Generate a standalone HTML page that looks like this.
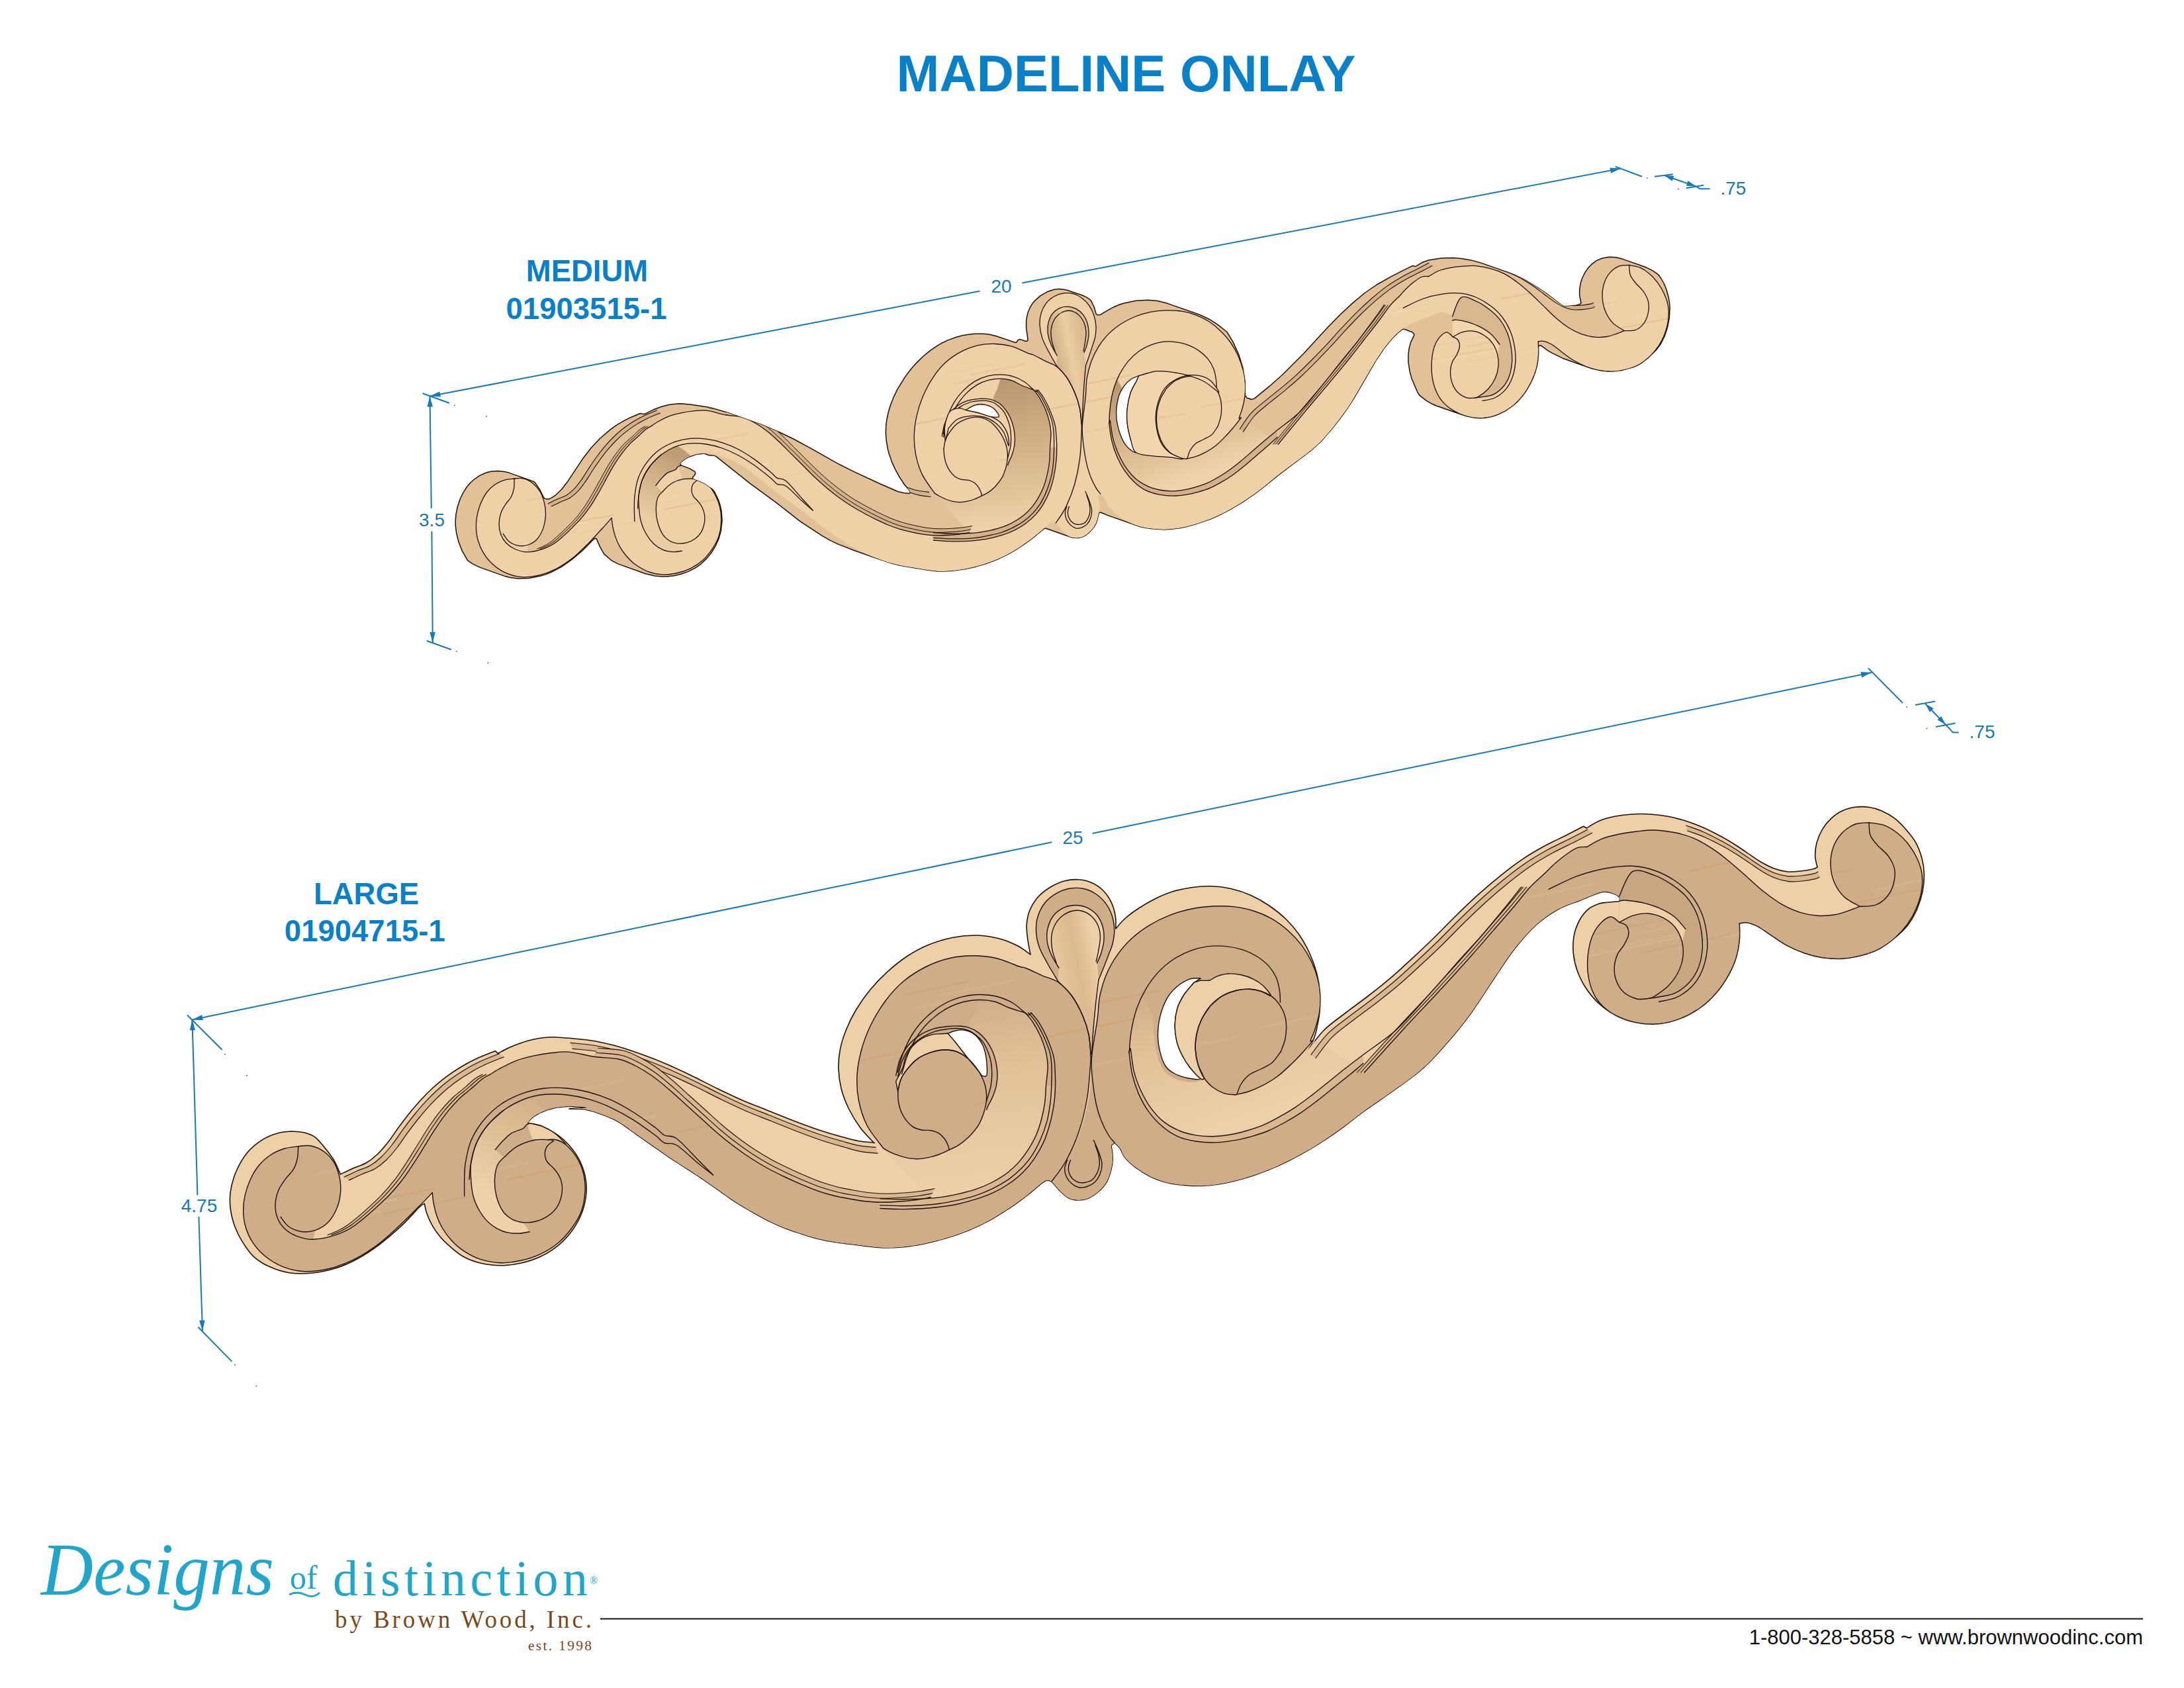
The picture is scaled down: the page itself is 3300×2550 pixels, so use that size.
<!DOCTYPE html>
<html><head><meta charset="utf-8"><title>Madeline Onlay</title>
<style>html,body{margin:0;padding:0;background:#fff}body{width:3300px;height:2550px;overflow:hidden}svg{display:block}</style>
</head><body>
<svg width="3300" height="2550" viewBox="0 0 3300 2550">
<rect width="3300" height="2550" fill="#fff"/>
<line x1="649.5" y1="598.5" x2="1480.6" y2="439.7" stroke="#1779b8" stroke-width="2"/>
<line x1="1544.3" y1="427.5" x2="2448.9" y2="254.6" stroke="#1779b8" stroke-width="2"/>
<polygon points="649.5,598.5 664.4,591.4 666,599.6" fill="#1779b8"/>
<polygon points="2448.9,254.6 2434,261.7 2432.4,253.5" fill="#1779b8"/>
<line x1="638.5" y1="594.3" x2="679.1" y2="609" stroke="#1779b8" stroke-width="2"/>
<line x1="2440.7" y1="251.6" x2="2481" y2="266.8" stroke="#1779b8" stroke-width="2"/>
<line x1="649.5" y1="598.5" x2="651.8" y2="768" stroke="#1779b8" stroke-width="2"/>
<line x1="652.4" y1="802.7" x2="653.8" y2="970.9" stroke="#1779b8" stroke-width="2"/>
<polygon points="649.5,598.5 653.9,614.5 645.5,614.5" fill="#1779b8"/>
<polygon points="653.8,970.9 649.4,954.9 657.8,954.9" fill="#1779b8"/>
<line x1="644.6" y1="968" x2="681.7" y2="981.2" stroke="#1779b8" stroke-width="2"/>
<circle cx="687" cy="612.3" r="1.1" fill="#777"/>
<circle cx="735" cy="629" r="1.1" fill="#777"/>
<circle cx="690" cy="984" r="1.1" fill="#777"/>
<circle cx="737.4" cy="1001.4" r="1.1" fill="#777"/>
<circle cx="2489" cy="269" r="1.1" fill="#777"/>
<circle cx="2536" cy="285.7" r="1.1" fill="#777"/>
<line x1="2514.8" y1="265" x2="2562.5" y2="281.5" stroke="#1779b8" stroke-width="2"/>
<polygon points="2514.8,265 2529.3,265.8 2526.7,273.4" fill="#1779b8"/>
<polygon points="2562.5,281.5 2548,280.7 2550.6,273.1" fill="#1779b8"/>
<line x1="2500" y1="266.8" x2="2527.7" y2="263.2" stroke="#1779b8" stroke-width="2"/>
<line x1="2547.8" y1="284.2" x2="2574.4" y2="279.7" stroke="#1779b8" stroke-width="2"/>
<polyline points="2562.5,281.5 2568.9,285.2 2583.5,285.2" fill="none" stroke="#1779b8" stroke-width="2"/>
<line x1="290.4" y1="1540.4" x2="1589.3" y2="1272.3" stroke="#1779b8" stroke-width="2"/>
<line x1="1650.8" y1="1258.9" x2="2828" y2="1016" stroke="#1779b8" stroke-width="2"/>
<polygon points="290.4,1540.4 305.2,1533 306.9,1541.3" fill="#1779b8"/>
<polygon points="2828,1016 2813.2,1023.4 2811.5,1015.1" fill="#1779b8"/>
<line x1="283" y1="1533.5" x2="335.7" y2="1586" stroke="#1779b8" stroke-width="2"/>
<line x1="2823" y1="1009.5" x2="2875" y2="1062" stroke="#1779b8" stroke-width="2"/>
<line x1="290.4" y1="1540.4" x2="298.4" y2="1805.4" stroke="#1779b8" stroke-width="2"/>
<line x1="300.4" y1="1837.7" x2="305.9" y2="2010.7" stroke="#1779b8" stroke-width="2"/>
<polygon points="290.4,1540.4 295.1,1556.3 286.7,1556.5" fill="#1779b8"/>
<polygon points="305.9,2010.7 301.2,1994.8 309.6,1994.6" fill="#1779b8"/>
<line x1="299.4" y1="2004.8" x2="350.2" y2="2056.6" stroke="#1779b8" stroke-width="2"/>
<circle cx="340" cy="1592.6" r="1.1" fill="#777"/>
<circle cx="373" cy="1624.7" r="1.1" fill="#777"/>
<circle cx="355" cy="2062" r="1.1" fill="#777"/>
<circle cx="387.4" cy="2094" r="1.1" fill="#777"/>
<circle cx="2881" cy="1068" r="1.1" fill="#777"/>
<circle cx="2911.5" cy="1100.5" r="1.1" fill="#777"/>
<line x1="2909" y1="1063" x2="2940" y2="1094.7" stroke="#1779b8" stroke-width="2"/>
<polygon points="2909,1063 2921.6,1070.2 2915.9,1075.8" fill="#1779b8"/>
<polygon points="2940,1094.7 2927.4,1087.5 2933.1,1081.9" fill="#1779b8"/>
<line x1="2894" y1="1065" x2="2924" y2="1059.5" stroke="#1779b8" stroke-width="2"/>
<line x1="2925" y1="1098" x2="2954.6" y2="1092.5" stroke="#1779b8" stroke-width="2"/>
<polyline points="2940,1094.7 2951,1106.6 2959.7,1106.6" fill="none" stroke="#1779b8" stroke-width="2"/>
<defs><clipPath id="clipL"><path d="M440 1709C443.3 1709.3 453.9 1709.4 460 1711C466.1 1712.6 471.4 1714.3 476.7 1718.3C481.9 1722.3 486.9 1729.2 491.7 1735C496.4 1740.8 501.5 1747.5 505 1753.3C508.5 1759.2 511.1 1766.6 512.7 1770C514.2 1773.4 514.1 1773.3 514.3 1774C517.5 1772.5 526.8 1767.9 533.3 1765C539.8 1762.1 547.2 1760.2 553.3 1756.7C559.4 1753.2 564.4 1749.3 570 1744C575.6 1738.7 581.1 1732.1 586.7 1725C592.2 1717.9 597.8 1709.2 603.3 1701.7C608.9 1694.2 614.4 1686.8 620 1680C625.6 1673.2 631.1 1666.7 636.7 1660.7C642.2 1654.7 647.2 1649.6 653.3 1644C659.4 1638.4 666.1 1632.7 673.3 1627.3C680.6 1621.9 688.9 1616.3 696.7 1611.7C704.4 1607 711.4 1603.3 720 1599.3C728.6 1595.3 743.6 1589.6 748.3 1587.7L752.3 1591.3C755.3 1589.8 764.3 1584.9 770 1582.3C775.7 1579.7 781.1 1577.6 786.7 1575.7C792.2 1573.7 797.8 1572 803.3 1570.7C808.9 1569.3 814.4 1568.3 820 1567.7C825.6 1567 830 1566.6 836.7 1566.7C843.3 1566.8 849.9 1567.4 860 1568.3C870.1 1569.3 885 1570.3 897.5 1572.5C910 1574.7 922.5 1577.7 935 1581.2C947.5 1584.8 960 1589.2 972.5 1593.8C985 1598.3 997.5 1603.3 1010 1608.8C1022.5 1614.2 1035 1620.2 1047.5 1626.2C1060 1632.3 1072.5 1639 1085 1645C1097.5 1651 1110 1657.1 1122.5 1662.5C1135 1667.9 1147.5 1672.5 1160 1677.5C1172.5 1682.5 1185 1687.7 1197.5 1692.5C1210 1697.3 1222.5 1702.1 1235 1706.2C1247.5 1710.4 1262.1 1714.6 1272.5 1717.5C1282.9 1720.4 1289.4 1722.3 1297.5 1723.8C1305.6 1725.2 1317.3 1725.8 1321.2 1726.2L1320.8 1726.8C1317.3 1722.9 1306.4 1712.4 1300 1703.8C1293.6 1695.1 1287.3 1684.8 1282.5 1675C1277.7 1665.2 1273.8 1655 1271.2 1645C1268.7 1635 1267.3 1625 1267 1615C1266.7 1605 1267.5 1595 1269.5 1585C1271.5 1575 1274.7 1565 1278.8 1555C1282.8 1545 1287.7 1535 1293.8 1525C1299.8 1515 1307.3 1504.4 1315 1495C1322.7 1485.6 1330.8 1477.1 1340 1468.8C1349.2 1460.4 1359.6 1451.9 1370 1445C1380.4 1438.1 1390.8 1432.3 1402.5 1427.5C1414.2 1422.7 1427.5 1418.7 1440 1416.2C1452.5 1413.8 1465.8 1412.7 1477.5 1413C1489.2 1413.3 1500 1415.4 1510 1418C1520 1420.6 1529.7 1424.8 1537.5 1428.8C1545.3 1432.8 1553.8 1439.8 1557 1442C1556.3 1438.3 1554 1427.4 1553 1420C1552 1412.6 1550.8 1404.8 1551.2 1397.5C1551.7 1390.2 1552.8 1383.1 1555.5 1376.2C1558.2 1369.4 1562.4 1362.2 1567.5 1356.2C1572.6 1350.3 1579.4 1345 1586.2 1340.8C1593.1 1336.5 1601.5 1332.8 1608.8 1330.8C1616 1328.8 1623.1 1328.2 1630 1328.8C1636.9 1329.2 1643.8 1331 1650 1333.8C1656.2 1336.5 1662.1 1340.5 1667 1345.5C1671.9 1350.5 1676.4 1357.2 1679.5 1363.8C1682.6 1370.3 1684.5 1378.5 1685.5 1385C1686.5 1391.5 1685.7 1400 1685.8 1403C1688.1 1400.4 1694.3 1392.6 1700 1387.5C1705.7 1382.4 1712.5 1377.4 1720 1372.5C1727.5 1367.6 1736.7 1362.2 1745 1358C1753.3 1353.8 1760.8 1350.4 1770 1347.5C1779.2 1344.6 1790 1342.2 1800 1340.8C1810 1339.3 1820 1338.5 1830 1338.8C1840 1339 1850 1340.2 1860 1342.5C1870 1344.8 1880.4 1348.2 1890 1352.5C1899.6 1356.8 1908.8 1362.1 1917.5 1368C1926.2 1373.9 1935 1380.8 1942.5 1388C1950 1395.2 1956.5 1402.6 1962.5 1411.2C1968.5 1419.9 1974.2 1430.2 1978.8 1440C1983.2 1449.8 1986.9 1460 1989.5 1470C1992.1 1480 1993.8 1490 1994.5 1500C1995.2 1510 1994.7 1520.4 1993.8 1530C1992.8 1539.6 1990.3 1550.6 1988.8 1557.5C1987.2 1564.4 1985.2 1569 1984.5 1571.2L1975 1588.3C1979.2 1583.1 1990.3 1566.4 2000 1556.7C2009.7 1546.9 2022.2 1538.6 2033.3 1530C2044.4 1521.4 2055.6 1513.6 2066.7 1505C2077.8 1496.4 2088.9 1487.8 2100 1478.3C2111.1 1468.9 2122.2 1458.6 2133.3 1448.3C2144.4 1438.1 2155.6 1427.5 2166.7 1416.7C2177.8 1405.8 2188.9 1394.2 2200 1383.3C2211.1 1372.5 2222.2 1361.7 2233.3 1351.7C2244.4 1341.7 2255.6 1332.2 2266.7 1323.3C2277.8 1314.4 2288.9 1305.8 2300 1298.3C2311.1 1290.8 2322.2 1284.4 2333.3 1278.3C2344.4 1272.2 2356.8 1266.7 2366.7 1261.7C2376.6 1256.7 2388.3 1250.6 2392.7 1248.3L2397.3 1251C2400.6 1249.2 2409.6 1242.9 2416.7 1240C2423.8 1237.1 2431.7 1235 2440 1233.3C2448.3 1231.7 2457.8 1230.6 2466.7 1230C2475.6 1229.4 2484.4 1229.4 2493.3 1230C2502.2 1230.6 2511.1 1231.7 2520 1233.3C2528.9 1235 2537.8 1237.2 2546.7 1240C2555.6 1242.8 2564.4 1246.1 2573.3 1250C2582.2 1253.9 2592.2 1259.2 2600 1263.3C2607.8 1267.5 2613.3 1270.8 2620 1275C2626.7 1279.2 2633.3 1283.9 2640 1288.3C2646.7 1292.8 2653.3 1297.8 2660 1301.7C2666.7 1305.6 2673.3 1309.2 2680 1311.7C2686.7 1314.2 2693.3 1315.9 2700 1316.7C2706.7 1317.4 2713.3 1316.7 2720 1316C2726.7 1315.3 2735.7 1313.7 2740 1312.7C2744.3 1311.7 2745 1310.4 2746 1310C2745.4 1307.2 2742.8 1299.4 2742.7 1293.3C2742.5 1287.2 2743.2 1280 2745 1273.3C2746.8 1266.7 2749.7 1259.4 2753.3 1253.3C2756.9 1247.2 2761.7 1241.4 2766.7 1236.7C2771.7 1231.9 2777.2 1227.9 2783.3 1225C2789.4 1222.1 2796.7 1220.3 2803.3 1219.3C2810 1218.4 2816.7 1218.4 2823.3 1219.3C2830 1220.3 2836.7 1222.1 2843.3 1225C2850 1227.9 2857.2 1231.9 2863.3 1236.7C2869.4 1241.4 2874.7 1247.2 2880 1253.3C2885.3 1259.4 2891 1266.1 2895 1273.3C2899 1280.6 2901.9 1288.9 2904 1296.7C2906.1 1304.4 2907.2 1311.7 2907.3 1320C2907.5 1328.3 2906.8 1337.8 2905 1346.7C2903.2 1355.6 2900.3 1365 2896.7 1373.3C2893.1 1381.7 2888.9 1389.4 2883.3 1396.7C2877.8 1403.9 2870.6 1410.6 2863.3 1416.7C2856.1 1422.8 2848.3 1428.9 2840 1433.3C2831.7 1437.8 2822.8 1440.8 2813.3 1443.3C2803.9 1445.8 2793.3 1447.8 2783.3 1448.3C2773.3 1448.9 2762.8 1448.1 2753.3 1446.7C2743.9 1445.3 2735.6 1443.1 2726.7 1440C2717.8 1436.9 2708.3 1432.8 2700 1428.3C2691.7 1423.9 2683.9 1418.1 2676.7 1413.3C2669.4 1408.6 2662.8 1403.2 2656.7 1400C2650.6 1396.8 2644.7 1394.8 2640 1394C2635.3 1393.2 2630.3 1394.8 2628.3 1395C2628.3 1399.2 2629.2 1411.4 2628.3 1420C2627.5 1428.6 2626.1 1437.8 2623.3 1446.7C2620.6 1455.6 2616.7 1464.4 2611.7 1473.3C2606.7 1482.2 2600.3 1491.9 2593.3 1500C2586.4 1508.1 2578.9 1515.3 2570 1521.7C2561.1 1528.1 2550.6 1534.2 2540 1538.3C2529.4 1542.5 2517.8 1545.6 2506.7 1546.7C2495.6 1547.8 2483.9 1546.9 2473.3 1545C2462.8 1543.1 2452.8 1539.7 2443.3 1535C2433.9 1530.3 2424.4 1523.6 2416.7 1516.7C2408.9 1509.7 2402.2 1501.7 2396.7 1493.3C2391.1 1485 2386.6 1475.6 2383.3 1466.7C2380.1 1457.8 2378.2 1448.9 2377.3 1440C2376.5 1431.1 2376.8 1421.7 2378.3 1413.3C2379.9 1405 2383.1 1396.7 2386.7 1390C2390.3 1383.3 2395 1377.5 2400 1373.3C2405 1369.2 2411.9 1366.7 2416.7 1365C2421.4 1363.3 2423.3 1363.9 2428.3 1363.3C2433.3 1362.8 2443.6 1361.9 2446.7 1361.7C2446.7 1360.7 2448.6 1357.7 2447 1355.7C2445.4 1353.7 2441.8 1351 2437.3 1349.7C2432.8 1348.3 2428.2 1346 2420 1347.7C2411.8 1349.4 2399.2 1355.7 2388.4 1359.9C2377.6 1364.2 2366.3 1367.1 2355.2 1373.2C2344.1 1379.3 2333.1 1386.4 2322 1396.4C2311 1406.4 2299.9 1418.8 2288.8 1432.9C2277.8 1447 2266.7 1464.7 2255.7 1481C2244.6 1497.3 2233.5 1515.6 2222.5 1530.8C2211.4 1546 2202.6 1557.4 2189.3 1572.2C2176 1587.1 2164.4 1602.2 2142.9 1620C2121.3 1637.9 2078.5 1665.9 2060 1679.4C2041.5 1692.9 2042 1693.5 2031.8 1701C2021.6 1708.5 2009.7 1717 1998.6 1724.2C1987.5 1731.4 1976.5 1738.1 1965.4 1744.1C1954.4 1750.2 1943.3 1755.8 1932.2 1760.7C1921.2 1765.7 1910.1 1770.1 1899.1 1774C1888 1777.9 1875.6 1781.5 1865.9 1784C1856.2 1786.4 1849.3 1787.7 1841 1788.9C1832.7 1790.2 1824.4 1791.1 1816.1 1791.4C1807.8 1791.7 1799.5 1791.3 1791.2 1790.6C1782.9 1789.9 1774.7 1789.2 1766.4 1787.3C1758.1 1785.3 1749.8 1782.8 1741.5 1779C1733.2 1775.1 1723.5 1769 1716.6 1764C1709.7 1759.1 1704 1754 1700 1749.1C1696 1744.3 1695.1 1738.8 1692.5 1735C1689.9 1731.2 1685.6 1727.7 1684.2 1726.2L1678.8 1730.5C1679 1732.1 1680.1 1736.3 1680.5 1740C1680.9 1743.7 1681.5 1747.9 1681.2 1752.5C1681 1757.1 1680.2 1762.1 1678.8 1767.5C1677.3 1772.9 1675.6 1779.6 1672.5 1785C1669.4 1790.4 1664.6 1795.8 1660 1800C1655.4 1804.2 1650 1807.8 1645 1810C1640 1812.2 1635 1813 1630 1813C1625 1813 1619.6 1812.2 1615 1810C1610.4 1807.8 1606.2 1803.5 1602.5 1800C1598.8 1796.5 1594.8 1791.2 1592.5 1788.8C1590.2 1786.2 1589.4 1785.6 1588.8 1785C1587.1 1784.9 1584.6 1781.1 1578.8 1784.3C1573 1787.5 1562.2 1797.9 1554 1804.2C1545.7 1810.6 1538.7 1816 1529.1 1822.5C1519.4 1829 1507 1837.1 1495.9 1843.2C1484.8 1849.3 1473.8 1854.4 1462.7 1859C1451.7 1863.5 1440.6 1867.3 1429.5 1870.6C1418.5 1873.9 1407.4 1876.7 1396.4 1878.9C1385.3 1881.1 1374.2 1882.9 1363.2 1883.9C1352.1 1884.8 1343 1885.4 1330 1884.7C1317 1884 1296.7 1880.9 1285 1879.5C1273.3 1878.1 1268.3 1877.6 1260 1876.2C1251.7 1874.9 1243.3 1873.3 1235 1871.2C1226.7 1869.2 1218.3 1866.5 1210 1863.8C1201.7 1861 1193.3 1858.3 1185 1855C1176.7 1851.7 1168.3 1847.9 1160 1843.8C1151.7 1839.6 1143.3 1834.8 1135 1830C1126.7 1825.2 1118.3 1820.4 1110 1815C1101.7 1809.6 1093.3 1803.3 1085 1797.5C1076.7 1791.7 1068.3 1785.6 1060 1780C1051.7 1774.4 1043.3 1769.2 1035 1763.8C1026.7 1758.3 1018.3 1753.1 1010 1747.5C1001.7 1741.9 993.3 1735.8 985 1730C976.7 1724.2 968.3 1718.3 960 1712.5C951.7 1706.7 943.3 1699.8 935 1695C926.7 1690.2 918.3 1686.9 910 1683.8C901.7 1680.6 893.3 1677.7 885 1676.2C876.7 1674.8 859.7 1675.5 860 1675C860.3 1674.5 887.8 1673.9 886.7 1673.3C885.6 1672.8 863.3 1671.1 853.3 1671.7C843.3 1672.2 834.4 1674.2 826.7 1676.7C818.9 1679.2 811.7 1683.3 806.7 1686.7C801.7 1690.1 798.3 1695.3 796.7 1697C797.8 1697.1 799.4 1696.6 803.3 1697.3C807.2 1698.1 814.2 1699.3 820 1701.7C825.8 1704.1 832.2 1707.5 838.3 1711.7C844.4 1715.8 850.8 1720.6 856.7 1726.7C862.5 1732.8 868.9 1740.6 873.3 1748.3C877.8 1756.1 881.2 1764.7 883.3 1773.3C885.4 1781.9 886.6 1790.6 886 1800C885.4 1809.4 883.5 1820.3 880 1830C876.5 1839.7 871.1 1849.7 865 1858.3C858.9 1866.9 851.4 1875 843.3 1881.7C835.3 1888.3 826.1 1893.9 816.7 1898.3C807.2 1902.8 796.7 1906.1 786.7 1908.3C776.7 1910.6 766.7 1911.7 756.7 1911.7C746.7 1911.7 736.1 1910.6 726.7 1908.3C717.2 1906.1 708.1 1902.8 700 1898.3C691.9 1893.9 684.2 1886.7 678.3 1881.7C672.5 1876.7 669.2 1873.3 665 1868.3C660.8 1863.3 656.7 1857.5 653.3 1851.7C650 1845.8 647 1838.9 645 1833.3C643 1827.8 641.9 1820.8 641.3 1818.3C640 1819.3 639.1 1818.4 633.3 1824C627.6 1829.6 616.7 1842.3 606.7 1851.7C596.7 1861 584.4 1871.7 573.3 1880C562.2 1888.3 551.1 1895.7 540 1901.7C528.9 1907.7 518.3 1912.4 506.7 1916C495 1919.6 481.7 1922.2 470 1923.3C458.3 1924.4 447.2 1924.3 436.7 1922.7C426.1 1921 415.6 1917.4 406.7 1913.3C397.8 1909.3 390 1904.4 383.3 1898.3C376.7 1892.2 371.4 1884.2 366.7 1876.7C361.9 1869.2 358.1 1861.7 355 1853.3C351.9 1845 349.4 1835.6 348.3 1826.7C347.2 1817.8 346.9 1809.4 348.3 1800C349.7 1790.6 352.5 1779.7 356.7 1770C360.8 1760.3 366.7 1749.7 373.3 1741.7C380 1733.6 388.9 1726.7 396.7 1721.7C404.4 1716.7 412.8 1713.8 420 1711.7C427.2 1709.6 436.7 1709.4 440 1709Z"/></clipPath></defs>
<defs><linearGradient id="gvalLL" gradientUnits="userSpaceOnUse" x1="1470" y1="1500" x2="1500" y2="1800"><stop offset="0" stop-color="#cfad88"/><stop offset="0.4" stop-color="#e3c299"/><stop offset="1" stop-color="#edcfa8"/></linearGradient><linearGradient id="gvalRL" gradientUnits="userSpaceOnUse" x1="1720" y1="1500" x2="1800" y2="1720"><stop offset="0" stop-color="#cfad88"/><stop offset="0.4" stop-color="#e3c299"/><stop offset="1" stop-color="#edcfa8"/></linearGradient><linearGradient id="gc2L" gradientUnits="userSpaceOnUse" x1="800" y1="1680" x2="730" y2="1800"><stop offset="0" stop-color="#d6b48c"/><stop offset="1" stop-color="#efd2aa"/></linearGradient><linearGradient id="gstemL" gradientUnits="userSpaceOnUse" x1="1600" y1="1500" x2="1665" y2="1487"><stop offset="0" stop-color="#e9caa0"/><stop offset="0.55" stop-color="#dcb88e"/><stop offset="1" stop-color="#ecd0a8"/></linearGradient></defs>
<path d="M440 1709C443.3 1709.3 453.9 1709.4 460 1711C466.1 1712.6 471.4 1714.3 476.7 1718.3C481.9 1722.3 486.9 1729.2 491.7 1735C496.4 1740.8 501.5 1747.5 505 1753.3C508.5 1759.2 511.1 1766.6 512.7 1770C514.2 1773.4 514.1 1773.3 514.3 1774C517.5 1772.5 526.8 1767.9 533.3 1765C539.8 1762.1 547.2 1760.2 553.3 1756.7C559.4 1753.2 564.4 1749.3 570 1744C575.6 1738.7 581.1 1732.1 586.7 1725C592.2 1717.9 597.8 1709.2 603.3 1701.7C608.9 1694.2 614.4 1686.8 620 1680C625.6 1673.2 631.1 1666.7 636.7 1660.7C642.2 1654.7 647.2 1649.6 653.3 1644C659.4 1638.4 666.1 1632.7 673.3 1627.3C680.6 1621.9 688.9 1616.3 696.7 1611.7C704.4 1607 711.4 1603.3 720 1599.3C728.6 1595.3 743.6 1589.6 748.3 1587.7L752.3 1591.3C755.3 1589.8 764.3 1584.9 770 1582.3C775.7 1579.7 781.1 1577.6 786.7 1575.7C792.2 1573.7 797.8 1572 803.3 1570.7C808.9 1569.3 814.4 1568.3 820 1567.7C825.6 1567 830 1566.6 836.7 1566.7C843.3 1566.8 849.9 1567.4 860 1568.3C870.1 1569.3 885 1570.3 897.5 1572.5C910 1574.7 922.5 1577.7 935 1581.2C947.5 1584.8 960 1589.2 972.5 1593.8C985 1598.3 997.5 1603.3 1010 1608.8C1022.5 1614.2 1035 1620.2 1047.5 1626.2C1060 1632.3 1072.5 1639 1085 1645C1097.5 1651 1110 1657.1 1122.5 1662.5C1135 1667.9 1147.5 1672.5 1160 1677.5C1172.5 1682.5 1185 1687.7 1197.5 1692.5C1210 1697.3 1222.5 1702.1 1235 1706.2C1247.5 1710.4 1262.1 1714.6 1272.5 1717.5C1282.9 1720.4 1289.4 1722.3 1297.5 1723.8C1305.6 1725.2 1317.3 1725.8 1321.2 1726.2L1320.8 1726.8C1317.3 1722.9 1306.4 1712.4 1300 1703.8C1293.6 1695.1 1287.3 1684.8 1282.5 1675C1277.7 1665.2 1273.8 1655 1271.2 1645C1268.7 1635 1267.3 1625 1267 1615C1266.7 1605 1267.5 1595 1269.5 1585C1271.5 1575 1274.7 1565 1278.8 1555C1282.8 1545 1287.7 1535 1293.8 1525C1299.8 1515 1307.3 1504.4 1315 1495C1322.7 1485.6 1330.8 1477.1 1340 1468.8C1349.2 1460.4 1359.6 1451.9 1370 1445C1380.4 1438.1 1390.8 1432.3 1402.5 1427.5C1414.2 1422.7 1427.5 1418.7 1440 1416.2C1452.5 1413.8 1465.8 1412.7 1477.5 1413C1489.2 1413.3 1500 1415.4 1510 1418C1520 1420.6 1529.7 1424.8 1537.5 1428.8C1545.3 1432.8 1553.8 1439.8 1557 1442C1556.3 1438.3 1554 1427.4 1553 1420C1552 1412.6 1550.8 1404.8 1551.2 1397.5C1551.7 1390.2 1552.8 1383.1 1555.5 1376.2C1558.2 1369.4 1562.4 1362.2 1567.5 1356.2C1572.6 1350.3 1579.4 1345 1586.2 1340.8C1593.1 1336.5 1601.5 1332.8 1608.8 1330.8C1616 1328.8 1623.1 1328.2 1630 1328.8C1636.9 1329.2 1643.8 1331 1650 1333.8C1656.2 1336.5 1662.1 1340.5 1667 1345.5C1671.9 1350.5 1676.4 1357.2 1679.5 1363.8C1682.6 1370.3 1684.5 1378.5 1685.5 1385C1686.5 1391.5 1685.7 1400 1685.8 1403C1688.1 1400.4 1694.3 1392.6 1700 1387.5C1705.7 1382.4 1712.5 1377.4 1720 1372.5C1727.5 1367.6 1736.7 1362.2 1745 1358C1753.3 1353.8 1760.8 1350.4 1770 1347.5C1779.2 1344.6 1790 1342.2 1800 1340.8C1810 1339.3 1820 1338.5 1830 1338.8C1840 1339 1850 1340.2 1860 1342.5C1870 1344.8 1880.4 1348.2 1890 1352.5C1899.6 1356.8 1908.8 1362.1 1917.5 1368C1926.2 1373.9 1935 1380.8 1942.5 1388C1950 1395.2 1956.5 1402.6 1962.5 1411.2C1968.5 1419.9 1974.2 1430.2 1978.8 1440C1983.2 1449.8 1986.9 1460 1989.5 1470C1992.1 1480 1993.8 1490 1994.5 1500C1995.2 1510 1994.7 1520.4 1993.8 1530C1992.8 1539.6 1990.3 1550.6 1988.8 1557.5C1987.2 1564.4 1985.2 1569 1984.5 1571.2L1975 1588.3C1979.2 1583.1 1990.3 1566.4 2000 1556.7C2009.7 1546.9 2022.2 1538.6 2033.3 1530C2044.4 1521.4 2055.6 1513.6 2066.7 1505C2077.8 1496.4 2088.9 1487.8 2100 1478.3C2111.1 1468.9 2122.2 1458.6 2133.3 1448.3C2144.4 1438.1 2155.6 1427.5 2166.7 1416.7C2177.8 1405.8 2188.9 1394.2 2200 1383.3C2211.1 1372.5 2222.2 1361.7 2233.3 1351.7C2244.4 1341.7 2255.6 1332.2 2266.7 1323.3C2277.8 1314.4 2288.9 1305.8 2300 1298.3C2311.1 1290.8 2322.2 1284.4 2333.3 1278.3C2344.4 1272.2 2356.8 1266.7 2366.7 1261.7C2376.6 1256.7 2388.3 1250.6 2392.7 1248.3L2397.3 1251C2400.6 1249.2 2409.6 1242.9 2416.7 1240C2423.8 1237.1 2431.7 1235 2440 1233.3C2448.3 1231.7 2457.8 1230.6 2466.7 1230C2475.6 1229.4 2484.4 1229.4 2493.3 1230C2502.2 1230.6 2511.1 1231.7 2520 1233.3C2528.9 1235 2537.8 1237.2 2546.7 1240C2555.6 1242.8 2564.4 1246.1 2573.3 1250C2582.2 1253.9 2592.2 1259.2 2600 1263.3C2607.8 1267.5 2613.3 1270.8 2620 1275C2626.7 1279.2 2633.3 1283.9 2640 1288.3C2646.7 1292.8 2653.3 1297.8 2660 1301.7C2666.7 1305.6 2673.3 1309.2 2680 1311.7C2686.7 1314.2 2693.3 1315.9 2700 1316.7C2706.7 1317.4 2713.3 1316.7 2720 1316C2726.7 1315.3 2735.7 1313.7 2740 1312.7C2744.3 1311.7 2745 1310.4 2746 1310C2745.4 1307.2 2742.8 1299.4 2742.7 1293.3C2742.5 1287.2 2743.2 1280 2745 1273.3C2746.8 1266.7 2749.7 1259.4 2753.3 1253.3C2756.9 1247.2 2761.7 1241.4 2766.7 1236.7C2771.7 1231.9 2777.2 1227.9 2783.3 1225C2789.4 1222.1 2796.7 1220.3 2803.3 1219.3C2810 1218.4 2816.7 1218.4 2823.3 1219.3C2830 1220.3 2836.7 1222.1 2843.3 1225C2850 1227.9 2857.2 1231.9 2863.3 1236.7C2869.4 1241.4 2874.7 1247.2 2880 1253.3C2885.3 1259.4 2891 1266.1 2895 1273.3C2899 1280.6 2901.9 1288.9 2904 1296.7C2906.1 1304.4 2907.2 1311.7 2907.3 1320C2907.5 1328.3 2906.8 1337.8 2905 1346.7C2903.2 1355.6 2900.3 1365 2896.7 1373.3C2893.1 1381.7 2888.9 1389.4 2883.3 1396.7C2877.8 1403.9 2870.6 1410.6 2863.3 1416.7C2856.1 1422.8 2848.3 1428.9 2840 1433.3C2831.7 1437.8 2822.8 1440.8 2813.3 1443.3C2803.9 1445.8 2793.3 1447.8 2783.3 1448.3C2773.3 1448.9 2762.8 1448.1 2753.3 1446.7C2743.9 1445.3 2735.6 1443.1 2726.7 1440C2717.8 1436.9 2708.3 1432.8 2700 1428.3C2691.7 1423.9 2683.9 1418.1 2676.7 1413.3C2669.4 1408.6 2662.8 1403.2 2656.7 1400C2650.6 1396.8 2644.7 1394.8 2640 1394C2635.3 1393.2 2630.3 1394.8 2628.3 1395C2628.3 1399.2 2629.2 1411.4 2628.3 1420C2627.5 1428.6 2626.1 1437.8 2623.3 1446.7C2620.6 1455.6 2616.7 1464.4 2611.7 1473.3C2606.7 1482.2 2600.3 1491.9 2593.3 1500C2586.4 1508.1 2578.9 1515.3 2570 1521.7C2561.1 1528.1 2550.6 1534.2 2540 1538.3C2529.4 1542.5 2517.8 1545.6 2506.7 1546.7C2495.6 1547.8 2483.9 1546.9 2473.3 1545C2462.8 1543.1 2452.8 1539.7 2443.3 1535C2433.9 1530.3 2424.4 1523.6 2416.7 1516.7C2408.9 1509.7 2402.2 1501.7 2396.7 1493.3C2391.1 1485 2386.6 1475.6 2383.3 1466.7C2380.1 1457.8 2378.2 1448.9 2377.3 1440C2376.5 1431.1 2376.8 1421.7 2378.3 1413.3C2379.9 1405 2383.1 1396.7 2386.7 1390C2390.3 1383.3 2395 1377.5 2400 1373.3C2405 1369.2 2411.9 1366.7 2416.7 1365C2421.4 1363.3 2423.3 1363.9 2428.3 1363.3C2433.3 1362.8 2443.6 1361.9 2446.7 1361.7C2446.7 1360.7 2448.6 1357.7 2447 1355.7C2445.4 1353.7 2441.8 1351 2437.3 1349.7C2432.8 1348.3 2428.2 1346 2420 1347.7C2411.8 1349.4 2399.2 1355.7 2388.4 1359.9C2377.6 1364.2 2366.3 1367.1 2355.2 1373.2C2344.1 1379.3 2333.1 1386.4 2322 1396.4C2311 1406.4 2299.9 1418.8 2288.8 1432.9C2277.8 1447 2266.7 1464.7 2255.7 1481C2244.6 1497.3 2233.5 1515.6 2222.5 1530.8C2211.4 1546 2202.6 1557.4 2189.3 1572.2C2176 1587.1 2164.4 1602.2 2142.9 1620C2121.3 1637.9 2078.5 1665.9 2060 1679.4C2041.5 1692.9 2042 1693.5 2031.8 1701C2021.6 1708.5 2009.7 1717 1998.6 1724.2C1987.5 1731.4 1976.5 1738.1 1965.4 1744.1C1954.4 1750.2 1943.3 1755.8 1932.2 1760.7C1921.2 1765.7 1910.1 1770.1 1899.1 1774C1888 1777.9 1875.6 1781.5 1865.9 1784C1856.2 1786.4 1849.3 1787.7 1841 1788.9C1832.7 1790.2 1824.4 1791.1 1816.1 1791.4C1807.8 1791.7 1799.5 1791.3 1791.2 1790.6C1782.9 1789.9 1774.7 1789.2 1766.4 1787.3C1758.1 1785.3 1749.8 1782.8 1741.5 1779C1733.2 1775.1 1723.5 1769 1716.6 1764C1709.7 1759.1 1704 1754 1700 1749.1C1696 1744.3 1695.1 1738.8 1692.5 1735C1689.9 1731.2 1685.6 1727.7 1684.2 1726.2L1678.8 1730.5C1679 1732.1 1680.1 1736.3 1680.5 1740C1680.9 1743.7 1681.5 1747.9 1681.2 1752.5C1681 1757.1 1680.2 1762.1 1678.8 1767.5C1677.3 1772.9 1675.6 1779.6 1672.5 1785C1669.4 1790.4 1664.6 1795.8 1660 1800C1655.4 1804.2 1650 1807.8 1645 1810C1640 1812.2 1635 1813 1630 1813C1625 1813 1619.6 1812.2 1615 1810C1610.4 1807.8 1606.2 1803.5 1602.5 1800C1598.8 1796.5 1594.8 1791.2 1592.5 1788.8C1590.2 1786.2 1589.4 1785.6 1588.8 1785C1587.1 1784.9 1584.6 1781.1 1578.8 1784.3C1573 1787.5 1562.2 1797.9 1554 1804.2C1545.7 1810.6 1538.7 1816 1529.1 1822.5C1519.4 1829 1507 1837.1 1495.9 1843.2C1484.8 1849.3 1473.8 1854.4 1462.7 1859C1451.7 1863.5 1440.6 1867.3 1429.5 1870.6C1418.5 1873.9 1407.4 1876.7 1396.4 1878.9C1385.3 1881.1 1374.2 1882.9 1363.2 1883.9C1352.1 1884.8 1343 1885.4 1330 1884.7C1317 1884 1296.7 1880.9 1285 1879.5C1273.3 1878.1 1268.3 1877.6 1260 1876.2C1251.7 1874.9 1243.3 1873.3 1235 1871.2C1226.7 1869.2 1218.3 1866.5 1210 1863.8C1201.7 1861 1193.3 1858.3 1185 1855C1176.7 1851.7 1168.3 1847.9 1160 1843.8C1151.7 1839.6 1143.3 1834.8 1135 1830C1126.7 1825.2 1118.3 1820.4 1110 1815C1101.7 1809.6 1093.3 1803.3 1085 1797.5C1076.7 1791.7 1068.3 1785.6 1060 1780C1051.7 1774.4 1043.3 1769.2 1035 1763.8C1026.7 1758.3 1018.3 1753.1 1010 1747.5C1001.7 1741.9 993.3 1735.8 985 1730C976.7 1724.2 968.3 1718.3 960 1712.5C951.7 1706.7 943.3 1699.8 935 1695C926.7 1690.2 918.3 1686.9 910 1683.8C901.7 1680.6 893.3 1677.7 885 1676.2C876.7 1674.8 859.7 1675.5 860 1675C860.3 1674.5 887.8 1673.9 886.7 1673.3C885.6 1672.8 863.3 1671.1 853.3 1671.7C843.3 1672.2 834.4 1674.2 826.7 1676.7C818.9 1679.2 811.7 1683.3 806.7 1686.7C801.7 1690.1 798.3 1695.3 796.7 1697C797.8 1697.1 799.4 1696.6 803.3 1697.3C807.2 1698.1 814.2 1699.3 820 1701.7C825.8 1704.1 832.2 1707.5 838.3 1711.7C844.4 1715.8 850.8 1720.6 856.7 1726.7C862.5 1732.8 868.9 1740.6 873.3 1748.3C877.8 1756.1 881.2 1764.7 883.3 1773.3C885.4 1781.9 886.6 1790.6 886 1800C885.4 1809.4 883.5 1820.3 880 1830C876.5 1839.7 871.1 1849.7 865 1858.3C858.9 1866.9 851.4 1875 843.3 1881.7C835.3 1888.3 826.1 1893.9 816.7 1898.3C807.2 1902.8 796.7 1906.1 786.7 1908.3C776.7 1910.6 766.7 1911.7 756.7 1911.7C746.7 1911.7 736.1 1910.6 726.7 1908.3C717.2 1906.1 708.1 1902.8 700 1898.3C691.9 1893.9 684.2 1886.7 678.3 1881.7C672.5 1876.7 669.2 1873.3 665 1868.3C660.8 1863.3 656.7 1857.5 653.3 1851.7C650 1845.8 647 1838.9 645 1833.3C643 1827.8 641.9 1820.8 641.3 1818.3C640 1819.3 639.1 1818.4 633.3 1824C627.6 1829.6 616.7 1842.3 606.7 1851.7C596.7 1861 584.4 1871.7 573.3 1880C562.2 1888.3 551.1 1895.7 540 1901.7C528.9 1907.7 518.3 1912.4 506.7 1916C495 1919.6 481.7 1922.2 470 1923.3C458.3 1924.4 447.2 1924.3 436.7 1922.7C426.1 1921 415.6 1917.4 406.7 1913.3C397.8 1909.3 390 1904.4 383.3 1898.3C376.7 1892.2 371.4 1884.2 366.7 1876.7C361.9 1869.2 358.1 1861.7 355 1853.3C351.9 1845 349.4 1835.6 348.3 1826.7C347.2 1817.8 346.9 1809.4 348.3 1800C349.7 1790.6 352.5 1779.7 356.7 1770C360.8 1760.3 366.7 1749.7 373.3 1741.7C380 1733.6 388.9 1726.7 396.7 1721.7C404.4 1716.7 412.8 1713.8 420 1711.7C427.2 1709.6 436.7 1709.4 440 1709Z" fill="#edcfa8" stroke="#1c1008" stroke-width="1.5999999999999999" stroke-linejoin="round"/>
<g clip-path="url(#clipL)">
<path d="M450.7 1731.7C453.9 1731.6 463.4 1729.6 470 1731C476.6 1732.4 484.2 1735.7 490 1740C495.8 1744.3 501.1 1750 505 1756.7C508.9 1763.3 511.8 1772.2 513.3 1780C514.9 1787.8 515.2 1795.6 514.3 1803.3C513.5 1811.1 511.6 1819.3 508.3 1826.7C505.1 1834 500.3 1842.1 495 1847.3C489.7 1852.6 479.7 1856.5 476.7 1858.3L473.3 1872.3C478.9 1871.2 496.1 1869.3 506.7 1865.7C517.2 1862.1 524 1859.8 536.7 1850.7C549.4 1841.5 571.1 1822 582.9 1810.6C594.8 1799.2 600.6 1791.5 607.8 1782.4C615 1773.3 620.3 1764.7 626.1 1755.8C631.9 1747 639.9 1733.7 642.7 1729.3C645.4 1724.9 653.5 1711.3 659.3 1702.8C665.1 1694.2 671.4 1685.3 677.5 1677.9C683.6 1670.4 691.1 1662.7 695.8 1658C700.5 1653.3 702.4 1652.4 705.7 1649.7C709 1646.9 711.8 1644.7 715.7 1641.4C719.5 1638.1 724.8 1632.8 728.9 1629.8C733.1 1626.7 738.6 1624.2 740.5 1623.1C743.3 1621.5 750.2 1616.8 757.1 1613.2C764 1609.6 773.7 1604.6 782 1601.6C790.3 1598.5 798.6 1596.7 806.9 1594.9C815.2 1593.1 822.9 1591.8 831.8 1590.8C840.6 1589.8 849 1588.2 860 1589.1C870.9 1590 885 1594.4 897.5 1596.2C910 1598.1 924.6 1597.7 935 1600C945.4 1602.3 951.7 1605.8 960 1610C968.3 1614.2 976.7 1619.2 985 1625C993.3 1630.8 1001.7 1637.9 1010 1645C1018.3 1652.1 1026.7 1660 1035 1667.5C1043.3 1675 1051.7 1682.5 1060 1690C1068.3 1697.5 1076.7 1705.4 1085 1712.5C1093.3 1719.6 1101.7 1726.2 1110 1732.5C1118.3 1738.8 1126.7 1744.6 1135 1750C1143.3 1755.4 1151.7 1760.4 1160 1765C1168.3 1769.6 1176.7 1773.5 1185 1777.5C1193.3 1781.5 1201.7 1785.2 1210 1788.8C1218.3 1792.3 1226.7 1795.8 1235 1798.8C1243.3 1801.7 1251.7 1804.2 1260 1806.2C1268.3 1808.3 1276.7 1809.8 1285 1811.2C1293.3 1812.7 1301.7 1814.2 1310 1815C1318.3 1815.8 1326.7 1816.2 1335 1816.2C1343.3 1816.2 1351.7 1815.6 1360 1815C1368.3 1814.4 1377.3 1813.5 1385 1812.5C1392.7 1811.5 1402.5 1809.4 1406 1808.8L1335 1735C1330.8 1729.2 1316.2 1712.1 1310 1700C1303.8 1687.9 1300 1675 1297.5 1662.5C1295 1650 1294.4 1637.5 1295 1625C1295.6 1612.5 1297.9 1600 1301.2 1587.5C1304.6 1575 1309 1562.5 1315 1550C1321 1537.5 1329.2 1523.8 1337.5 1512.5C1345.8 1501.2 1354.6 1491.2 1365 1482.5C1375.4 1473.8 1388.3 1465.8 1400 1460C1411.7 1454.2 1423.3 1450.2 1435 1447.5C1446.7 1444.8 1458.3 1443.8 1470 1443.8C1481.7 1443.8 1493.3 1444.8 1505 1447.5C1516.7 1450.2 1532.5 1457.5 1540 1460C1547.5 1462.5 1544.2 1460.2 1550 1462.5C1555.8 1464.8 1566.9 1470.2 1575 1473.8C1583.1 1477.3 1591.2 1478.5 1598.8 1483.8C1606.2 1489 1613.8 1496.5 1620 1505C1626.2 1513.5 1632.1 1525.4 1636.2 1535C1640.4 1544.6 1643 1552.9 1645 1562.5C1647 1572.1 1647.6 1584.6 1648 1592.5C1648.4 1600.4 1648.4 1598.8 1647.5 1610C1646.6 1621.2 1645.4 1643.3 1642.5 1660C1639.6 1676.7 1635.4 1694.2 1630 1710C1624.6 1725.8 1616.9 1742.5 1610 1755C1603.1 1767.5 1592.3 1780 1588.8 1785C1587.1 1784.9 1584.6 1781.1 1578.8 1784.3C1573 1787.5 1562.2 1797.9 1554 1804.2C1545.7 1810.6 1538.7 1816 1529.1 1822.5C1519.4 1829 1507 1837.1 1495.9 1843.2C1484.8 1849.3 1473.8 1854.4 1462.7 1859C1451.7 1863.5 1440.6 1867.3 1429.5 1870.6C1418.5 1873.9 1407.4 1876.7 1396.4 1878.9C1385.3 1881.1 1374.2 1882.9 1363.2 1883.9C1352.1 1884.8 1343 1885.4 1330 1884.7C1317 1884 1296.7 1880.9 1285 1879.5C1273.3 1878.1 1268.3 1877.6 1260 1876.2C1251.7 1874.9 1243.3 1873.3 1235 1871.2C1226.7 1869.2 1218.3 1866.5 1210 1863.8C1201.7 1861 1193.3 1858.3 1185 1855C1176.7 1851.7 1168.3 1847.9 1160 1843.8C1151.7 1839.6 1143.3 1834.8 1135 1830C1126.7 1825.2 1118.3 1820.4 1110 1815C1101.7 1809.6 1093.3 1803.3 1085 1797.5C1076.7 1791.7 1068.3 1785.6 1060 1780C1051.7 1774.4 1043.3 1769.2 1035 1763.8C1026.7 1758.3 1018.3 1753.1 1010 1747.5C1001.7 1741.9 993.3 1735.8 985 1730C976.7 1724.2 968.3 1718.3 960 1712.5C951.7 1706.7 943.3 1699.8 935 1695C926.7 1690.2 918.3 1686.9 910 1683.8C901.7 1680.6 893.3 1677.7 885 1676.2C876.7 1674.8 859.7 1675.5 860 1675C860.3 1674.5 887.8 1673.9 886.7 1673.3C885.6 1672.8 863.3 1671.1 853.3 1671.7C843.3 1672.2 834.4 1674.2 826.7 1676.7C818.9 1679.2 811.7 1683.3 806.7 1686.7C801.7 1690.1 798.3 1695.3 796.7 1697C798.3 1701.2 801.6 1718.2 806.7 1722.3C811.8 1726.4 823.9 1721.8 827.3 1721.7C829.4 1721.7 835.4 1720.4 840 1721.7C844.6 1722.9 849.7 1724.8 855 1729.3C860.3 1733.9 867.2 1741.7 871.7 1749C876.1 1756.3 879.6 1764.8 881.7 1773.3C883.7 1781.8 884.6 1790.6 884 1800C883.4 1809.4 881.8 1820.7 878.3 1830C874.9 1839.3 869.2 1848.1 863.3 1856C857.5 1863.9 851.1 1871.3 843.3 1877.7C835.6 1884.1 826.1 1889.9 816.7 1894.3C807.2 1898.8 796.7 1902.1 786.7 1904.3C776.7 1906.6 766.7 1907.9 756.7 1907.7C746.7 1907.4 736.1 1905.7 726.7 1902.7C717.2 1899.6 707.5 1894.2 700 1889.3C692.5 1884.4 686.9 1879.1 681.7 1873.3C676.4 1867.6 671.9 1861.1 668.3 1855C664.7 1848.9 662.2 1843.1 660 1836.7C657.8 1830.3 656.1 1822.5 655 1816.7C653.9 1810.8 653.6 1804.2 653.3 1801.7C650 1805.1 641.7 1814 633.3 1822.3C625 1830.7 613.9 1841.9 603.3 1851.7C592.8 1861.4 581.7 1872.1 570 1880.7C558.3 1889.3 545.6 1897.3 533.3 1903.3C521.1 1909.3 508.9 1913.8 496.7 1916.7C484.4 1919.6 471.7 1921.2 460 1920.7C448.3 1920.1 436.7 1917.2 426.7 1913.3C416.7 1909.4 407.5 1903.4 400 1897.3C392.5 1891.2 386.5 1884 381.7 1876.7C376.8 1869.3 373.3 1861.1 371 1853.3C368.7 1845.6 367.8 1837.8 367.7 1830C367.5 1822.2 368.2 1814.7 370 1806.7C371.8 1798.6 374.7 1789.4 378.3 1781.7C381.9 1773.9 386.4 1766.3 391.7 1760C396.9 1753.7 403.6 1748.2 410 1744C416.4 1739.8 423.2 1737.1 430 1735C436.8 1732.9 447.2 1732.2 450.7 1731.7Z" fill="#cfad88" stroke="none"/>
<path d="M1684.2 1726.2C1682.7 1724.4 1678.4 1720.6 1675 1715C1671.6 1709.4 1666.9 1700.4 1663.8 1692.5C1660.6 1684.6 1658.3 1677.1 1656.2 1667.5C1654.2 1657.9 1652.4 1646.7 1651.2 1635C1650.1 1623.3 1648.3 1613.5 1649.5 1597.5C1650.7 1581.5 1656.2 1554.3 1658.2 1539.1C1660.3 1523.8 1659.4 1517 1661.6 1505.9C1663.8 1494.8 1667.1 1483.2 1671.5 1472.7C1675.9 1462.2 1681.7 1452 1688.1 1442.9C1694.5 1433.7 1701.7 1425.4 1709.7 1418C1717.7 1410.5 1726.8 1403.9 1736.2 1398.1C1745.6 1392.3 1755.6 1387.3 1766.1 1383.1C1776.6 1379 1788.2 1375.5 1799.3 1373.2C1810.3 1370.8 1821.4 1369.6 1832.4 1369C1843.5 1368.5 1855.1 1368.6 1865.6 1369.9C1876.1 1371.1 1886.1 1373.5 1895.5 1376.5C1904.9 1379.5 1913.4 1383.1 1922 1388.1C1930.6 1393.1 1939.4 1399.7 1946.9 1406.4C1954.4 1413 1961 1420.2 1966.8 1427.9C1972.6 1435.7 1977.6 1444 1981.7 1452.8C1985.9 1461.7 1989.5 1472.2 1991.7 1481C1993.9 1489.9 1994.7 1497.6 1995 1505.9C1995.3 1514.2 1994.7 1522.5 1993.4 1530.8C1992 1539.1 1988.9 1548.7 1986.7 1555.7C1984.5 1562.6 1980.4 1569.7 1980.1 1572.2C1979.7 1574.8 1983.8 1571.4 1984.5 1571.2L2061.6 1620C2071.8 1608.7 2104.4 1572.5 2122.9 1552.3C2141.5 1532.2 2156.1 1517.2 2172.7 1499.3C2189.3 1481.3 2208.7 1460 2222.5 1444.5C2236.3 1429 2244.6 1419.1 2255.7 1406.4C2266.7 1393.6 2279.4 1379.3 2288.8 1368.2C2298.2 1357.1 2304.6 1348 2312.1 1340C2319.5 1332 2327 1326 2333.3 1320C2339.7 1314 2344.4 1308.9 2350 1304C2355.6 1299.1 2361.1 1294.6 2366.7 1290.7C2372.2 1286.8 2378.3 1282.6 2383.3 1280.7C2388.3 1278.8 2394.4 1279.6 2396.7 1279.3L2396.7 1280C2400.6 1277.9 2411.7 1270.7 2420 1267.3C2428.3 1264 2437.8 1261.9 2446.7 1260C2455.6 1258.1 2464.4 1257 2473.3 1256C2482.2 1255 2490 1253.6 2500 1254C2510 1254.4 2523.3 1256.2 2533.3 1258.3C2543.3 1260.4 2551.1 1262.8 2560 1266.7C2568.9 1270.6 2577.8 1275.8 2586.7 1281.7C2595.6 1287.5 2604.4 1294.4 2613.3 1301.7C2622.2 1308.9 2631.1 1317.2 2640 1325C2648.9 1332.8 2657.8 1341.4 2666.7 1348.3C2675.6 1355.3 2684.4 1361.7 2693.3 1366.7C2702.2 1371.7 2711.1 1375.6 2720 1378.3C2728.9 1381.1 2737.8 1382.8 2746.7 1383.3C2755.6 1383.9 2765.6 1382.9 2773.3 1381.7C2781.1 1380.4 2787.2 1377.7 2793.3 1375.7C2799.4 1373.6 2807.2 1370.4 2810 1369.3C2806.1 1366.9 2793.1 1361 2786.7 1355C2780.3 1349 2775.1 1341.4 2771.7 1333.3C2768.2 1325.3 2766.3 1315.6 2766 1306.7C2765.7 1297.8 2767.1 1288.1 2770 1280C2772.9 1271.9 2777.8 1264.2 2783.3 1258.3C2788.9 1252.5 2796.6 1247.6 2803.3 1245C2810.1 1242.4 2820.6 1243.1 2824 1242.7C2827.8 1243.3 2839.6 1244.1 2846.7 1246.7C2853.8 1249.3 2860.6 1253.6 2866.7 1258.3C2872.8 1263.1 2878.3 1268.6 2883.3 1275C2888.3 1281.4 2893.2 1289.2 2896.7 1296.7C2900.1 1304.2 2902.9 1311.7 2904 1320C2905.1 1328.3 2904.8 1337.8 2903.3 1346.7C2901.8 1355.6 2898.6 1365 2895 1373.3C2891.4 1381.7 2886.9 1389.4 2881.7 1396.7C2876.4 1403.9 2870.3 1410.6 2863.3 1416.7C2856.4 1422.8 2848.3 1428.9 2840 1433.3C2831.7 1437.8 2822.8 1440.8 2813.3 1443.3C2803.9 1445.8 2793.3 1447.8 2783.3 1448.3C2773.3 1448.9 2762.8 1448.1 2753.3 1446.7C2743.9 1445.3 2735.6 1443.1 2726.7 1440C2717.8 1436.9 2708.3 1432.8 2700 1428.3C2691.7 1423.9 2683.9 1418.1 2676.7 1413.3C2669.4 1408.6 2662.8 1403.2 2656.7 1400C2650.6 1396.8 2644.7 1394.8 2640 1394C2635.3 1393.2 2630.3 1394.8 2628.3 1395C2628.3 1399.2 2629.2 1411.4 2628.3 1420C2627.5 1428.6 2626.1 1437.8 2623.3 1446.7C2620.6 1455.6 2616.7 1464.4 2611.7 1473.3C2606.7 1482.2 2600.3 1491.9 2593.3 1500C2586.4 1508.1 2578.9 1515.3 2570 1521.7C2561.1 1528.1 2550.6 1534.2 2540 1538.3C2529.4 1542.5 2517.8 1545.6 2506.7 1546.7C2495.6 1547.8 2483.9 1546.9 2473.3 1545C2462.8 1543.1 2452.2 1539.4 2443.3 1535C2434.4 1530.6 2426.2 1524.7 2420 1518.3C2413.8 1511.9 2409.4 1504.7 2406 1496.7C2402.6 1488.6 2400.4 1478.9 2399.3 1470C2398.2 1461.1 2398.4 1452.2 2399.3 1443.3C2400.3 1434.4 2402.1 1424.4 2405 1416.7C2407.9 1408.9 2411.9 1401.9 2416.7 1396.7C2421.4 1391.4 2428.3 1385.6 2433.3 1385C2438.3 1384.4 2444.4 1391.9 2446.7 1393.3C2450 1391.7 2459.4 1385.6 2466.7 1383.3C2473.9 1381.1 2482.2 1379.4 2490 1380C2497.8 1380.6 2506.4 1383.1 2513.3 1386.7C2520.3 1390.3 2526.9 1395.6 2531.7 1401.7C2536.4 1407.8 2539.8 1415.8 2541.7 1423.3C2543.5 1430.8 2543.8 1438.9 2542.7 1446.7C2541.6 1454.4 2538.8 1462.8 2535 1470C2531.2 1477.2 2525.8 1484.2 2520 1490C2514.2 1495.8 2504.7 1501.9 2500 1505C2495.3 1508.1 2493.1 1507.8 2491.7 1508.3C2494.2 1507.9 2500.3 1507.3 2506.7 1506C2513.1 1504.7 2522.7 1504 2530 1500.7C2537.3 1497.3 2544.8 1491.9 2550.7 1486C2556.5 1480.1 2561.4 1473.2 2565 1465C2568.6 1456.8 2571 1446.1 2572 1436.7C2573 1427.2 2572.4 1417.9 2571 1408.3C2569.6 1398.8 2567.1 1388.2 2563.3 1379.3C2559.6 1370.4 2554.4 1362.1 2548.3 1355C2542.2 1347.9 2534.7 1342.1 2526.7 1336.7C2518.6 1331.2 2510 1325.7 2500 1322.3C2490 1319 2472.2 1317.6 2466.7 1316.7C2463.3 1324.2 2449.9 1355.2 2446.7 1361.7C2443.4 1368.2 2448.6 1357.7 2447 1355.7C2445.4 1353.7 2441.8 1351 2437.3 1349.7C2432.8 1348.3 2428.2 1346 2420 1347.7C2411.8 1349.4 2399.2 1355.7 2388.4 1359.9C2377.6 1364.2 2366.3 1367.1 2355.2 1373.2C2344.1 1379.3 2333.1 1386.4 2322 1396.4C2311 1406.4 2299.9 1418.8 2288.8 1432.9C2277.8 1447 2266.7 1464.7 2255.7 1481C2244.6 1497.3 2233.5 1515.6 2222.5 1530.8C2211.4 1546 2202.6 1557.4 2189.3 1572.2C2176 1587.1 2164.4 1602.2 2142.9 1620C2121.3 1637.9 2078.5 1665.9 2060 1679.4C2041.5 1692.9 2042 1693.5 2031.8 1701C2021.6 1708.5 2009.7 1717 1998.6 1724.2C1987.5 1731.4 1976.5 1738.1 1965.4 1744.1C1954.4 1750.2 1943.3 1755.8 1932.2 1760.7C1921.2 1765.7 1910.1 1770.1 1899.1 1774C1888 1777.9 1875.6 1781.5 1865.9 1784C1856.2 1786.4 1849.3 1787.7 1841 1788.9C1832.7 1790.2 1824.4 1791.1 1816.1 1791.4C1807.8 1791.7 1799.5 1791.3 1791.2 1790.6C1782.9 1789.9 1774.7 1789.2 1766.4 1787.3C1758.1 1785.3 1749.8 1782.8 1741.5 1779C1733.2 1775.1 1723.5 1769 1716.6 1764C1709.7 1759.1 1704 1754 1700 1749.1C1696 1744.3 1695.1 1738.8 1692.5 1735C1689.9 1731.2 1685.6 1727.7 1684.2 1726.2Z" fill="#cfad88" stroke="none"/>
<clipPath id="facesL"><path d="M450.7 1731.7C453.9 1731.6 463.4 1729.6 470 1731C476.6 1732.4 484.2 1735.7 490 1740C495.8 1744.3 501.1 1750 505 1756.7C508.9 1763.3 511.8 1772.2 513.3 1780C514.9 1787.8 515.2 1795.6 514.3 1803.3C513.5 1811.1 511.6 1819.3 508.3 1826.7C505.1 1834 500.3 1842.1 495 1847.3C489.7 1852.6 479.7 1856.5 476.7 1858.3L473.3 1872.3C478.9 1871.2 496.1 1869.3 506.7 1865.7C517.2 1862.1 524 1859.8 536.7 1850.7C549.4 1841.5 571.1 1822 582.9 1810.6C594.8 1799.2 600.6 1791.5 607.8 1782.4C615 1773.3 620.3 1764.7 626.1 1755.8C631.9 1747 639.9 1733.7 642.7 1729.3C645.4 1724.9 653.5 1711.3 659.3 1702.8C665.1 1694.2 671.4 1685.3 677.5 1677.9C683.6 1670.4 691.1 1662.7 695.8 1658C700.5 1653.3 702.4 1652.4 705.7 1649.7C709 1646.9 711.8 1644.7 715.7 1641.4C719.5 1638.1 724.8 1632.8 728.9 1629.8C733.1 1626.7 738.6 1624.2 740.5 1623.1C743.3 1621.5 750.2 1616.8 757.1 1613.2C764 1609.6 773.7 1604.6 782 1601.6C790.3 1598.5 798.6 1596.7 806.9 1594.9C815.2 1593.1 822.9 1591.8 831.8 1590.8C840.6 1589.8 849 1588.2 860 1589.1C870.9 1590 885 1594.4 897.5 1596.2C910 1598.1 924.6 1597.7 935 1600C945.4 1602.3 951.7 1605.8 960 1610C968.3 1614.2 976.7 1619.2 985 1625C993.3 1630.8 1001.7 1637.9 1010 1645C1018.3 1652.1 1026.7 1660 1035 1667.5C1043.3 1675 1051.7 1682.5 1060 1690C1068.3 1697.5 1076.7 1705.4 1085 1712.5C1093.3 1719.6 1101.7 1726.2 1110 1732.5C1118.3 1738.8 1126.7 1744.6 1135 1750C1143.3 1755.4 1151.7 1760.4 1160 1765C1168.3 1769.6 1176.7 1773.5 1185 1777.5C1193.3 1781.5 1201.7 1785.2 1210 1788.8C1218.3 1792.3 1226.7 1795.8 1235 1798.8C1243.3 1801.7 1251.7 1804.2 1260 1806.2C1268.3 1808.3 1276.7 1809.8 1285 1811.2C1293.3 1812.7 1301.7 1814.2 1310 1815C1318.3 1815.8 1326.7 1816.2 1335 1816.2C1343.3 1816.2 1351.7 1815.6 1360 1815C1368.3 1814.4 1377.3 1813.5 1385 1812.5C1392.7 1811.5 1402.5 1809.4 1406 1808.8L1335 1735C1330.8 1729.2 1316.2 1712.1 1310 1700C1303.8 1687.9 1300 1675 1297.5 1662.5C1295 1650 1294.4 1637.5 1295 1625C1295.6 1612.5 1297.9 1600 1301.2 1587.5C1304.6 1575 1309 1562.5 1315 1550C1321 1537.5 1329.2 1523.8 1337.5 1512.5C1345.8 1501.2 1354.6 1491.2 1365 1482.5C1375.4 1473.8 1388.3 1465.8 1400 1460C1411.7 1454.2 1423.3 1450.2 1435 1447.5C1446.7 1444.8 1458.3 1443.8 1470 1443.8C1481.7 1443.8 1493.3 1444.8 1505 1447.5C1516.7 1450.2 1532.5 1457.5 1540 1460C1547.5 1462.5 1544.2 1460.2 1550 1462.5C1555.8 1464.8 1566.9 1470.2 1575 1473.8C1583.1 1477.3 1591.2 1478.5 1598.8 1483.8C1606.2 1489 1613.8 1496.5 1620 1505C1626.2 1513.5 1632.1 1525.4 1636.2 1535C1640.4 1544.6 1643 1552.9 1645 1562.5C1647 1572.1 1647.6 1584.6 1648 1592.5C1648.4 1600.4 1648.4 1598.8 1647.5 1610C1646.6 1621.2 1645.4 1643.3 1642.5 1660C1639.6 1676.7 1635.4 1694.2 1630 1710C1624.6 1725.8 1616.9 1742.5 1610 1755C1603.1 1767.5 1592.3 1780 1588.8 1785C1587.1 1784.9 1584.6 1781.1 1578.8 1784.3C1573 1787.5 1562.2 1797.9 1554 1804.2C1545.7 1810.6 1538.7 1816 1529.1 1822.5C1519.4 1829 1507 1837.1 1495.9 1843.2C1484.8 1849.3 1473.8 1854.4 1462.7 1859C1451.7 1863.5 1440.6 1867.3 1429.5 1870.6C1418.5 1873.9 1407.4 1876.7 1396.4 1878.9C1385.3 1881.1 1374.2 1882.9 1363.2 1883.9C1352.1 1884.8 1343 1885.4 1330 1884.7C1317 1884 1296.7 1880.9 1285 1879.5C1273.3 1878.1 1268.3 1877.6 1260 1876.2C1251.7 1874.9 1243.3 1873.3 1235 1871.2C1226.7 1869.2 1218.3 1866.5 1210 1863.8C1201.7 1861 1193.3 1858.3 1185 1855C1176.7 1851.7 1168.3 1847.9 1160 1843.8C1151.7 1839.6 1143.3 1834.8 1135 1830C1126.7 1825.2 1118.3 1820.4 1110 1815C1101.7 1809.6 1093.3 1803.3 1085 1797.5C1076.7 1791.7 1068.3 1785.6 1060 1780C1051.7 1774.4 1043.3 1769.2 1035 1763.8C1026.7 1758.3 1018.3 1753.1 1010 1747.5C1001.7 1741.9 993.3 1735.8 985 1730C976.7 1724.2 968.3 1718.3 960 1712.5C951.7 1706.7 943.3 1699.8 935 1695C926.7 1690.2 918.3 1686.9 910 1683.8C901.7 1680.6 893.3 1677.7 885 1676.2C876.7 1674.8 859.7 1675.5 860 1675C860.3 1674.5 887.8 1673.9 886.7 1673.3C885.6 1672.8 863.3 1671.1 853.3 1671.7C843.3 1672.2 834.4 1674.2 826.7 1676.7C818.9 1679.2 811.7 1683.3 806.7 1686.7C801.7 1690.1 798.3 1695.3 796.7 1697C798.3 1701.2 801.6 1718.2 806.7 1722.3C811.8 1726.4 823.9 1721.8 827.3 1721.7C829.4 1721.7 835.4 1720.4 840 1721.7C844.6 1722.9 849.7 1724.8 855 1729.3C860.3 1733.9 867.2 1741.7 871.7 1749C876.1 1756.3 879.6 1764.8 881.7 1773.3C883.7 1781.8 884.6 1790.6 884 1800C883.4 1809.4 881.8 1820.7 878.3 1830C874.9 1839.3 869.2 1848.1 863.3 1856C857.5 1863.9 851.1 1871.3 843.3 1877.7C835.6 1884.1 826.1 1889.9 816.7 1894.3C807.2 1898.8 796.7 1902.1 786.7 1904.3C776.7 1906.6 766.7 1907.9 756.7 1907.7C746.7 1907.4 736.1 1905.7 726.7 1902.7C717.2 1899.6 707.5 1894.2 700 1889.3C692.5 1884.4 686.9 1879.1 681.7 1873.3C676.4 1867.6 671.9 1861.1 668.3 1855C664.7 1848.9 662.2 1843.1 660 1836.7C657.8 1830.3 656.1 1822.5 655 1816.7C653.9 1810.8 653.6 1804.2 653.3 1801.7C650 1805.1 641.7 1814 633.3 1822.3C625 1830.7 613.9 1841.9 603.3 1851.7C592.8 1861.4 581.7 1872.1 570 1880.7C558.3 1889.3 545.6 1897.3 533.3 1903.3C521.1 1909.3 508.9 1913.8 496.7 1916.7C484.4 1919.6 471.7 1921.2 460 1920.7C448.3 1920.1 436.7 1917.2 426.7 1913.3C416.7 1909.4 407.5 1903.4 400 1897.3C392.5 1891.2 386.5 1884 381.7 1876.7C376.8 1869.3 373.3 1861.1 371 1853.3C368.7 1845.6 367.8 1837.8 367.7 1830C367.5 1822.2 368.2 1814.7 370 1806.7C371.8 1798.6 374.7 1789.4 378.3 1781.7C381.9 1773.9 386.4 1766.3 391.7 1760C396.9 1753.7 403.6 1748.2 410 1744C416.4 1739.8 423.2 1737.1 430 1735C436.8 1732.9 447.2 1732.2 450.7 1731.7Z"/><path d="M1684.2 1726.2C1682.7 1724.4 1678.4 1720.6 1675 1715C1671.6 1709.4 1666.9 1700.4 1663.8 1692.5C1660.6 1684.6 1658.3 1677.1 1656.2 1667.5C1654.2 1657.9 1652.4 1646.7 1651.2 1635C1650.1 1623.3 1648.3 1613.5 1649.5 1597.5C1650.7 1581.5 1656.2 1554.3 1658.2 1539.1C1660.3 1523.8 1659.4 1517 1661.6 1505.9C1663.8 1494.8 1667.1 1483.2 1671.5 1472.7C1675.9 1462.2 1681.7 1452 1688.1 1442.9C1694.5 1433.7 1701.7 1425.4 1709.7 1418C1717.7 1410.5 1726.8 1403.9 1736.2 1398.1C1745.6 1392.3 1755.6 1387.3 1766.1 1383.1C1776.6 1379 1788.2 1375.5 1799.3 1373.2C1810.3 1370.8 1821.4 1369.6 1832.4 1369C1843.5 1368.5 1855.1 1368.6 1865.6 1369.9C1876.1 1371.1 1886.1 1373.5 1895.5 1376.5C1904.9 1379.5 1913.4 1383.1 1922 1388.1C1930.6 1393.1 1939.4 1399.7 1946.9 1406.4C1954.4 1413 1961 1420.2 1966.8 1427.9C1972.6 1435.7 1977.6 1444 1981.7 1452.8C1985.9 1461.7 1989.5 1472.2 1991.7 1481C1993.9 1489.9 1994.7 1497.6 1995 1505.9C1995.3 1514.2 1994.7 1522.5 1993.4 1530.8C1992 1539.1 1988.9 1548.7 1986.7 1555.7C1984.5 1562.6 1980.4 1569.7 1980.1 1572.2C1979.7 1574.8 1983.8 1571.4 1984.5 1571.2L2061.6 1620C2071.8 1608.7 2104.4 1572.5 2122.9 1552.3C2141.5 1532.2 2156.1 1517.2 2172.7 1499.3C2189.3 1481.3 2208.7 1460 2222.5 1444.5C2236.3 1429 2244.6 1419.1 2255.7 1406.4C2266.7 1393.6 2279.4 1379.3 2288.8 1368.2C2298.2 1357.1 2304.6 1348 2312.1 1340C2319.5 1332 2327 1326 2333.3 1320C2339.7 1314 2344.4 1308.9 2350 1304C2355.6 1299.1 2361.1 1294.6 2366.7 1290.7C2372.2 1286.8 2378.3 1282.6 2383.3 1280.7C2388.3 1278.8 2394.4 1279.6 2396.7 1279.3L2396.7 1280C2400.6 1277.9 2411.7 1270.7 2420 1267.3C2428.3 1264 2437.8 1261.9 2446.7 1260C2455.6 1258.1 2464.4 1257 2473.3 1256C2482.2 1255 2490 1253.6 2500 1254C2510 1254.4 2523.3 1256.2 2533.3 1258.3C2543.3 1260.4 2551.1 1262.8 2560 1266.7C2568.9 1270.6 2577.8 1275.8 2586.7 1281.7C2595.6 1287.5 2604.4 1294.4 2613.3 1301.7C2622.2 1308.9 2631.1 1317.2 2640 1325C2648.9 1332.8 2657.8 1341.4 2666.7 1348.3C2675.6 1355.3 2684.4 1361.7 2693.3 1366.7C2702.2 1371.7 2711.1 1375.6 2720 1378.3C2728.9 1381.1 2737.8 1382.8 2746.7 1383.3C2755.6 1383.9 2765.6 1382.9 2773.3 1381.7C2781.1 1380.4 2787.2 1377.7 2793.3 1375.7C2799.4 1373.6 2807.2 1370.4 2810 1369.3C2806.1 1366.9 2793.1 1361 2786.7 1355C2780.3 1349 2775.1 1341.4 2771.7 1333.3C2768.2 1325.3 2766.3 1315.6 2766 1306.7C2765.7 1297.8 2767.1 1288.1 2770 1280C2772.9 1271.9 2777.8 1264.2 2783.3 1258.3C2788.9 1252.5 2796.6 1247.6 2803.3 1245C2810.1 1242.4 2820.6 1243.1 2824 1242.7C2827.8 1243.3 2839.6 1244.1 2846.7 1246.7C2853.8 1249.3 2860.6 1253.6 2866.7 1258.3C2872.8 1263.1 2878.3 1268.6 2883.3 1275C2888.3 1281.4 2893.2 1289.2 2896.7 1296.7C2900.1 1304.2 2902.9 1311.7 2904 1320C2905.1 1328.3 2904.8 1337.8 2903.3 1346.7C2901.8 1355.6 2898.6 1365 2895 1373.3C2891.4 1381.7 2886.9 1389.4 2881.7 1396.7C2876.4 1403.9 2870.3 1410.6 2863.3 1416.7C2856.4 1422.8 2848.3 1428.9 2840 1433.3C2831.7 1437.8 2822.8 1440.8 2813.3 1443.3C2803.9 1445.8 2793.3 1447.8 2783.3 1448.3C2773.3 1448.9 2762.8 1448.1 2753.3 1446.7C2743.9 1445.3 2735.6 1443.1 2726.7 1440C2717.8 1436.9 2708.3 1432.8 2700 1428.3C2691.7 1423.9 2683.9 1418.1 2676.7 1413.3C2669.4 1408.6 2662.8 1403.2 2656.7 1400C2650.6 1396.8 2644.7 1394.8 2640 1394C2635.3 1393.2 2630.3 1394.8 2628.3 1395C2628.3 1399.2 2629.2 1411.4 2628.3 1420C2627.5 1428.6 2626.1 1437.8 2623.3 1446.7C2620.6 1455.6 2616.7 1464.4 2611.7 1473.3C2606.7 1482.2 2600.3 1491.9 2593.3 1500C2586.4 1508.1 2578.9 1515.3 2570 1521.7C2561.1 1528.1 2550.6 1534.2 2540 1538.3C2529.4 1542.5 2517.8 1545.6 2506.7 1546.7C2495.6 1547.8 2483.9 1546.9 2473.3 1545C2462.8 1543.1 2452.2 1539.4 2443.3 1535C2434.4 1530.6 2426.2 1524.7 2420 1518.3C2413.8 1511.9 2409.4 1504.7 2406 1496.7C2402.6 1488.6 2400.4 1478.9 2399.3 1470C2398.2 1461.1 2398.4 1452.2 2399.3 1443.3C2400.3 1434.4 2402.1 1424.4 2405 1416.7C2407.9 1408.9 2411.9 1401.9 2416.7 1396.7C2421.4 1391.4 2428.3 1385.6 2433.3 1385C2438.3 1384.4 2444.4 1391.9 2446.7 1393.3C2450 1391.7 2459.4 1385.6 2466.7 1383.3C2473.9 1381.1 2482.2 1379.4 2490 1380C2497.8 1380.6 2506.4 1383.1 2513.3 1386.7C2520.3 1390.3 2526.9 1395.6 2531.7 1401.7C2536.4 1407.8 2539.8 1415.8 2541.7 1423.3C2543.5 1430.8 2543.8 1438.9 2542.7 1446.7C2541.6 1454.4 2538.8 1462.8 2535 1470C2531.2 1477.2 2525.8 1484.2 2520 1490C2514.2 1495.8 2504.7 1501.9 2500 1505C2495.3 1508.1 2493.1 1507.8 2491.7 1508.3C2494.2 1507.9 2500.3 1507.3 2506.7 1506C2513.1 1504.7 2522.7 1504 2530 1500.7C2537.3 1497.3 2544.8 1491.9 2550.7 1486C2556.5 1480.1 2561.4 1473.2 2565 1465C2568.6 1456.8 2571 1446.1 2572 1436.7C2573 1427.2 2572.4 1417.9 2571 1408.3C2569.6 1398.8 2567.1 1388.2 2563.3 1379.3C2559.6 1370.4 2554.4 1362.1 2548.3 1355C2542.2 1347.9 2534.7 1342.1 2526.7 1336.7C2518.6 1331.2 2510 1325.7 2500 1322.3C2490 1319 2472.2 1317.6 2466.7 1316.7C2463.3 1324.2 2449.9 1355.2 2446.7 1361.7C2443.4 1368.2 2448.6 1357.7 2447 1355.7C2445.4 1353.7 2441.8 1351 2437.3 1349.7C2432.8 1348.3 2428.2 1346 2420 1347.7C2411.8 1349.4 2399.2 1355.7 2388.4 1359.9C2377.6 1364.2 2366.3 1367.1 2355.2 1373.2C2344.1 1379.3 2333.1 1386.4 2322 1396.4C2311 1406.4 2299.9 1418.8 2288.8 1432.9C2277.8 1447 2266.7 1464.7 2255.7 1481C2244.6 1497.3 2233.5 1515.6 2222.5 1530.8C2211.4 1546 2202.6 1557.4 2189.3 1572.2C2176 1587.1 2164.4 1602.2 2142.9 1620C2121.3 1637.9 2078.5 1665.9 2060 1679.4C2041.5 1692.9 2042 1693.5 2031.8 1701C2021.6 1708.5 2009.7 1717 1998.6 1724.2C1987.5 1731.4 1976.5 1738.1 1965.4 1744.1C1954.4 1750.2 1943.3 1755.8 1932.2 1760.7C1921.2 1765.7 1910.1 1770.1 1899.1 1774C1888 1777.9 1875.6 1781.5 1865.9 1784C1856.2 1786.4 1849.3 1787.7 1841 1788.9C1832.7 1790.2 1824.4 1791.1 1816.1 1791.4C1807.8 1791.7 1799.5 1791.3 1791.2 1790.6C1782.9 1789.9 1774.7 1789.2 1766.4 1787.3C1758.1 1785.3 1749.8 1782.8 1741.5 1779C1733.2 1775.1 1723.5 1769 1716.6 1764C1709.7 1759.1 1704 1754 1700 1749.1C1696 1744.3 1695.1 1738.8 1692.5 1735C1689.9 1731.2 1685.6 1727.7 1684.2 1726.2Z"/><path d="M1598.8 1482.5C1596 1477.9 1587.3 1463.8 1582.5 1455C1577.7 1446.2 1572.8 1438.3 1570 1430C1567.2 1421.7 1565.7 1412.9 1565.5 1405C1565.3 1397.1 1566.3 1389.6 1568.8 1382.5C1571.2 1375.4 1575.2 1368.1 1580 1362.5C1584.8 1356.9 1591.2 1352.2 1597.5 1348.8C1603.8 1345.3 1610.8 1343 1617.5 1342C1624.2 1341 1631.2 1341.2 1637.5 1342.5C1643.8 1343.8 1649.6 1346.5 1655 1350C1660.4 1353.5 1665.8 1358.3 1670 1363.8C1674.2 1369.2 1677.7 1375.6 1680 1382.5C1682.3 1389.4 1683.5 1397.9 1683.8 1405C1684 1412.1 1682.7 1418.8 1681.2 1425C1679.8 1431.2 1677.5 1435.8 1675 1442.5C1672.5 1449.2 1668.8 1458.8 1666.2 1465C1663.8 1471.2 1661 1477.5 1660 1480L1657.5 1455C1658.5 1452.5 1662 1445.8 1663.8 1440C1665.5 1434.2 1667.6 1426.7 1668 1420C1668.4 1413.3 1668 1406.2 1666.2 1400C1664.5 1393.8 1661.5 1387.3 1657.5 1382.5C1653.5 1377.7 1647.9 1373.8 1642.5 1371.2C1637.1 1368.8 1630.8 1367.5 1625 1367.5C1619.2 1367.5 1612.9 1368.8 1607.5 1371.2C1602.1 1373.8 1596.5 1377.7 1592.5 1382.5C1588.5 1387.3 1585.5 1393.8 1583.8 1400C1582 1406.2 1581.4 1413.3 1582 1420C1582.6 1426.7 1584.5 1432.9 1587.5 1440C1590.5 1447.1 1597.9 1458.8 1600 1462.5L1598.8 1482.5Z"/><path d="M1678.8 1730.5C1679 1732.1 1680.1 1736.3 1680.5 1740C1680.9 1743.7 1681.5 1747.9 1681.2 1752.5C1681 1757.1 1680.2 1762.1 1678.8 1767.5C1677.3 1772.9 1675.6 1779.6 1672.5 1785C1669.4 1790.4 1664.6 1795.8 1660 1800C1655.4 1804.2 1650 1807.8 1645 1810C1640 1812.2 1635 1813 1630 1813C1625 1813 1619.6 1812.2 1615 1810C1610.4 1807.8 1606.2 1803.5 1602.5 1800C1598.8 1796.5 1594.8 1791.2 1592.5 1788.8C1590.2 1786.2 1589.4 1785.6 1588.8 1785C1592.3 1780 1603.1 1766.7 1610 1755C1616.9 1743.3 1624.6 1728.8 1630 1715C1635.4 1701.2 1639.5 1685.8 1642.5 1672.5C1645.5 1659.2 1646.8 1647.5 1648 1635C1649.2 1622.5 1649.2 1603.8 1649.5 1597.5C1649.8 1603.8 1650.1 1623.3 1651.2 1635C1652.4 1646.7 1654.2 1657.9 1656.2 1667.5C1658.3 1677.1 1660.6 1684.6 1663.8 1692.5C1666.9 1700.4 1671.6 1709.4 1675 1715C1678.4 1720.6 1682.7 1724.4 1684.2 1726.2L1678.8 1730.5Z"/></clipPath>
<g clip-path="url(#facesL)" fill="none" stroke-linecap="round">
<line x1="1175.8" y1="1663.9" x2="1300.4" y2="1638.1" stroke="#dcbc96" stroke-opacity="0.55" stroke-width="2.2"/>
<line x1="2444.2" y1="1430.1" x2="2560" y2="1406.1" stroke="#d8b58c" stroke-opacity="0.6" stroke-width="3"/>
<line x1="445.6" y1="1673.4" x2="494.7" y2="1663.3" stroke="#dcbc96" stroke-opacity="0.55" stroke-width="2.2"/>
<line x1="1755.2" y1="1590" x2="1868.7" y2="1566.5" stroke="#d8b58c" stroke-opacity="0.6" stroke-width="3"/>
<line x1="1958.1" y1="1286.1" x2="2006.1" y2="1276.2" stroke="#c29f7a" stroke-opacity="0.5" stroke-width="2"/>
<line x1="476.5" y1="1773.3" x2="588.8" y2="1750.1" stroke="#d8b58c" stroke-opacity="0.6" stroke-width="3"/>
<line x1="1088.5" y1="1685.2" x2="1143.8" y2="1673.8" stroke="#d29a5c" stroke-opacity="0.45" stroke-width="2.2"/>
<line x1="1778.7" y1="1273.7" x2="1832.1" y2="1262.7" stroke="#d8b58c" stroke-opacity="0.6" stroke-width="3"/>
<line x1="1299.6" y1="1439.8" x2="1347.8" y2="1429.9" stroke="#dcbc96" stroke-opacity="0.55" stroke-width="2.2"/>
<line x1="1928.5" y1="1335.5" x2="2037.6" y2="1313" stroke="#d29a5c" stroke-opacity="0.45" stroke-width="2.2"/>
<line x1="1537.3" y1="1202.9" x2="1624.3" y2="1184.9" stroke="#d8b58c" stroke-opacity="0.6" stroke-width="3"/>
<line x1="2375.7" y1="1141.8" x2="2447.4" y2="1127" stroke="#d29a5c" stroke-opacity="0.45" stroke-width="2.2"/>
<line x1="1689.3" y1="1195.6" x2="1824.1" y2="1167.7" stroke="#d29a5c" stroke-opacity="0.45" stroke-width="2.2"/>
<line x1="1902.8" y1="1552.4" x2="2009.4" y2="1530.4" stroke="#d8b58c" stroke-opacity="0.6" stroke-width="3"/>
<line x1="2280.7" y1="1434.9" x2="2384.3" y2="1413.5" stroke="#dcbc96" stroke-opacity="0.55" stroke-width="2.2"/>
<line x1="2803.1" y1="1364.1" x2="2915.7" y2="1340.9" stroke="#d29a5c" stroke-opacity="0.45" stroke-width="2.2"/>
<line x1="1217.3" y1="1555.6" x2="1321.9" y2="1534" stroke="#c29f7a" stroke-opacity="0.5" stroke-width="2"/>
<line x1="525.3" y1="1827" x2="600.4" y2="1811.4" stroke="#dcbc96" stroke-opacity="0.55" stroke-width="2.2"/>
<line x1="504.7" y1="1527.3" x2="628.8" y2="1501.6" stroke="#c29f7a" stroke-opacity="0.5" stroke-width="2"/>
<line x1="1075.7" y1="1567.1" x2="1202.6" y2="1540.9" stroke="#dcbc96" stroke-opacity="0.55" stroke-width="2.2"/>
<line x1="2748.7" y1="1236.5" x2="2868.1" y2="1211.8" stroke="#c29f7a" stroke-opacity="0.5" stroke-width="2"/>
<line x1="500.3" y1="1494.8" x2="557.1" y2="1483.1" stroke="#d8b58c" stroke-opacity="0.6" stroke-width="3"/>
<line x1="1364.6" y1="1241.9" x2="1469.2" y2="1220.3" stroke="#d8b58c" stroke-opacity="0.6" stroke-width="3"/>
<line x1="1495.4" y1="1398.5" x2="1650.3" y2="1366.5" stroke="#c29f7a" stroke-opacity="0.5" stroke-width="2"/>
<line x1="2553.2" y1="1315.4" x2="2647.1" y2="1296" stroke="#d29a5c" stroke-opacity="0.45" stroke-width="2.2"/>
<line x1="2090.9" y1="1359.9" x2="2160.9" y2="1345.5" stroke="#dcbc96" stroke-opacity="0.55" stroke-width="2.2"/>
<line x1="799.4" y1="1701.1" x2="869.7" y2="1686.6" stroke="#c29f7a" stroke-opacity="0.5" stroke-width="2"/>
<line x1="2469.3" y1="1380.8" x2="2545.9" y2="1364.9" stroke="#d8b58c" stroke-opacity="0.6" stroke-width="3"/>
<line x1="1418.3" y1="1504.6" x2="1531.9" y2="1481.1" stroke="#d8b58c" stroke-opacity="0.6" stroke-width="3"/>
<line x1="2110.8" y1="1288.3" x2="2231" y2="1263.4" stroke="#dcbc96" stroke-opacity="0.55" stroke-width="2.2"/>
<line x1="1514.4" y1="1233.8" x2="1678.2" y2="1200" stroke="#c29f7a" stroke-opacity="0.5" stroke-width="2"/>
<line x1="1365.1" y1="1503.1" x2="1467.7" y2="1481.9" stroke="#c29f7a" stroke-opacity="0.5" stroke-width="2"/>
<line x1="508.7" y1="1843.5" x2="575.9" y2="1829.6" stroke="#d8b58c" stroke-opacity="0.6" stroke-width="3"/>
<line x1="630.3" y1="1551.7" x2="683.6" y2="1540.7" stroke="#d8b58c" stroke-opacity="0.6" stroke-width="3"/>
<line x1="1718.4" y1="1152.7" x2="1838.2" y2="1127.9" stroke="#dcbc96" stroke-opacity="0.55" stroke-width="2.2"/>
<line x1="2579.5" y1="1142.1" x2="2638.9" y2="1129.9" stroke="#d29a5c" stroke-opacity="0.45" stroke-width="2.2"/>
<line x1="2786.4" y1="1105.2" x2="2888.1" y2="1084.2" stroke="#dcbc96" stroke-opacity="0.55" stroke-width="2.2"/>
<line x1="2514.8" y1="966" x2="2615.4" y2="945.2" stroke="#c29f7a" stroke-opacity="0.5" stroke-width="2"/>
<line x1="1145.2" y1="1673.6" x2="1282.7" y2="1645.2" stroke="#d29a5c" stroke-opacity="0.45" stroke-width="2.2"/>
<line x1="1570.5" y1="1311.7" x2="1677.6" y2="1289.6" stroke="#d8b58c" stroke-opacity="0.6" stroke-width="3"/>
<line x1="2775" y1="1144.6" x2="2834.1" y2="1132.4" stroke="#dcbc96" stroke-opacity="0.55" stroke-width="2.2"/>
<line x1="2283.3" y1="1361.3" x2="2406.8" y2="1335.8" stroke="#dcbc96" stroke-opacity="0.55" stroke-width="2.2"/>
<line x1="2125.3" y1="1412.5" x2="2213" y2="1394.4" stroke="#d8b58c" stroke-opacity="0.6" stroke-width="3"/>
<line x1="1257" y1="1611.1" x2="1367.4" y2="1588.3" stroke="#d29a5c" stroke-opacity="0.45" stroke-width="2.2"/>
<line x1="1972.9" y1="1267.9" x2="2115.4" y2="1238.5" stroke="#d8b58c" stroke-opacity="0.6" stroke-width="3"/>
<line x1="2405.5" y1="1076" x2="2541.7" y2="1047.8" stroke="#d8b58c" stroke-opacity="0.6" stroke-width="3"/>
<line x1="859.8" y1="1558.2" x2="994.8" y2="1530.3" stroke="#dcbc96" stroke-opacity="0.55" stroke-width="2.2"/>
<line x1="2364.8" y1="1257.4" x2="2430" y2="1244" stroke="#d29a5c" stroke-opacity="0.45" stroke-width="2.2"/>
<line x1="1490.4" y1="1205.8" x2="1658.9" y2="1170.9" stroke="#d29a5c" stroke-opacity="0.45" stroke-width="2.2"/>
<line x1="555.4" y1="1816.5" x2="656.5" y2="1795.6" stroke="#d29a5c" stroke-opacity="0.45" stroke-width="2.2"/>
<line x1="871.2" y1="1490.2" x2="1028.2" y2="1457.8" stroke="#dcbc96" stroke-opacity="0.55" stroke-width="2.2"/>
<line x1="1572.7" y1="1330.8" x2="1716.6" y2="1301" stroke="#dcbc96" stroke-opacity="0.55" stroke-width="2.2"/>
<line x1="2478.4" y1="1410.1" x2="2568.9" y2="1391.4" stroke="#d8b58c" stroke-opacity="0.6" stroke-width="3"/>
<line x1="1569" y1="1568.8" x2="1711.6" y2="1539.3" stroke="#d29a5c" stroke-opacity="0.45" stroke-width="2.2"/>
<line x1="571.2" y1="1391.2" x2="705" y2="1363.5" stroke="#c29f7a" stroke-opacity="0.5" stroke-width="2"/>
<line x1="1373.5" y1="1225" x2="1507.8" y2="1197.3" stroke="#d8b58c" stroke-opacity="0.6" stroke-width="3"/>
<line x1="2882.4" y1="1372.8" x2="2999.2" y2="1348.6" stroke="#c29f7a" stroke-opacity="0.5" stroke-width="2"/>
<line x1="2406.6" y1="1411.8" x2="2554" y2="1381.3" stroke="#c29f7a" stroke-opacity="0.5" stroke-width="2"/>
<line x1="2026" y1="1388.4" x2="2137.4" y2="1365.3" stroke="#d8b58c" stroke-opacity="0.6" stroke-width="3"/>
<line x1="404.6" y1="1499" x2="539" y2="1471.3" stroke="#dcbc96" stroke-opacity="0.55" stroke-width="2.2"/>
<line x1="1692.8" y1="1165.6" x2="1789.2" y2="1145.7" stroke="#d8b58c" stroke-opacity="0.6" stroke-width="3"/>
<line x1="2456.7" y1="1369" x2="2529.4" y2="1354" stroke="#d29a5c" stroke-opacity="0.45" stroke-width="2.2"/>
<line x1="1628" y1="1264" x2="1710.3" y2="1247" stroke="#c29f7a" stroke-opacity="0.5" stroke-width="2"/>
<line x1="2477.2" y1="1439.9" x2="2613.4" y2="1411.7" stroke="#c29f7a" stroke-opacity="0.5" stroke-width="2"/>
<line x1="2039.3" y1="1153.3" x2="2146.5" y2="1131.1" stroke="#d8b58c" stroke-opacity="0.6" stroke-width="3"/>
<line x1="1706.2" y1="1367.9" x2="1748.6" y2="1359.2" stroke="#c29f7a" stroke-opacity="0.5" stroke-width="2"/>
<line x1="2330.1" y1="1196.4" x2="2471" y2="1167.3" stroke="#d8b58c" stroke-opacity="0.6" stroke-width="3"/>
<line x1="789.5" y1="1582.4" x2="923.8" y2="1554.7" stroke="#dcbc96" stroke-opacity="0.55" stroke-width="2.2"/>
<line x1="1181.3" y1="1479" x2="1293.5" y2="1455.8" stroke="#dcbc96" stroke-opacity="0.55" stroke-width="2.2"/>
<line x1="2602.2" y1="1416.1" x2="2667.1" y2="1402.6" stroke="#dcbc96" stroke-opacity="0.55" stroke-width="2.2"/>
<line x1="2319.3" y1="1249.1" x2="2432.3" y2="1225.7" stroke="#dcbc96" stroke-opacity="0.55" stroke-width="2.2"/>
<line x1="1480.3" y1="1370.1" x2="1586" y2="1348.3" stroke="#d8b58c" stroke-opacity="0.6" stroke-width="3"/>
<line x1="2116.5" y1="1318.7" x2="2225.8" y2="1296.1" stroke="#c29f7a" stroke-opacity="0.5" stroke-width="2"/>
<line x1="1644.8" y1="1518.5" x2="1752.8" y2="1496.2" stroke="#d29a5c" stroke-opacity="0.45" stroke-width="2.2"/>
<line x1="2703.1" y1="977.2" x2="2769.4" y2="963.5" stroke="#c29f7a" stroke-opacity="0.5" stroke-width="2"/>
<line x1="699.7" y1="1776.9" x2="797.2" y2="1756.8" stroke="#dcbc96" stroke-opacity="0.55" stroke-width="2.2"/>
<line x1="2061.4" y1="1342.1" x2="2129.1" y2="1328.1" stroke="#d29a5c" stroke-opacity="0.45" stroke-width="2.2"/>
<line x1="2349" y1="1048.3" x2="2409.1" y2="1035.9" stroke="#d29a5c" stroke-opacity="0.45" stroke-width="2.2"/>
<line x1="714.6" y1="1393.2" x2="880.4" y2="1359" stroke="#d8b58c" stroke-opacity="0.6" stroke-width="3"/>
<line x1="2254" y1="1469.4" x2="2409.1" y2="1437.3" stroke="#d8b58c" stroke-opacity="0.6" stroke-width="3"/>
<line x1="2874.2" y1="972" x2="2935.2" y2="959.4" stroke="#c29f7a" stroke-opacity="0.5" stroke-width="2"/>
<line x1="2884.9" y1="1184.1" x2="2979.7" y2="1164.5" stroke="#d29a5c" stroke-opacity="0.45" stroke-width="2.2"/>
<line x1="1162.2" y1="1381" x2="1204.8" y2="1372.2" stroke="#c29f7a" stroke-opacity="0.5" stroke-width="2"/>
<line x1="1473.2" y1="1668.8" x2="1556.3" y2="1651.6" stroke="#d29a5c" stroke-opacity="0.45" stroke-width="2.2"/>
<line x1="1656.3" y1="1607.8" x2="1824.3" y2="1573.1" stroke="#d8b58c" stroke-opacity="0.6" stroke-width="3"/>
<line x1="2827.8" y1="1345.4" x2="2902.3" y2="1330" stroke="#dcbc96" stroke-opacity="0.55" stroke-width="2.2"/>
<line x1="2660" y1="1341.7" x2="2798.3" y2="1313.2" stroke="#c29f7a" stroke-opacity="0.5" stroke-width="2"/>
<line x1="2516.4" y1="1124.2" x2="2679.4" y2="1090.5" stroke="#c29f7a" stroke-opacity="0.5" stroke-width="2"/>
<line x1="730.9" y1="1371.7" x2="845.1" y2="1348.1" stroke="#d29a5c" stroke-opacity="0.45" stroke-width="2.2"/>
<line x1="578.1" y1="1834.1" x2="707.6" y2="1807.3" stroke="#c29f7a" stroke-opacity="0.5" stroke-width="2"/>
<line x1="2633" y1="1303.6" x2="2675.2" y2="1294.9" stroke="#dcbc96" stroke-opacity="0.55" stroke-width="2.2"/>
<line x1="2394.2" y1="1445.6" x2="2545.5" y2="1414.3" stroke="#dcbc96" stroke-opacity="0.55" stroke-width="2.2"/>
<line x1="1024.4" y1="1709.8" x2="1065.9" y2="1701.2" stroke="#c29f7a" stroke-opacity="0.5" stroke-width="2"/>
<line x1="2713" y1="1287.6" x2="2769.8" y2="1275.9" stroke="#d8b58c" stroke-opacity="0.6" stroke-width="3"/>
<line x1="2742.2" y1="930.9" x2="2816.3" y2="915.6" stroke="#d8b58c" stroke-opacity="0.6" stroke-width="3"/>
<line x1="864.5" y1="1647.7" x2="944.2" y2="1631.2" stroke="#d8b58c" stroke-opacity="0.6" stroke-width="3"/>
<line x1="1089.4" y1="1507.1" x2="1152.5" y2="1494.1" stroke="#d29a5c" stroke-opacity="0.45" stroke-width="2.2"/>
<line x1="2399.4" y1="989.1" x2="2444.2" y2="979.9" stroke="#dcbc96" stroke-opacity="0.55" stroke-width="2.2"/>
<line x1="2219.4" y1="1248.1" x2="2284" y2="1234.7" stroke="#c29f7a" stroke-opacity="0.5" stroke-width="2"/>
<line x1="976.5" y1="1557" x2="1102.1" y2="1531" stroke="#c29f7a" stroke-opacity="0.5" stroke-width="2"/>
<line x1="2024.1" y1="1291" x2="2179.6" y2="1258.9" stroke="#d29a5c" stroke-opacity="0.45" stroke-width="2.2"/>
<line x1="2103.7" y1="1056.3" x2="2188.3" y2="1038.8" stroke="#d8b58c" stroke-opacity="0.6" stroke-width="3"/>
<line x1="1382" y1="1522.9" x2="1429" y2="1513.2" stroke="#d8b58c" stroke-opacity="0.6" stroke-width="3"/>
<line x1="386.4" y1="1589.8" x2="540.7" y2="1557.9" stroke="#c29f7a" stroke-opacity="0.5" stroke-width="2"/>
<line x1="766.3" y1="1781.7" x2="915.6" y2="1750.8" stroke="#d29a5c" stroke-opacity="0.45" stroke-width="2.2"/>
<line x1="1876.9" y1="1248.1" x2="1922.8" y2="1238.6" stroke="#d8b58c" stroke-opacity="0.6" stroke-width="3"/>
<line x1="751.7" y1="1604.1" x2="825.9" y2="1588.7" stroke="#d29a5c" stroke-opacity="0.45" stroke-width="2.2"/>
<line x1="2830.2" y1="1123.8" x2="2902" y2="1109" stroke="#d29a5c" stroke-opacity="0.45" stroke-width="2.2"/>
<line x1="905.6" y1="1703.7" x2="989.2" y2="1686.4" stroke="#dcbc96" stroke-opacity="0.55" stroke-width="2.2"/>
<line x1="1560.3" y1="1408.4" x2="1626.5" y2="1394.8" stroke="#dcbc96" stroke-opacity="0.55" stroke-width="2.2"/>
</g>
<path d="M1406 1808.8C1408.8 1808.7 1415.7 1809.3 1422.9 1808.4C1430.1 1807.5 1440.6 1805.5 1449.4 1803.4C1458.3 1801.3 1467.7 1798.8 1476 1795.9C1484.3 1793 1491.7 1789.9 1499.2 1786C1506.7 1782.1 1514.1 1777.7 1520.8 1772.7C1527.4 1767.7 1533.5 1762.2 1539 1756.1C1544.6 1750 1549.5 1743.1 1554 1736.2C1558.4 1729.3 1562.2 1722.4 1565.6 1714.7C1568.9 1706.9 1571.7 1698.1 1573.9 1689.8C1576.1 1681.5 1577.7 1673.2 1578.8 1664.9C1579.9 1656.6 1579.8 1648.9 1580.5 1640C1581.2 1631.1 1583.3 1619.9 1583.2 1611.4C1583.2 1603 1582 1596.6 1580.3 1589.2C1578.5 1581.8 1576.1 1574.4 1572.9 1567C1569.6 1559.6 1565 1551 1561 1544.8C1557.1 1538.6 1551.1 1532.5 1549.2 1530C1545.1 1528.8 1532.8 1525.3 1525 1522.5C1517.2 1519.7 1510 1515 1502.5 1513C1495 1511 1483.8 1510.9 1480 1510.5C1478.8 1513.8 1475.3 1523 1472.5 1530C1469.7 1537 1462.3 1547.3 1463.3 1552.2C1464.2 1557.1 1473.6 1556.4 1478.1 1559.6C1482.5 1562.8 1486.5 1567 1489.9 1571.5C1493.4 1575.9 1496.3 1580.8 1498.8 1586.3C1501.3 1591.7 1503.4 1598.1 1504.7 1604C1506.1 1610 1506.8 1615.9 1507 1621.8C1507.1 1627.7 1506.6 1633.9 1505.5 1639.6C1504.4 1645.3 1502.4 1650.7 1500.3 1655.9C1498.2 1661.1 1494.5 1667.2 1492.9 1670.7C1491.3 1674.1 1491 1675.6 1490.7 1676.6L1489.2 1670.7C1488.6 1672.9 1487.3 1679.1 1485.5 1684C1483.6 1688.9 1481.8 1694.6 1478.1 1700.3C1474.4 1706 1468.2 1713.1 1463.3 1718.1C1458.3 1723 1453.4 1726.7 1448.5 1729.9C1443.5 1733.1 1438.6 1735 1433.7 1737.3C1428.7 1739.7 1423.8 1742.1 1418.8 1744C1413.9 1745.8 1409 1747.3 1404 1748.4C1399.1 1749.5 1394.2 1750.4 1389.2 1750.6C1384.3 1750.9 1379.4 1750.6 1374.4 1749.9C1369.5 1749.2 1364.6 1747.8 1359.6 1746.2C1354.7 1744.6 1348.9 1742.2 1344.8 1740.3C1340.7 1738.4 1336.7 1735.8 1335 1734.9Z" fill="url(#gvalLL)" stroke="none"/>
<path d="M1726.3 1505.9C1728.6 1510.3 1737.1 1522.8 1740 1532.5C1742.9 1542.2 1742.5 1554.4 1743.8 1564C1745 1573.6 1745.4 1581.7 1747.5 1590C1749.6 1598.3 1752.3 1607.5 1756.2 1613.8C1760.2 1620 1764.8 1624 1771.2 1627.5C1777.7 1631 1787.9 1633.6 1795 1634.5C1802.1 1635.4 1810.6 1633.2 1813.8 1633L1818.8 1627.5C1821 1630 1827.3 1638.5 1832.5 1642.5C1837.7 1646.5 1844.4 1649.9 1850 1651.8C1855.6 1653.6 1863.5 1653.4 1866.2 1653.8C1869.4 1653 1878.5 1651.6 1885 1649.5C1891.5 1647.4 1897.5 1645.1 1905 1641.2C1912.5 1637.4 1922.1 1632.1 1930 1626.2C1937.9 1620.4 1945.8 1612.6 1952.5 1606.2C1959.2 1599.9 1964.7 1593.8 1970 1588C1975.3 1582.2 1982.1 1574 1984.5 1571.2L2061.6 1620L2060 1593.2C2055.3 1596.8 2040.6 1607.8 2031.8 1614.7C2022.9 1621.7 2015.2 1628 2006.9 1634.7C1998.6 1641.3 1990.3 1648.2 1982 1654.6C1973.7 1660.9 1965.4 1667.3 1957.1 1672.8C1948.8 1678.3 1940.5 1683.2 1932.2 1687.7C1924 1692.3 1915.7 1696.7 1907.4 1700.2C1899.1 1703.6 1890.8 1706.1 1882.5 1708.5C1874.2 1710.8 1865.9 1712.9 1857.6 1714.3C1849.3 1715.7 1841 1716.6 1832.7 1716.8C1824.4 1716.9 1816.1 1716.5 1807.8 1715.1C1799.5 1713.7 1791.2 1711.9 1782.9 1708.5C1774.7 1705 1765.5 1700.3 1758.1 1694.4C1750.6 1688.4 1744 1680.8 1738.2 1672.8C1732.3 1664.8 1727.4 1655.4 1723.2 1646.3C1719.1 1637.1 1715.8 1628.3 1713.3 1618.1C1710.8 1607.8 1709.4 1589.8 1708.3 1584.9C1707.1 1580 1706.1 1593.7 1706.4 1588.8C1706.6 1584 1707.7 1566.7 1709.7 1555.7C1711.6 1544.6 1714.4 1532.7 1718 1522.5C1721.6 1512.3 1729 1499 1731.2 1494.3Z" fill="url(#gvalRL)" stroke="none"/>
<path d="M1598.8 1482.5C1596 1477.9 1587.3 1463.8 1582.5 1455C1577.7 1446.2 1572.8 1438.3 1570 1430C1567.2 1421.7 1565.7 1412.9 1565.5 1405C1565.3 1397.1 1566.3 1389.6 1568.8 1382.5C1571.2 1375.4 1575.2 1368.1 1580 1362.5C1584.8 1356.9 1591.2 1352.2 1597.5 1348.8C1603.8 1345.3 1610.8 1343 1617.5 1342C1624.2 1341 1631.2 1341.2 1637.5 1342.5C1643.8 1343.8 1649.6 1346.5 1655 1350C1660.4 1353.5 1665.8 1358.3 1670 1363.8C1674.2 1369.2 1677.7 1375.6 1680 1382.5C1682.3 1389.4 1683.5 1397.9 1683.8 1405C1684 1412.1 1682.7 1418.8 1681.2 1425C1679.8 1431.2 1677.5 1435.8 1675 1442.5C1672.5 1449.2 1668.8 1458.8 1666.2 1465C1663.8 1471.2 1661 1477.5 1660 1480L1657.5 1455C1658.5 1452.5 1662 1445.8 1663.8 1440C1665.5 1434.2 1667.6 1426.7 1668 1420C1668.4 1413.3 1668 1406.2 1666.2 1400C1664.5 1393.8 1661.5 1387.3 1657.5 1382.5C1653.5 1377.7 1647.9 1373.8 1642.5 1371.2C1637.1 1368.8 1630.8 1367.5 1625 1367.5C1619.2 1367.5 1612.9 1368.8 1607.5 1371.2C1602.1 1373.8 1596.5 1377.7 1592.5 1382.5C1588.5 1387.3 1585.5 1393.8 1583.8 1400C1582 1406.2 1581.4 1413.3 1582 1420C1582.6 1426.7 1584.5 1432.9 1587.5 1440C1590.5 1447.1 1597.9 1458.8 1600 1462.5L1598.8 1482.5Z" fill="#cfad88" stroke="none"/>
<path d="M1600 1462.5C1597.9 1458.8 1590.5 1447.1 1587.5 1440C1584.5 1432.9 1582.6 1426.7 1582 1420C1581.4 1413.3 1582 1406.2 1583.8 1400C1585.5 1393.8 1588.5 1387.3 1592.5 1382.5C1596.5 1377.7 1602.1 1373.8 1607.5 1371.2C1612.9 1368.8 1619.2 1367.5 1625 1367.5C1630.8 1367.5 1637.1 1368.8 1642.5 1371.2C1647.9 1373.8 1653.5 1377.7 1657.5 1382.5C1661.5 1387.3 1664.5 1393.8 1666.2 1400C1668 1406.2 1668.4 1413.3 1668 1420C1667.6 1426.7 1665.5 1434.2 1663.8 1440C1662 1445.8 1658.5 1452.5 1657.5 1455L1660 1480C1659.2 1486.2 1656.8 1505 1655.5 1517.5C1654.2 1530 1653 1542.5 1652 1555C1651 1567.5 1649.9 1586.2 1649.5 1592.5L1648 1592.5C1647.5 1587.5 1647 1572.1 1645 1562.5C1643 1552.9 1640.4 1544.6 1636.2 1535C1632.1 1525.4 1626.2 1513.8 1620 1505C1613.8 1496.2 1602.3 1486.2 1598.8 1482.5L1600 1462.5Z" fill="url(#gstemL)" stroke="none"/>
<path d="M1678.8 1730.5C1679 1732.1 1680.1 1736.3 1680.5 1740C1680.9 1743.7 1681.5 1747.9 1681.2 1752.5C1681 1757.1 1680.2 1762.1 1678.8 1767.5C1677.3 1772.9 1675.6 1779.6 1672.5 1785C1669.4 1790.4 1664.6 1795.8 1660 1800C1655.4 1804.2 1650 1807.8 1645 1810C1640 1812.2 1635 1813 1630 1813C1625 1813 1619.6 1812.2 1615 1810C1610.4 1807.8 1606.2 1803.5 1602.5 1800C1598.8 1796.5 1594.8 1791.2 1592.5 1788.8C1590.2 1786.2 1589.4 1785.6 1588.8 1785C1592.3 1780 1603.1 1766.7 1610 1755C1616.9 1743.3 1624.6 1728.8 1630 1715C1635.4 1701.2 1639.5 1685.8 1642.5 1672.5C1645.5 1659.2 1646.8 1647.5 1648 1635C1649.2 1622.5 1649.2 1603.8 1649.5 1597.5C1649.8 1603.8 1650.1 1623.3 1651.2 1635C1652.4 1646.7 1654.2 1657.9 1656.2 1667.5C1658.3 1677.1 1660.6 1684.6 1663.8 1692.5C1666.9 1700.4 1671.6 1709.4 1675 1715C1678.4 1720.6 1682.7 1724.4 1684.2 1726.2L1678.8 1730.5Z" fill="#cfad88" stroke="none"/>
<path d="M862 1575.3C868.2 1576 887 1577.3 899.5 1579.5C912 1581.7 924.5 1584.7 937 1588.2C949.5 1591.8 962 1596.2 974.5 1600.8C987 1605.3 999.5 1610.3 1012 1615.8C1024.5 1621.2 1037 1627.2 1049.5 1633.2C1062 1639.3 1074.5 1646 1087 1652C1099.5 1658 1112 1664.1 1124.5 1669.5C1137 1674.9 1149.5 1679.5 1162 1684.5C1174.5 1689.5 1187 1694.7 1199.5 1699.5C1212 1704.3 1224.5 1709.1 1237 1713.2C1249.5 1717.4 1264.1 1721.6 1274.5 1724.5C1284.9 1727.4 1291.4 1729.3 1299.5 1730.8C1307.6 1732.2 1319.3 1732.8 1323.2 1733.2L1326.2 1742.2C1322.3 1741.8 1310.6 1741.2 1302.5 1739.8C1294.4 1738.3 1287.9 1736.4 1277.5 1733.5C1267.1 1730.6 1252.5 1726.4 1240 1722.2C1227.5 1718.1 1215 1713.3 1202.5 1708.5C1190 1703.7 1177.5 1698.5 1165 1693.5C1152.5 1688.5 1140 1683.9 1127.5 1678.5C1115 1673.1 1102.5 1667 1090 1661C1077.5 1655 1065 1648.3 1052.5 1642.2C1040 1636.2 1027.5 1630.2 1015 1624.8C1002.5 1619.3 990 1614.3 977.5 1609.8C965 1605.2 952.5 1600.8 940 1597.2C927.5 1593.7 915 1590.7 902.5 1588.5C890 1586.3 871.2 1585 865 1584.3Z" fill="#d9b890" stroke="none"/>
<path d="M862 1575.3C868.2 1576 887 1577.3 899.5 1579.5C912 1581.7 924.5 1584.7 937 1588.2C949.5 1591.8 962 1596.2 974.5 1600.8C987 1605.3 999.5 1610.3 1012 1615.8C1024.5 1621.2 1037 1627.2 1049.5 1633.2C1062 1639.3 1074.5 1646 1087 1652C1099.5 1658 1112 1664.1 1124.5 1669.5C1137 1674.9 1149.5 1679.5 1162 1684.5C1174.5 1689.5 1187 1694.7 1199.5 1699.5C1212 1704.3 1224.5 1709.1 1237 1713.2C1249.5 1717.4 1264.1 1721.6 1274.5 1724.5C1284.9 1727.4 1291.4 1729.3 1299.5 1730.8C1307.6 1732.2 1319.3 1732.8 1323.2 1733.2" fill="none" stroke="#1c1008" stroke-width="1.2" stroke-linecap="round" stroke-linejoin="round"/>
<path d="M865 1584.3C871.2 1585 890 1586.3 902.5 1588.5C915 1590.7 927.5 1593.7 940 1597.2C952.5 1600.8 965 1605.2 977.5 1609.8C990 1614.3 1002.5 1619.3 1015 1624.8C1027.5 1630.2 1040 1636.2 1052.5 1642.2C1065 1648.3 1077.5 1655 1090 1661C1102.5 1667 1115 1673.1 1127.5 1678.5C1140 1683.9 1152.5 1688.5 1165 1693.5C1177.5 1698.5 1190 1703.7 1202.5 1708.5C1215 1713.3 1227.5 1718.1 1240 1722.2C1252.5 1726.4 1267.1 1730.6 1277.5 1733.5C1287.9 1736.4 1294.4 1738.3 1302.5 1739.8C1310.6 1741.2 1322.3 1741.8 1326.2 1742.2" fill="none" stroke="#1c1008" stroke-width="1.2" stroke-linecap="round" stroke-linejoin="round"/>
<path d="M520.3 1778C523.5 1776.5 532.8 1771.9 539.3 1769C545.8 1766.1 553.2 1764.2 559.3 1760.7C565.4 1757.2 570.4 1753.3 576 1748C581.6 1742.7 587.1 1736.1 592.7 1729C598.2 1721.9 603.8 1713.2 609.3 1705.7C614.9 1698.2 620.4 1690.8 626 1684C631.6 1677.2 637.1 1670.7 642.7 1664.7C648.2 1658.7 653.2 1653.6 659.3 1648C665.4 1642.4 672.1 1636.7 679.3 1631.3C686.6 1625.9 694.9 1620.3 702.7 1615.7C710.4 1611 717.4 1607.3 726 1603.3C734.6 1599.3 749.6 1593.6 754.3 1591.7L761.3 1596.7C756.6 1598.6 741.6 1604.3 733 1608.3C724.4 1612.3 717.4 1616 709.7 1620.7C701.9 1625.3 693.6 1630.9 686.3 1636.3C679.1 1641.7 672.4 1647.4 666.3 1653C660.2 1658.6 655.2 1663.7 649.7 1669.7C644.1 1675.7 638.6 1682.2 633 1689C627.4 1695.8 621.9 1703.2 616.3 1710.7C610.8 1718.2 605.2 1726.9 599.7 1734C594.1 1741.1 588.6 1747.7 583 1753C577.4 1758.3 572.4 1762.2 566.3 1765.7C560.2 1769.2 552.8 1771.1 546.3 1774C539.8 1776.9 530.5 1781.5 527.3 1783Z" fill="#d9b890" stroke="none"/>
<path d="M520.3 1778C523.5 1776.5 532.8 1771.9 539.3 1769C545.8 1766.1 553.2 1764.2 559.3 1760.7C565.4 1757.2 570.4 1753.3 576 1748C581.6 1742.7 587.1 1736.1 592.7 1729C598.2 1721.9 603.8 1713.2 609.3 1705.7C614.9 1698.2 620.4 1690.8 626 1684C631.6 1677.2 637.1 1670.7 642.7 1664.7C648.2 1658.7 653.2 1653.6 659.3 1648C665.4 1642.4 672.1 1636.7 679.3 1631.3C686.6 1625.9 694.9 1620.3 702.7 1615.7C710.4 1611 717.4 1607.3 726 1603.3C734.6 1599.3 749.6 1593.6 754.3 1591.7" fill="none" stroke="#1c1008" stroke-width="1.2" stroke-linecap="round" stroke-linejoin="round"/>
<path d="M527.3 1783C530.5 1781.5 539.8 1776.9 546.3 1774C552.8 1771.1 560.2 1769.2 566.3 1765.7C572.4 1762.2 577.4 1758.3 583 1753C588.6 1747.7 594.1 1741.1 599.7 1734C605.2 1726.9 610.8 1718.2 616.3 1710.7C621.9 1703.2 627.4 1695.8 633 1689C638.6 1682.2 644.1 1675.7 649.7 1669.7C655.2 1663.7 660.2 1658.6 666.3 1653C672.4 1647.4 679.1 1641.7 686.3 1636.3C693.6 1630.9 701.9 1625.3 709.7 1620.7C717.4 1616 724.4 1612.3 733 1608.3C741.6 1604.3 756.6 1598.6 761.3 1596.7" fill="none" stroke="#1c1008" stroke-width="1.2" stroke-linecap="round" stroke-linejoin="round"/>
<path d="M1981 1593.3C1985.2 1588.1 1996.3 1571.4 2006 1561.7C2015.7 1551.9 2028.2 1543.6 2039.3 1535C2050.4 1526.4 2061.6 1518.6 2072.7 1510C2083.8 1501.4 2094.9 1492.8 2106 1483.3C2117.1 1473.9 2128.2 1463.6 2139.3 1453.3C2150.4 1443.1 2161.6 1432.5 2172.7 1421.7C2183.8 1410.8 2194.9 1399.2 2206 1388.3C2217.1 1377.5 2228.2 1366.7 2239.3 1356.7C2250.4 1346.7 2261.6 1337.2 2272.7 1328.3C2283.8 1319.4 2294.9 1310.8 2306 1303.3C2317.1 1295.8 2328.2 1289.4 2339.3 1283.3C2350.4 1277.2 2362.8 1271.7 2372.7 1266.7C2382.6 1261.7 2394.3 1255.6 2398.7 1253.3L2405.7 1258.3C2401.3 1260.6 2389.6 1266.7 2379.7 1271.7C2369.8 1276.7 2357.4 1282.2 2346.3 1288.3C2335.2 1294.4 2324.1 1300.8 2313 1308.3C2301.9 1315.8 2290.8 1324.4 2279.7 1333.3C2268.6 1342.2 2257.4 1351.7 2246.3 1361.7C2235.2 1371.7 2224.1 1382.5 2213 1393.3C2201.9 1404.2 2190.8 1415.8 2179.7 1426.7C2168.6 1437.5 2157.4 1448.1 2146.3 1458.3C2135.2 1468.6 2124.1 1478.9 2113 1488.3C2101.9 1497.8 2090.8 1506.4 2079.7 1515C2068.6 1523.6 2057.4 1531.4 2046.3 1540C2035.2 1548.6 2022.7 1556.9 2013 1566.7C2003.3 1576.4 1992.2 1593.1 1988 1598.3Z" fill="#d9b890" stroke="none"/>
<path d="M1981 1593.3C1985.2 1588.1 1996.3 1571.4 2006 1561.7C2015.7 1551.9 2028.2 1543.6 2039.3 1535C2050.4 1526.4 2061.6 1518.6 2072.7 1510C2083.8 1501.4 2094.9 1492.8 2106 1483.3C2117.1 1473.9 2128.2 1463.6 2139.3 1453.3C2150.4 1443.1 2161.6 1432.5 2172.7 1421.7C2183.8 1410.8 2194.9 1399.2 2206 1388.3C2217.1 1377.5 2228.2 1366.7 2239.3 1356.7C2250.4 1346.7 2261.6 1337.2 2272.7 1328.3C2283.8 1319.4 2294.9 1310.8 2306 1303.3C2317.1 1295.8 2328.2 1289.4 2339.3 1283.3C2350.4 1277.2 2362.8 1271.7 2372.7 1266.7C2382.6 1261.7 2394.3 1255.6 2398.7 1253.3" fill="none" stroke="#1c1008" stroke-width="1.2" stroke-linecap="round" stroke-linejoin="round"/>
<path d="M1988 1598.3C1992.2 1593.1 2003.3 1576.4 2013 1566.7C2022.7 1556.9 2035.2 1548.6 2046.3 1540C2057.4 1531.4 2068.6 1523.6 2079.7 1515C2090.8 1506.4 2101.9 1497.8 2113 1488.3C2124.1 1478.9 2135.2 1468.6 2146.3 1458.3C2157.4 1448.1 2168.6 1437.5 2179.7 1426.7C2190.8 1415.8 2201.9 1404.2 2213 1393.3C2224.1 1382.5 2235.2 1371.7 2246.3 1361.7C2257.4 1351.7 2268.6 1342.2 2279.7 1333.3C2290.8 1324.4 2301.9 1315.8 2313 1308.3C2324.1 1300.8 2335.2 1294.4 2346.3 1288.3C2357.4 1282.2 2369.8 1276.7 2379.7 1271.7C2389.6 1266.7 2401.3 1260.6 2405.7 1258.3" fill="none" stroke="#1c1008" stroke-width="1.2" stroke-linecap="round" stroke-linejoin="round"/>
<path d="M2547.7 1247C2552.1 1248.7 2565.4 1253.1 2574.3 1257C2583.2 1260.9 2593.2 1266.2 2601 1270.3C2608.8 1274.5 2614.3 1277.8 2621 1282C2627.7 1286.2 2634.3 1290.9 2641 1295.3C2647.7 1299.8 2654.3 1304.8 2661 1308.7C2667.7 1312.6 2674.3 1316.2 2681 1318.7C2687.7 1321.2 2694.3 1322.9 2701 1323.7C2707.7 1324.4 2714.3 1323.7 2721 1323C2727.7 1322.3 2736.7 1320.7 2741 1319.7C2745.3 1318.7 2746 1317.4 2747 1317L2749 1325C2748 1325.4 2747.3 1326.7 2743 1327.7C2738.7 1328.7 2729.7 1330.3 2723 1331C2716.3 1331.7 2709.7 1332.4 2703 1331.7C2696.3 1330.9 2689.7 1329.2 2683 1326.7C2676.3 1324.2 2669.7 1320.6 2663 1316.7C2656.3 1312.8 2649.7 1307.8 2643 1303.3C2636.3 1298.9 2629.7 1294.2 2623 1290C2616.3 1285.8 2610.8 1282.5 2603 1278.3C2595.2 1274.2 2585.2 1268.9 2576.3 1265C2567.4 1261.1 2554.1 1256.7 2549.7 1255Z" fill="#d9b890" stroke="none"/>
<path d="M2547.7 1247C2552.1 1248.7 2565.4 1253.1 2574.3 1257C2583.2 1260.9 2593.2 1266.2 2601 1270.3C2608.8 1274.5 2614.3 1277.8 2621 1282C2627.7 1286.2 2634.3 1290.9 2641 1295.3C2647.7 1299.8 2654.3 1304.8 2661 1308.7C2667.7 1312.6 2674.3 1316.2 2681 1318.7C2687.7 1321.2 2694.3 1322.9 2701 1323.7C2707.7 1324.4 2714.3 1323.7 2721 1323C2727.7 1322.3 2736.7 1320.7 2741 1319.7C2745.3 1318.7 2746 1317.4 2747 1317" fill="none" stroke="#1c1008" stroke-width="1.2" stroke-linecap="round" stroke-linejoin="round"/>
<path d="M2549.7 1255C2554.1 1256.7 2567.4 1261.1 2576.3 1265C2585.2 1268.9 2595.2 1274.2 2603 1278.3C2610.8 1282.5 2616.3 1285.8 2623 1290C2629.7 1294.2 2636.3 1298.9 2643 1303.3C2649.7 1307.8 2656.3 1312.8 2663 1316.7C2669.7 1320.6 2676.3 1324.2 2683 1326.7C2689.7 1329.2 2696.3 1330.9 2703 1331.7C2709.7 1332.4 2716.3 1331.7 2723 1331C2729.7 1330.3 2738.7 1328.7 2743 1327.7C2747.3 1326.7 2748 1325.4 2749 1325" fill="none" stroke="#1c1008" stroke-width="1.2" stroke-linecap="round" stroke-linejoin="round"/>
<path d="M506.7 1865.7C511.7 1863.2 524 1859.8 536.7 1850.7C549.4 1841.5 571.1 1822 582.9 1810.6C594.8 1799.2 600.6 1791.5 607.8 1782.4C615 1773.3 620.3 1764.7 626.1 1755.8C631.9 1747 637.1 1738.2 642.7 1729.3C648.2 1720.5 653.5 1711.3 659.3 1702.8C665.1 1694.2 671.4 1685.3 677.5 1677.9C683.6 1670.4 691.1 1662.7 695.8 1658C700.5 1653.3 702.4 1652.4 705.7 1649.7C709 1646.9 711.8 1644.7 715.7 1641.4C719.5 1638.1 724.8 1632.8 728.9 1629.8C733.1 1626.7 738.6 1624.2 740.5 1623.1L728.9 1623.1C727 1624.2 721.5 1626.7 717.3 1629.8C713.2 1632.8 707.9 1638.1 704.1 1641.4C700.2 1644.7 697.4 1646.9 694.1 1649.7C690.8 1652.4 688.9 1653.3 684.2 1658C679.5 1662.7 672 1670.4 665.9 1677.9C659.8 1685.3 653.5 1694.2 647.7 1702.8C641.9 1711.3 636.6 1720.5 631.1 1729.3C625.5 1738.2 620.3 1747 614.5 1755.8C608.7 1764.7 603.4 1773.3 596.2 1782.4C589 1791.5 583.2 1799.2 571.3 1810.6C559.5 1822 537.8 1841.5 525.1 1850.7C512.4 1859.8 500.1 1863.2 495.1 1865.7L506.7 1865.7Z" fill="#d9b890" stroke="none"/>
<path d="M500.7 1865.7C505.7 1863.2 518 1859.8 530.7 1850.7C543.4 1841.5 565.1 1822 576.9 1810.6C588.8 1799.2 594.6 1791.5 601.8 1782.4C609 1773.3 614.3 1764.7 620.1 1755.8C625.9 1747 631.1 1738.2 636.7 1729.3C642.2 1720.5 647.5 1711.3 653.3 1702.8C659.1 1694.2 665.4 1685.3 671.5 1677.9C677.6 1670.4 685.1 1662.7 689.8 1658C694.5 1653.3 696.4 1652.4 699.7 1649.7C703 1646.9 705.8 1644.7 709.7 1641.4C713.5 1638.1 718.8 1632.8 722.9 1629.8C727.1 1626.7 732.6 1624.2 734.5 1623.1" fill="none" stroke="#1c1008" stroke-width="1.0999999999999999" stroke-linecap="round" stroke-linejoin="round"/>
<path d="M495.1 1865.7C500.1 1863.2 512.4 1859.8 525.1 1850.7C537.8 1841.5 559.5 1822 571.3 1810.6C583.2 1799.2 589 1791.5 596.2 1782.4C603.4 1773.3 608.7 1764.7 614.5 1755.8C620.3 1747 625.5 1738.2 631.1 1729.3C636.6 1720.5 641.9 1711.3 647.7 1702.8C653.5 1694.2 659.8 1685.3 665.9 1677.9C672 1670.4 679.5 1662.7 684.2 1658C688.9 1653.3 690.8 1652.4 694.1 1649.7C697.4 1646.9 700.2 1644.7 704.1 1641.4C707.9 1638.1 713.2 1632.8 717.3 1629.8C721.5 1626.7 727 1624.2 728.9 1623.1" fill="none" stroke="#1c1008" stroke-width="1.0999999999999999" stroke-linecap="round" stroke-linejoin="round"/>
<path d="M2061.6 1620C2071.8 1608.7 2104.4 1572.5 2122.9 1552.3C2141.5 1532.2 2156.1 1517.2 2172.7 1499.3C2189.3 1481.3 2208.7 1460 2222.5 1444.5C2236.3 1429 2244.6 1419.1 2255.7 1406.4C2266.7 1393.6 2279.4 1379.3 2288.8 1368.2C2298.2 1357.1 2308.2 1344.7 2312.1 1340L2301.3 1340C2297.4 1344.7 2287.4 1357.1 2278 1368.2C2268.6 1379.3 2255.9 1393.6 2244.9 1406.4C2233.8 1419.1 2225.5 1429 2211.7 1444.5C2197.9 1460 2178.5 1481.3 2161.9 1499.3C2145.3 1517.2 2130.7 1532.2 2112.1 1552.3C2093.6 1572.5 2061 1608.7 2050.8 1620L2061.6 1620Z" fill="#d9b890" stroke="none"/>
<path d="M2056.1 1620C2066.3 1608.7 2098.9 1572.5 2117.4 1552.3C2136 1532.2 2150.6 1517.2 2167.2 1499.3C2183.8 1481.3 2203.2 1460 2217 1444.5C2230.8 1429 2239.1 1419.1 2250.2 1406.4C2261.2 1393.6 2273.9 1379.3 2283.3 1368.2C2292.7 1357.1 2302.7 1344.7 2306.6 1340" fill="none" stroke="#1c1008" stroke-width="1.0999999999999999" stroke-linecap="round" stroke-linejoin="round"/>
<path d="M2050.8 1620C2061 1608.7 2093.6 1572.5 2112.1 1552.3C2130.7 1532.2 2145.3 1517.2 2161.9 1499.3C2178.5 1481.3 2197.9 1460 2211.7 1444.5C2225.5 1429 2233.8 1419.1 2244.9 1406.4C2255.9 1393.6 2268.6 1379.3 2278 1368.2C2287.4 1357.1 2297.4 1344.7 2301.3 1340" fill="none" stroke="#1c1008" stroke-width="1.0999999999999999" stroke-linecap="round" stroke-linejoin="round"/>
<path d="M897.5 1596.2C903.8 1596.9 924.6 1597.7 935 1600C945.4 1602.3 951.7 1605.8 960 1610C968.3 1614.2 976.7 1619.2 985 1625C993.3 1630.8 1001.7 1637.9 1010 1645C1018.3 1652.1 1026.7 1660 1035 1667.5C1043.3 1675 1051.7 1682.5 1060 1690C1068.3 1697.5 1076.7 1705.4 1085 1712.5C1093.3 1719.6 1101.7 1726.2 1110 1732.5C1118.3 1738.8 1126.7 1744.6 1135 1750C1143.3 1755.4 1151.7 1760.4 1160 1765C1168.3 1769.6 1176.7 1773.5 1185 1777.5C1193.3 1781.5 1201.7 1785.2 1210 1788.8C1218.3 1792.3 1226.7 1795.8 1235 1798.8C1243.3 1801.7 1251.7 1804.2 1260 1806.2C1268.3 1808.3 1276.7 1809.8 1285 1811.2C1293.3 1812.7 1301.7 1814.2 1310 1815C1318.3 1815.8 1326.7 1816.2 1335 1816.2C1343.3 1816.2 1351.7 1815.6 1360 1815C1368.3 1814.4 1377.3 1813.5 1385 1812.5C1392.7 1811.5 1402.5 1809.4 1406 1808.8L1412 1795.8C1408.5 1796.4 1398.7 1798.5 1391 1799.5C1383.3 1800.5 1374.3 1801.4 1366 1802C1357.7 1802.6 1349.3 1803.2 1341 1803.2C1332.7 1803.2 1324.3 1802.8 1316 1802C1307.7 1801.2 1299.3 1799.7 1291 1798.2C1282.7 1796.8 1274.3 1795.3 1266 1793.2C1257.7 1791.2 1249.3 1788.7 1241 1785.8C1232.7 1782.8 1224.3 1779.3 1216 1775.8C1207.7 1772.2 1199.3 1768.5 1191 1764.5C1182.7 1760.5 1174.3 1756.6 1166 1752C1157.7 1747.4 1149.3 1742.4 1141 1737C1132.7 1731.6 1124.3 1725.8 1116 1719.5C1107.7 1713.2 1099.3 1706.6 1091 1699.5C1082.7 1692.4 1074.3 1684.5 1066 1677C1057.7 1669.5 1049.3 1662 1041 1654.5C1032.7 1647 1024.3 1639.1 1016 1632C1007.7 1624.9 999.3 1617.8 991 1612C982.7 1606.2 974.3 1601.2 966 1597C957.7 1592.8 951.4 1589.3 941 1587C930.6 1584.7 909.8 1583.9 903.5 1583.2L897.5 1596.2Z" fill="#d9b890" stroke="none"/>
<path d="M900.5 1590.2C906.8 1590.9 927.6 1591.7 938 1594C948.4 1596.3 954.7 1599.8 963 1604C971.3 1608.2 979.7 1613.2 988 1619C996.3 1624.8 1004.7 1631.9 1013 1639C1021.3 1646.1 1029.7 1654 1038 1661.5C1046.3 1669 1054.7 1676.5 1063 1684C1071.3 1691.5 1079.7 1699.4 1088 1706.5C1096.3 1713.6 1104.7 1720.2 1113 1726.5C1121.3 1732.8 1129.7 1738.6 1138 1744C1146.3 1749.4 1154.7 1754.4 1163 1759C1171.3 1763.6 1179.7 1767.5 1188 1771.5C1196.3 1775.5 1204.7 1779.2 1213 1782.8C1221.3 1786.3 1229.7 1789.8 1238 1792.8C1246.3 1795.7 1254.7 1798.2 1263 1800.2C1271.3 1802.3 1279.7 1803.8 1288 1805.2C1296.3 1806.7 1304.7 1808.2 1313 1809C1321.3 1809.8 1329.7 1810.2 1338 1810.2C1346.3 1810.2 1354.7 1809.6 1363 1809C1371.3 1808.4 1380.3 1807.5 1388 1806.5C1395.7 1805.5 1405.5 1803.4 1409 1802.8" fill="none" stroke="#1c1008" stroke-width="1.0999999999999999" stroke-linecap="round" stroke-linejoin="round"/>
<path d="M903.5 1583.2C909.8 1583.9 930.6 1584.7 941 1587C951.4 1589.3 957.7 1592.8 966 1597C974.3 1601.2 982.7 1606.2 991 1612C999.3 1617.8 1007.7 1624.9 1016 1632C1024.3 1639.1 1032.7 1647 1041 1654.5C1049.3 1662 1057.7 1669.5 1066 1677C1074.3 1684.5 1082.7 1692.4 1091 1699.5C1099.3 1706.6 1107.7 1713.2 1116 1719.5C1124.3 1725.8 1132.7 1731.6 1141 1737C1149.3 1742.4 1157.7 1747.4 1166 1752C1174.3 1756.6 1182.7 1760.5 1191 1764.5C1199.3 1768.5 1207.7 1772.2 1216 1775.8C1224.3 1779.3 1232.7 1782.8 1241 1785.8C1249.3 1788.7 1257.7 1791.2 1266 1793.2C1274.3 1795.3 1282.7 1796.8 1291 1798.2C1299.3 1799.7 1307.7 1801.2 1316 1802C1324.3 1802.8 1332.7 1803.2 1341 1803.2C1349.3 1803.2 1357.7 1802.6 1366 1802C1374.3 1801.4 1383.3 1800.5 1391 1799.5C1398.7 1798.5 1408.5 1796.4 1412 1795.8" fill="none" stroke="#1c1008" stroke-width="1.0999999999999999" stroke-linecap="round" stroke-linejoin="round"/>
<path d="M1330 1810.9C1335.5 1811 1352.1 1811.7 1363.2 1811.7C1374.2 1811.7 1386.4 1811.4 1396.4 1810.9C1406.3 1810.3 1414.1 1809.6 1422.9 1808.4C1431.7 1807.1 1440.6 1805.5 1449.4 1803.4C1458.3 1801.3 1467.7 1798.8 1476 1795.9C1484.3 1793 1491.7 1789.9 1499.2 1786C1506.7 1782.1 1514.1 1777.7 1520.8 1772.7C1527.4 1767.7 1533.5 1762.2 1539 1756.1C1544.6 1750 1549.5 1743.1 1554 1736.2C1558.4 1729.3 1562.2 1722.4 1565.6 1714.7C1568.9 1706.9 1571.7 1698.1 1573.9 1689.8C1576.1 1681.5 1577.7 1673.2 1578.8 1664.9C1579.9 1656.6 1580.2 1644.1 1580.5 1640L1594.6 1640C1594.3 1644.1 1594.2 1655.8 1592.9 1664.9C1591.7 1674 1589.8 1684.8 1587.1 1694.7C1584.5 1704.7 1581.3 1715.2 1577.2 1724.6C1573 1734 1567.5 1743.4 1562.2 1751.1C1557 1758.9 1552 1764.8 1545.7 1771.1C1539.3 1777.3 1531.6 1783.4 1524.1 1788.5C1516.6 1793.6 1509.2 1797.9 1500.9 1801.7C1492.6 1805.6 1483.5 1808.8 1474.3 1811.7C1465.2 1814.6 1455.2 1817.2 1446.1 1819.2C1437 1821.1 1428.4 1822.2 1419.6 1823.3C1410.7 1824.4 1402.4 1825.2 1393 1825.8C1383.6 1826.4 1373.7 1826.7 1363.2 1826.6C1352.7 1826.6 1335.5 1825.7 1330 1825.5L1330 1810.9Z" fill="#d9b890" stroke="none"/>
<path d="M1708.3 1584.9C1709.1 1590.4 1710.8 1607.8 1713.3 1618.1C1715.8 1628.3 1719.1 1637.1 1723.2 1646.3C1727.4 1655.4 1732.3 1664.8 1738.2 1672.8C1744 1680.8 1750.6 1688.4 1758.1 1694.4C1765.5 1700.3 1774.7 1705 1782.9 1708.5C1791.2 1711.9 1799.5 1713.7 1807.8 1715.1C1816.1 1716.5 1824.4 1716.9 1832.7 1716.8C1841 1716.6 1849.3 1715.7 1857.6 1714.3C1865.9 1712.9 1874.2 1710.8 1882.5 1708.5C1890.8 1706.1 1899.1 1703.6 1907.4 1700.2C1915.7 1696.7 1924 1692.3 1932.2 1687.7C1940.5 1683.2 1948.8 1678.3 1957.1 1672.8C1965.4 1667.3 1973.7 1660.9 1982 1654.6C1990.3 1648.2 1998.6 1641.3 2006.9 1634.7C2015.2 1628 2022.9 1621.7 2031.8 1614.7C2040.6 1607.8 2055.3 1596.8 2060 1593.2L2060 1606.4C2056.7 1609.2 2047.5 1617 2040.1 1623C2032.6 1629.1 2023.5 1636.3 2015.2 1642.9C2006.9 1649.6 1998.6 1656.5 1990.3 1662.9C1982 1669.2 1973.7 1675.6 1965.4 1681.1C1957.1 1686.6 1948.8 1691.5 1940.5 1696C1932.2 1700.6 1924 1705 1915.7 1708.5C1907.4 1711.9 1899.1 1714.4 1890.8 1716.8C1882.5 1719.1 1874.7 1721.1 1865.9 1722.6C1857 1724.1 1847.4 1725.6 1837.7 1725.9C1828 1726.2 1817.5 1725.8 1807.8 1724.2C1798.2 1722.7 1788.2 1720.5 1779.6 1716.8C1771.1 1713 1763.7 1708.1 1756.4 1701.8C1749.1 1695.6 1741.6 1687.6 1735.7 1679.4C1729.7 1671.3 1724.9 1662.3 1720.7 1652.9C1716.6 1643.5 1713.3 1633.8 1710.8 1623C1708.3 1612.3 1706.6 1594 1705.8 1588.2L1708.3 1584.9Z" fill="#d9b890" stroke="none"/>
<path d="M761.7 1676.7C757.5 1680.6 743.6 1691.7 736.7 1700C729.7 1708.3 724.2 1717.2 720 1726.7C715.8 1736.1 713.1 1747.5 711.7 1756.7C710.3 1765.8 711.1 1773.3 711.7 1781.7C712.2 1790 712.8 1798.6 715 1806.7C717.2 1814.7 720.8 1823.1 725 1830C729.2 1836.9 734.2 1843.3 740 1848.3C745.8 1853.3 753.1 1857.5 760 1860C766.9 1862.5 775 1863.2 781.7 1863.3C788.3 1863.5 796.9 1861.2 800 1860.8C798.3 1858.6 794.4 1850.7 790 1847.5C785.6 1844.3 778.3 1844.6 773.3 1841.7C768.3 1838.8 763.9 1835.8 760 1830C756.1 1824.2 752.1 1814.7 750 1806.7C747.9 1798.6 747.2 1789.4 747.5 1781.7C747.8 1773.9 749.3 1765.6 751.7 1760C754 1754.4 760 1750.3 761.7 1748.3L748.3 1736.7C750.3 1734.4 755.8 1727.5 760 1723.3C764.2 1719.2 768.3 1714.7 773.3 1711.7C778.3 1708.6 786.1 1707.2 790 1705C793.9 1702.8 795.6 1699.4 796.7 1698.3C798.3 1696.2 802.2 1689.4 806.7 1685.8C811.1 1682.2 820.6 1678.2 823.3 1676.7C818.3 1673.9 803.6 1660 793.3 1660C783.1 1660 766.9 1673.9 761.7 1676.7Z" fill="url(#gc2L)" stroke="none"/>
<path d="M2446.7 1354C2450 1347.8 2457.8 1321.9 2466.7 1316.7C2475.6 1311.4 2490 1319 2500 1322.3C2510 1325.7 2518.6 1331.2 2526.7 1336.7C2534.7 1342.1 2542.2 1347.9 2548.3 1355C2554.4 1362.1 2559.6 1370.4 2563.3 1379.3C2567.1 1388.2 2569.6 1398.8 2571 1408.3C2572.4 1417.9 2573 1427.2 2572 1436.7C2571 1446.1 2568.6 1456.8 2565 1465C2561.4 1473.2 2556.5 1480.1 2550.7 1486C2544.8 1491.9 2537.3 1497.3 2530 1500.7C2522.7 1504 2513.1 1504.7 2506.7 1506C2500.3 1507.3 2494.2 1507.9 2491.7 1508.3C2493.1 1507.8 2495.3 1508.1 2500 1505C2504.7 1501.9 2514.2 1495.8 2520 1490C2525.8 1484.2 2531.2 1477.2 2535 1470C2538.8 1462.8 2541.6 1454.4 2542.7 1446.7C2543.8 1438.9 2543.5 1430.8 2541.7 1423.3C2539.8 1415.8 2536.4 1407.8 2531.7 1401.7C2526.9 1395.6 2520.3 1390.3 2513.3 1386.7C2506.4 1383.1 2497.8 1380.6 2490 1380C2482.2 1379.4 2473.9 1381.1 2466.7 1383.3C2459.4 1385.6 2450 1391.7 2446.7 1393.3L2446.7 1354Z" fill="#c8a682" stroke="none"/>
<path d="M2446.7 1361.7C2448.1 1361.4 2449.4 1359.7 2455 1360C2460.6 1360.3 2471.4 1361.4 2480 1363.3C2488.6 1365.3 2498.3 1368.1 2506.7 1371.7C2515 1375.3 2523.3 1379.7 2530 1385C2536.7 1390.3 2543.9 1400.3 2546.7 1403.3L2541.7 1423.3C2540 1419.7 2536.4 1407.8 2531.7 1401.7C2526.9 1395.6 2520.3 1390.3 2513.3 1386.7C2506.4 1383.1 2497.8 1380.6 2490 1380C2482.2 1379.4 2473.9 1381.1 2466.7 1383.3C2459.4 1385.6 2450 1391.7 2446.7 1393.3L2446.7 1361.7Z" fill="#edcfa8" stroke="none"/>
<path d="M1353.7 1633.7C1355.4 1630.2 1361.6 1619.1 1364.1 1612.9C1366.5 1606.8 1366 1602.1 1368.5 1596.6C1371 1591.2 1374.7 1585 1378.9 1580.3C1383.1 1575.7 1388.5 1571.5 1393.7 1568.5C1398.9 1565.5 1405 1563.7 1410 1562.6C1414.9 1561.5 1419.6 1562.1 1423.3 1561.8C1427 1561.6 1430.7 1561.2 1432.2 1561.1C1433.9 1563.1 1439.1 1568.7 1442.5 1572.9C1446 1577.1 1449.5 1581.8 1452.9 1586.3C1456.4 1590.7 1461.5 1597.4 1463.3 1599.6C1461.5 1598.4 1456.9 1594.3 1452.9 1592.2C1449 1590.1 1444.8 1588 1439.6 1587C1434.4 1586 1427.7 1585.7 1421.8 1586.3C1415.9 1586.9 1410 1588.5 1404 1590.7C1398.1 1592.9 1391.7 1595.6 1386.3 1599.6C1380.8 1603.5 1375.7 1609.2 1371.5 1614.4C1367.3 1619.6 1363.6 1625 1361.1 1630.7C1358.6 1636.4 1357.4 1645.5 1356.7 1648.5Z" fill="#edcfa8" stroke="#1c1008" stroke-width="1.4"/>
<path d="M1432.2 1561.1C1434.2 1560.4 1440.1 1557.8 1444 1557C1448 1556.1 1451.9 1555.6 1455.9 1556.1C1459.8 1556.5 1464 1557.6 1467.7 1559.6C1471.4 1561.6 1475.1 1564.7 1478.1 1568.2C1481 1571.7 1483.5 1575.6 1485.5 1580.3C1487.5 1585.1 1488.9 1591.2 1489.9 1596.6C1490.9 1602.1 1491.3 1608.2 1491.4 1612.9C1491.5 1617.6 1491.9 1622.8 1490.7 1624.8C1489.4 1626.7 1486.1 1626 1484 1624.8C1481.9 1623.5 1481.5 1621.6 1478.1 1617.4C1474.6 1613.2 1467.5 1604.8 1463.3 1599.6C1459.1 1594.4 1456.4 1590.7 1452.9 1586.3C1449.5 1581.8 1444.3 1575.2 1442.5 1572.9Z" fill="#fff" stroke="#1c1008" stroke-width="1.4"/>
<path d="M1814.2 1477.8C1811.5 1478 1803.6 1477 1797.5 1479.2C1791.4 1481.5 1783.5 1486 1777.8 1491C1772 1496 1766.9 1501.8 1762.8 1509.2C1758.6 1516.7 1755 1526.6 1752.8 1535.8C1750.5 1544.9 1749.5 1555.2 1749.5 1564C1749.5 1572.8 1750.8 1581 1752.8 1588.8C1754.7 1596.5 1757.3 1605 1761 1610.5C1764.7 1616 1769.3 1619 1775 1622C1780.7 1625 1788.5 1627.5 1795 1628.8C1801.5 1630 1813.3 1632 1813.8 1629.2C1814.2 1626.5 1802.1 1617.9 1797.5 1612C1792.9 1606.1 1789.3 1600.4 1786 1593.8C1782.7 1587.1 1779.5 1580 1777.8 1572.2C1776 1564.5 1775 1555.8 1775.2 1547.5C1775.5 1539.2 1776.9 1530 1779.2 1522.5C1781.6 1515 1785.1 1508.9 1789.2 1502.5C1793.4 1496.1 1801.8 1487.3 1804.2 1484.2Z" fill="#fff" stroke="#1c1008" stroke-width="1.4"/>
<path d="M1814.2 1481C1816.5 1481 1823.4 1482 1827.5 1481C1831.6 1480 1834.3 1476.4 1839 1474.8C1843.7 1473.1 1849.7 1471.3 1855.8 1471C1861.8 1470.7 1869.2 1471.4 1875.5 1472.8C1881.8 1474.1 1888.2 1476.5 1893.8 1479.2C1899.3 1482 1904.3 1485.1 1908.8 1489.2C1913.2 1493.4 1920.8 1502.9 1920.2 1504.2C1919.7 1505.6 1910.8 1499.2 1905.5 1497.5C1900.2 1495.8 1894.8 1494.5 1888.8 1494.2C1882.7 1494 1875.9 1494.3 1869 1496C1862.1 1497.7 1854.2 1500.4 1847.5 1504.2C1840.8 1508.1 1834.3 1513.3 1829 1519.2C1823.7 1525.2 1819 1532.8 1815.5 1540C1812 1547.2 1809.5 1555 1808 1562.5C1806.5 1570 1805.9 1577.5 1806.2 1585C1806.6 1592.5 1807.9 1600.4 1810 1607.5C1812.1 1614.6 1818.1 1623.9 1818.8 1627.5C1819.4 1631.1 1817.3 1631.8 1813.8 1629.2C1810.2 1626.7 1802.1 1617.9 1797.5 1612C1792.9 1606.1 1789.3 1600.4 1786 1593.8C1782.7 1587.1 1779.5 1580 1777.8 1572.2C1776 1564.5 1775 1555.8 1775.2 1547.5C1775.5 1539.2 1776.9 1530 1779.2 1522.5C1781.6 1515 1785.1 1508.9 1789.2 1502.5C1793.4 1496.1 1801.8 1487.3 1804.2 1484.2Z" fill="#edcfa8" stroke="#1c1008" stroke-width="1.4"/>
<path d="M450.7 1731.7C447.2 1732.2 436.8 1732.9 430 1735C423.2 1737.1 416.4 1739.8 410 1744C403.6 1748.2 396.9 1753.7 391.7 1760C386.4 1766.3 381.9 1773.9 378.3 1781.7C374.7 1789.4 371.8 1798.6 370 1806.7C368.2 1814.7 367.5 1822.2 367.7 1830C367.8 1837.8 368.7 1845.6 371 1853.3C373.3 1861.1 376.8 1869.3 381.7 1876.7C386.5 1884 392.5 1891.2 400 1897.3C407.5 1903.4 416.7 1909.4 426.7 1913.3C436.7 1917.2 448.3 1920.1 460 1920.7C471.7 1921.2 484.4 1919.6 496.7 1916.7C508.9 1913.8 521.1 1909.3 533.3 1903.3C545.6 1897.3 558.3 1889.3 570 1880.7C581.7 1872.1 592.8 1861.4 603.3 1851.7C613.9 1841.9 625 1830.7 633.3 1822.3C641.7 1814 650 1805.1 653.3 1801.7" fill="none" stroke="#1c1008" stroke-width="1.4" stroke-linecap="round" stroke-linejoin="round"/>
<path d="M450.7 1731.7C453.9 1731.6 463.4 1729.6 470 1731C476.6 1732.4 484.2 1735.7 490 1740C495.8 1744.3 501.1 1750 505 1756.7C508.9 1763.3 511.8 1772.2 513.3 1780C514.9 1787.8 515.2 1795.6 514.3 1803.3C513.5 1811.1 511.6 1819.3 508.3 1826.7C505.1 1834 500.3 1842.1 495 1847.3C489.7 1852.6 483.1 1856.1 476.7 1858.3C470.3 1860.6 463.3 1861.5 456.7 1860.7C450 1859.8 442.1 1857.1 436.7 1853.3C431.2 1849.6 426.1 1840.8 424 1838.3" fill="none" stroke="#1c1008" stroke-width="1.4" stroke-linecap="round" stroke-linejoin="round"/>
<path d="M450.7 1731.7C450.4 1734.7 450.6 1744.2 449.3 1750C448.1 1755.8 446.3 1761.6 443.3 1766.7C440.4 1771.8 435.4 1775.4 431.7 1780.7C427.9 1785.9 423.3 1791.8 420.7 1798.3C418.1 1804.9 416.2 1813.1 416 1820C415.8 1826.9 417 1834 419.3 1840C421.7 1846 425.2 1851.4 430 1856C434.8 1860.6 441.1 1864.6 448.3 1867.3C455.6 1870.1 463.6 1872.6 473.3 1872.3C483.1 1872.1 496.1 1869.3 506.7 1865.7C517.2 1862.1 524 1859.8 536.7 1850.7C549.4 1841.5 571.1 1822 582.9 1810.6C594.8 1799.2 600.6 1791.5 607.8 1782.4C615 1773.3 620.3 1764.7 626.1 1755.8C631.9 1747 639.9 1733.7 642.7 1729.3" fill="none" stroke="#1c1008" stroke-width="1.4" stroke-linecap="round" stroke-linejoin="round"/>
<path d="M642.7 1729.3C645.4 1724.9 653.5 1711.3 659.3 1702.8C665.1 1694.2 671.4 1685.3 677.5 1677.9C683.6 1670.4 691.1 1662.7 695.8 1658C700.5 1653.3 702.4 1652.4 705.7 1649.7C709 1646.9 711.8 1644.7 715.7 1641.4C719.5 1638.1 724.8 1632.8 728.9 1629.8C733.1 1626.7 738.6 1624.2 740.5 1623.1" fill="none" stroke="#1c1008" stroke-width="1.4" stroke-linecap="round" stroke-linejoin="round"/>
<path d="M740.5 1623.1C743.3 1621.5 750.2 1616.8 757.1 1613.2C764 1609.6 773.7 1604.6 782 1601.6C790.3 1598.5 798.6 1596.7 806.9 1594.9C815.2 1593.1 822.9 1591.8 831.8 1590.8C840.6 1589.8 849 1588.2 860 1589.1C870.9 1590 885 1594.4 897.5 1596.2C910 1598.1 924.6 1597.7 935 1600C945.4 1602.3 951.7 1605.8 960 1610C968.3 1614.2 976.7 1619.2 985 1625C993.3 1630.8 1001.7 1637.9 1010 1645C1018.3 1652.1 1026.7 1660 1035 1667.5C1043.3 1675 1051.7 1682.5 1060 1690C1068.3 1697.5 1076.7 1705.4 1085 1712.5C1093.3 1719.6 1101.7 1726.2 1110 1732.5C1118.3 1738.8 1126.7 1744.6 1135 1750C1143.3 1755.4 1151.7 1760.4 1160 1765C1168.3 1769.6 1176.7 1773.5 1185 1777.5C1193.3 1781.5 1201.7 1785.2 1210 1788.8C1218.3 1792.3 1226.7 1795.8 1235 1798.8C1243.3 1801.7 1251.7 1804.2 1260 1806.2C1268.3 1808.3 1276.7 1809.8 1285 1811.2C1293.3 1812.7 1301.7 1814.2 1310 1815C1318.3 1815.8 1326.7 1816.2 1335 1816.2C1343.3 1816.2 1351.7 1815.6 1360 1815C1368.3 1814.4 1377.3 1813.5 1385 1812.5C1392.7 1811.5 1402.5 1809.4 1406 1808.8" fill="none" stroke="#1c1008" stroke-width="1.4" stroke-linecap="round" stroke-linejoin="round"/>
<path d="M1330 1810.9C1335.5 1811 1352.1 1811.7 1363.2 1811.7C1374.2 1811.7 1386.4 1811.4 1396.4 1810.9C1406.3 1810.3 1414.1 1809.6 1422.9 1808.4C1431.7 1807.1 1440.6 1805.5 1449.4 1803.4C1458.3 1801.3 1467.7 1798.8 1476 1795.9C1484.3 1793 1491.7 1789.9 1499.2 1786C1506.7 1782.1 1514.1 1777.7 1520.8 1772.7C1527.4 1767.7 1533.5 1762.2 1539 1756.1C1544.6 1750 1549.5 1743.1 1554 1736.2C1558.4 1729.3 1562.2 1722.4 1565.6 1714.7C1568.9 1706.9 1571.7 1698.1 1573.9 1689.8C1576.1 1681.5 1577.7 1673.2 1578.8 1664.9C1579.9 1656.6 1579.8 1648.9 1580.5 1640C1581.2 1631.1 1583.3 1619.9 1583.2 1611.4C1583.2 1603 1582 1596.6 1580.3 1589.2C1578.5 1581.8 1576.1 1574.4 1572.9 1567C1569.6 1559.6 1565 1551 1561 1544.8C1557.1 1538.6 1551.1 1532.5 1549.2 1530" fill="none" stroke="#1c1008" stroke-width="1.4" stroke-linecap="round" stroke-linejoin="round"/>
<path d="M1330 1820.8C1335.5 1821 1352.7 1821.7 1363.2 1821.7C1373.7 1821.7 1383.6 1821.4 1393 1820.8C1402.4 1820.3 1410.7 1819.6 1419.6 1818.3C1428.4 1817.1 1437.3 1815.3 1446.1 1813.4C1455 1811.4 1463.8 1809.6 1472.7 1806.7C1481.5 1803.8 1490.9 1799.9 1499.2 1795.9C1507.5 1791.9 1515.2 1787.6 1522.4 1782.7C1529.6 1777.7 1536.3 1772.2 1542.3 1766.1C1548.4 1760 1554 1753.6 1558.9 1746.2C1563.9 1738.7 1568.3 1730.1 1572.2 1721.3C1576.1 1712.4 1579.7 1702.5 1582.2 1693.1C1584.6 1683.7 1586 1673.7 1587.1 1664.9C1588.2 1656 1588.5 1648.7 1588.8 1640C1589.1 1631.3 1589.5 1621.1 1589.1 1612.9C1588.8 1604.7 1588.4 1598.4 1586.5 1590.7C1584.6 1583.1 1581 1574.7 1577.6 1567C1574.1 1559.4 1569.7 1551 1565.7 1544.8C1561.8 1538.6 1555.9 1532.5 1553.9 1530" fill="none" stroke="#1c1008" stroke-width="1.4" stroke-linecap="round" stroke-linejoin="round"/>
<path d="M1330 1825.5C1335.5 1825.7 1352.7 1826.6 1363.2 1826.6C1373.7 1826.7 1383.6 1826.4 1393 1825.8C1402.4 1825.2 1410.7 1824.4 1419.6 1823.3C1428.4 1822.2 1437 1821.1 1446.1 1819.2C1455.2 1817.2 1465.2 1814.6 1474.3 1811.7C1483.5 1808.8 1492.6 1805.6 1500.9 1801.7C1509.2 1797.9 1516.6 1793.6 1524.1 1788.5C1531.6 1783.4 1539.3 1777.3 1545.7 1771.1C1552 1764.8 1557 1758.9 1562.2 1751.1C1567.5 1743.4 1573 1734 1577.2 1724.6C1581.3 1715.2 1584.5 1704.7 1587.1 1694.7C1589.8 1684.8 1591.7 1674 1592.9 1664.9C1594.2 1655.8 1594.4 1647.2 1594.6 1640C1594.8 1632.8 1594.7 1629 1594.3 1621.8C1593.9 1614.6 1594.2 1605.8 1592.1 1596.6C1590 1587.5 1585.4 1575.7 1581.7 1567C1578 1558.4 1573.8 1551 1569.9 1544.8C1565.9 1538.6 1560 1532.5 1558 1530" fill="none" stroke="#1c1008" stroke-width="1.4" stroke-linecap="round" stroke-linejoin="round"/>
<path d="M1335 1735C1330.8 1729.2 1316.2 1712.1 1310 1700C1303.8 1687.9 1300 1675 1297.5 1662.5C1295 1650 1294.4 1637.5 1295 1625C1295.6 1612.5 1297.9 1600 1301.2 1587.5C1304.6 1575 1309 1562.5 1315 1550C1321 1537.5 1329.2 1523.8 1337.5 1512.5C1345.8 1501.2 1354.6 1491.2 1365 1482.5C1375.4 1473.8 1388.3 1465.8 1400 1460C1411.7 1454.2 1423.3 1450.2 1435 1447.5C1446.7 1444.8 1458.3 1443.8 1470 1443.8C1481.7 1443.8 1493.3 1444.8 1505 1447.5C1516.7 1450.2 1532.5 1457.5 1540 1460C1547.5 1462.5 1544.2 1460.2 1550 1462.5C1555.8 1464.8 1566.9 1470.2 1575 1473.8C1583.1 1477.3 1591.2 1478.5 1598.8 1483.8C1606.2 1489 1613.8 1496.5 1620 1505C1626.2 1513.5 1632.1 1525.4 1636.2 1535C1640.4 1544.6 1643 1552.9 1645 1562.5C1647 1572.1 1647.6 1584.6 1648 1592.5C1648.4 1600.4 1648.4 1598.8 1647.5 1610C1646.6 1621.2 1645.4 1643.3 1642.5 1660C1639.6 1676.7 1635.4 1694.2 1630 1710C1624.6 1725.8 1616.9 1742.5 1610 1755C1603.1 1767.5 1592.3 1780 1588.8 1785" fill="none" stroke="#1c1008" stroke-width="1.4" stroke-linecap="round" stroke-linejoin="round"/>
<path d="M653.3 1801.7C653.6 1804.2 653.9 1810.8 655 1816.7C656.1 1822.5 657.8 1830.3 660 1836.7C662.2 1843.1 664.7 1848.9 668.3 1855C671.9 1861.1 676.4 1867.6 681.7 1873.3C686.9 1879.1 692.5 1884.4 700 1889.3C707.5 1894.2 717.2 1899.6 726.7 1902.7C736.1 1905.7 746.7 1907.4 756.7 1907.7C766.7 1907.9 776.7 1906.6 786.7 1904.3C796.7 1902.1 807.2 1898.8 816.7 1894.3C826.1 1889.9 835.6 1884.1 843.3 1877.7C851.1 1871.3 857.5 1863.9 863.3 1856C869.2 1848.1 874.9 1839.3 878.3 1830C881.8 1820.7 883.4 1809.4 884 1800C884.6 1790.6 883.7 1781.8 881.7 1773.3C879.6 1764.8 876.1 1756.3 871.7 1749C867.2 1741.7 860.3 1733.9 855 1729.3C849.7 1724.8 844.6 1722.9 840 1721.7C835.4 1720.4 829.4 1721.7 827.3 1721.7" fill="none" stroke="#1c1008" stroke-width="1.4" stroke-linecap="round" stroke-linejoin="round"/>
<path d="M1356.7 1648.5C1357.4 1645.5 1358.6 1636.4 1361.1 1630.7C1363.6 1625 1367.3 1619.6 1371.5 1614.4C1375.7 1609.2 1380.8 1603.5 1386.3 1599.6C1391.7 1595.6 1398.1 1592.9 1404 1590.7C1410 1588.5 1415.9 1586.9 1421.8 1586.3C1427.7 1585.7 1434.4 1586 1439.6 1587C1444.8 1588 1449 1590.1 1452.9 1592.2C1456.9 1594.3 1459.6 1596.1 1463.3 1599.6C1467 1603.1 1471.7 1608.2 1475.1 1612.9C1478.6 1617.6 1481.7 1622.8 1484 1627.7C1486.4 1632.7 1488.1 1637.6 1489.2 1642.5C1490.3 1647.5 1490.7 1652.7 1490.7 1657.4C1490.7 1662 1490.1 1666.2 1489.2 1670.7C1488.3 1675.1 1487.3 1679.1 1485.5 1684C1483.6 1688.9 1481.8 1694.6 1478.1 1700.3C1474.4 1706 1468.2 1713.1 1463.3 1718.1C1458.3 1723 1453.4 1726.7 1448.5 1729.9C1443.5 1733.1 1438.6 1735 1433.7 1737.3C1428.7 1739.7 1423.8 1742.1 1418.8 1744C1413.9 1745.8 1409 1747.3 1404 1748.4C1399.1 1749.5 1394.2 1750.4 1389.2 1750.6C1384.3 1750.9 1379.4 1750.6 1374.4 1749.9C1369.5 1749.2 1364.6 1747.8 1359.6 1746.2C1354.7 1744.6 1348.9 1742.2 1344.8 1740.3C1340.7 1738.4 1336.7 1735.8 1335 1734.9" fill="none" stroke="#1c1008" stroke-width="1.4" stroke-linecap="round" stroke-linejoin="round"/>
<path d="M1356.7 1648.5C1356.8 1650.9 1356.7 1658.3 1357.4 1663.3C1358.1 1668.2 1359.2 1673.4 1361.1 1678.1C1362.9 1682.8 1365.5 1687.5 1368.5 1691.4C1371.5 1695.4 1374.9 1699.2 1378.9 1701.8C1382.8 1704.4 1387.5 1706 1392.2 1707C1396.9 1707.9 1402.6 1706.8 1407 1707.7C1411.4 1708.6 1415.4 1709.9 1418.8 1712.1C1422.3 1714.4 1425.4 1717.8 1427.7 1721C1430.1 1724.2 1431.9 1728.7 1432.9 1731.4C1434 1734.1 1433.9 1736.3 1434.1 1737.3" fill="none" stroke="#1c1008" stroke-width="1.4" stroke-linecap="round" stroke-linejoin="round"/>
<path d="M1353.7 1624.8C1354.7 1620.8 1356.7 1608.5 1359.6 1601.1C1362.6 1593.7 1366.5 1586.5 1371.5 1580.3C1376.4 1574.2 1382.8 1568.4 1389.2 1564.1C1395.6 1559.7 1403.1 1556.7 1410 1554.4C1416.9 1552.2 1424.3 1551.5 1430.7 1550.7C1437.1 1550 1443 1549.7 1448.5 1550C1453.9 1550.2 1458.3 1550.6 1463.3 1552.2C1468.2 1553.8 1473.6 1556.4 1478.1 1559.6C1482.5 1562.8 1486.5 1567 1489.9 1571.5C1493.4 1575.9 1496.3 1580.8 1498.8 1586.3C1501.3 1591.7 1503.4 1598.1 1504.7 1604C1506.1 1610 1506.8 1615.9 1507 1621.8C1507.1 1627.7 1506.6 1633.9 1505.5 1639.6C1504.4 1645.3 1502.4 1650.7 1500.3 1655.9C1498.2 1661.1 1494.5 1667.2 1492.9 1670.7C1491.3 1674.1 1491 1675.6 1490.7 1676.6" fill="none" stroke="#1c1008" stroke-width="1.4" stroke-linecap="round" stroke-linejoin="round"/>
<path d="M1356.7 1626.3C1357.8 1622.3 1360.4 1609.7 1363.3 1602.6C1366.3 1595.4 1369.6 1589.1 1374.4 1583.3C1379.2 1577.5 1385.8 1572 1392.2 1567.8C1398.6 1563.6 1406.3 1560.4 1412.9 1558.1C1419.6 1555.9 1426.3 1555.2 1432.2 1554.4C1438.1 1553.7 1443.3 1553.3 1448.5 1553.7C1453.6 1554.1 1458.8 1554.9 1463.3 1556.7C1467.7 1558.4 1471.4 1561.1 1475.1 1564.1C1478.8 1567 1482.5 1570.2 1485.5 1574.4C1488.4 1578.6 1490.9 1584.3 1492.9 1589.2C1494.9 1594.2 1496.3 1598.6 1497.3 1604C1498.3 1609.5 1498.8 1615.9 1498.8 1621.8C1498.8 1627.7 1498.3 1633.9 1497.3 1639.6C1496.3 1645.3 1494 1651.9 1492.9 1655.9C1491.8 1659.8 1491 1662 1490.7 1663.3" fill="none" stroke="#1c1008" stroke-width="1.4" stroke-linecap="round" stroke-linejoin="round"/>
<path d="M1356.2 1620C1357.7 1615 1361 1600 1365 1590C1369 1580 1374.2 1569 1380 1560C1385.8 1551 1392.5 1543.3 1400 1536.2C1407.5 1529.2 1416.2 1522.5 1425 1517.5C1433.8 1512.5 1443.3 1508.8 1452.5 1506.2C1461.7 1503.8 1471.2 1502.7 1480 1502.5C1488.8 1502.3 1496.7 1502.9 1505 1505C1513.3 1507.1 1522.1 1510.4 1530 1515C1537.9 1519.6 1547.8 1530 1552.5 1532.5C1557.2 1535 1557.1 1530.4 1558 1530" fill="none" stroke="#1c1008" stroke-width="1.4" stroke-linecap="round" stroke-linejoin="round"/>
<path d="M1362.5 1622.5C1364.1 1617.5 1367.9 1602.3 1372 1592.5C1376.1 1582.7 1381.3 1572.3 1387 1563.8C1392.7 1555.2 1399.1 1547.9 1406.2 1541.2C1413.4 1534.6 1421.9 1528.3 1430 1523.8C1438.1 1519.2 1446.7 1516 1455 1513.8C1463.3 1511.5 1472.1 1510.6 1480 1510.5C1487.9 1510.4 1495 1511 1502.5 1513C1510 1515 1517.2 1519.7 1525 1522.5C1532.8 1525.3 1545.1 1528.8 1549.2 1530" fill="none" stroke="#1c1008" stroke-width="1.4" stroke-linecap="round" stroke-linejoin="round"/>
<path d="M761.7 1676.7C757.5 1680.6 743.6 1691.7 736.7 1700C729.7 1708.3 724.2 1717.2 720 1726.7C715.8 1736.1 713.1 1747.5 711.7 1756.7C710.3 1765.8 711.1 1773.3 711.7 1781.7C712.2 1790 712.8 1798.6 715 1806.7C717.2 1814.7 720.8 1823.1 725 1830C729.2 1836.9 734.2 1843.3 740 1848.3C745.8 1853.3 753.1 1857.5 760 1860C766.9 1862.5 775 1863.2 781.7 1863.3C788.3 1863.5 796.9 1861.2 800 1860.8" fill="none" stroke="#1c1008" stroke-width="1.4" stroke-linecap="round" stroke-linejoin="round"/>
<path d="M748.3 1736.7C750.3 1734.4 755.8 1727.5 760 1723.3C764.2 1719.2 768.3 1714.7 773.3 1711.7C778.3 1708.6 786.1 1707.2 790 1705C793.9 1702.8 793.9 1699.7 796.7 1698.3C799.4 1696.9 802.2 1696.1 806.7 1696.7C811.1 1697.2 817.8 1698.9 823.3 1701.7C828.9 1704.4 834.7 1708.9 840 1713.3C845.3 1717.8 852.5 1725.8 855 1728.3" fill="none" stroke="#1c1008" stroke-width="1.4" stroke-linecap="round" stroke-linejoin="round"/>
<path d="M701.7 1806.7C701.7 1802.5 701.4 1790 701.7 1781.7C701.9 1773.3 701.7 1766.4 703.3 1756.7C705 1746.9 707.2 1733.9 711.7 1723.3C716.1 1712.8 722.5 1702.5 730 1693.3C737.5 1684.2 746.7 1675.3 756.7 1668.3C766.7 1661.4 778.9 1655.7 790 1651.7C801.1 1647.6 812.2 1645.3 823.3 1644C834.4 1642.7 845.6 1643 856.7 1644C867.8 1645 878.9 1647.1 890 1650C901.1 1652.9 912.2 1656.7 923.3 1661.7C934.4 1666.7 945.6 1673.1 956.7 1680C967.8 1686.9 982.1 1697.5 990 1703.3C997.9 1709.2 998.6 1712.2 1004 1715C1009.4 1717.8 1014 1713.8 1022.5 1720C1031 1726.2 1045.8 1743.3 1055 1752.5C1064.2 1761.7 1073.8 1771.2 1077.5 1775" fill="none" stroke="#1c1008" stroke-width="1.4" stroke-linecap="round" stroke-linejoin="round"/>
<path d="M709 1781.7C709.4 1777.5 709.8 1765.8 711.7 1756.7C713.5 1747.5 715.8 1736.1 720 1726.7C724.2 1717.2 729.7 1708.3 736.7 1700C743.6 1691.7 752.2 1683.3 761.7 1676.7C771.1 1670 783.1 1663.9 793.3 1660C803.6 1656.1 812.8 1654.3 823.3 1653.3C833.9 1652.3 845.6 1652.8 856.7 1654C867.8 1655.2 878.9 1657.4 890 1660.7C901.1 1663.9 912.2 1668.2 923.3 1673.3C934.4 1678.5 945.6 1684.7 956.7 1691.7C967.8 1698.6 982.1 1709.2 990 1715C997.9 1720.8 998.6 1724.2 1004 1726.7C1009.4 1729.2 1014 1724.9 1022.5 1730C1031 1735.1 1045.8 1750 1055 1757.5C1064.2 1765 1073.8 1772.1 1077.5 1775" fill="none" stroke="#1c1008" stroke-width="1.4" stroke-linecap="round" stroke-linejoin="round"/>
<path d="M1684.2 1726.2C1682.7 1724.4 1678.4 1720.6 1675 1715C1671.6 1709.4 1666.9 1700.4 1663.8 1692.5C1660.6 1684.6 1658.3 1677.1 1656.2 1667.5C1654.2 1657.9 1652.4 1646.7 1651.2 1635C1650.1 1623.3 1648.3 1613.5 1649.5 1597.5C1650.7 1581.5 1656.2 1554.3 1658.2 1539.1C1660.3 1523.8 1659.4 1517 1661.6 1505.9C1663.8 1494.8 1667.1 1483.2 1671.5 1472.7C1675.9 1462.2 1681.7 1452 1688.1 1442.9C1694.5 1433.7 1701.7 1425.4 1709.7 1418C1717.7 1410.5 1726.8 1403.9 1736.2 1398.1C1745.6 1392.3 1755.6 1387.3 1766.1 1383.1C1776.6 1379 1788.2 1375.5 1799.3 1373.2C1810.3 1370.8 1821.4 1369.6 1832.4 1369C1843.5 1368.5 1855.1 1368.6 1865.6 1369.9C1876.1 1371.1 1886.1 1373.5 1895.5 1376.5C1904.9 1379.5 1913.4 1383.1 1922 1388.1C1930.6 1393.1 1939.4 1399.7 1946.9 1406.4C1954.4 1413 1961 1420.2 1966.8 1427.9C1972.6 1435.7 1977.6 1444 1981.7 1452.8C1985.9 1461.7 1989.5 1472.2 1991.7 1481C1993.9 1489.9 1994.7 1497.6 1995 1505.9C1995.3 1514.2 1994.7 1522.5 1993.4 1530.8C1992 1539.1 1988.9 1548.7 1986.7 1555.7C1984.5 1562.6 1980.4 1569.7 1980.1 1572.2C1979.7 1574.8 1983.8 1571.4 1984.5 1571.2" fill="none" stroke="#1c1008" stroke-width="1.4" stroke-linecap="round" stroke-linejoin="round"/>
<path d="M1934.5 1514.2C1934.3 1511.4 1934.6 1503.7 1933.6 1497.6C1932.7 1491.5 1931.4 1484 1928.7 1477.7C1925.9 1471.3 1922 1465 1917 1459.4C1912.1 1453.9 1905.4 1448.7 1898.8 1444.5C1892.2 1440.4 1885 1437 1877.2 1434.6C1869.5 1432.1 1860.9 1430.4 1852.3 1429.6C1843.8 1428.8 1834.6 1428.5 1825.8 1429.6C1817 1430.7 1808.1 1432.9 1799.3 1436.2C1790.4 1439.5 1781 1444 1772.7 1449.5C1764.4 1455 1756.4 1461.9 1749.5 1469.4C1742.6 1476.9 1736.5 1485.4 1731.2 1494.3C1726 1503.1 1721.6 1512.3 1718 1522.5C1714.4 1532.7 1711.6 1544.6 1709.7 1555.7C1707.7 1566.7 1706.6 1584 1706.4 1588.8C1706.1 1593.7 1707.1 1580 1708.3 1584.9C1709.4 1589.8 1710.8 1607.8 1713.3 1618.1C1715.8 1628.3 1719.1 1637.1 1723.2 1646.3C1727.4 1655.4 1732.3 1664.8 1738.2 1672.8C1744 1680.8 1750.6 1688.4 1758.1 1694.4C1765.5 1700.3 1774.7 1705 1782.9 1708.5C1791.2 1711.9 1799.5 1713.7 1807.8 1715.1C1816.1 1716.5 1824.4 1716.9 1832.7 1716.8C1841 1716.6 1849.3 1715.7 1857.6 1714.3C1865.9 1712.9 1874.2 1710.8 1882.5 1708.5C1890.8 1706.1 1899.1 1703.6 1907.4 1700.2C1915.7 1696.7 1924 1692.3 1932.2 1687.7C1940.5 1683.2 1948.8 1678.3 1957.1 1672.8C1965.4 1667.3 1973.7 1660.9 1982 1654.6C1990.3 1648.2 1998.6 1641.3 2006.9 1634.7C2015.2 1628 2022.9 1621.7 2031.8 1614.7C2040.6 1607.8 2047 1603 2060 1593.2C2073 1583.3 2093.7 1570.2 2109.7 1555.7C2125.7 1541.1 2140.1 1523.6 2156.1 1505.9C2172.2 1488.2 2192.1 1465 2205.9 1449.5C2219.7 1434 2228 1425.7 2239.1 1413C2250.1 1400.3 2262.3 1385.3 2272.2 1373.2C2282.2 1361 2294.4 1345.5 2298.8 1340" fill="none" stroke="#1c1008" stroke-width="1.4" stroke-linecap="round" stroke-linejoin="round"/>
<path d="M1705.8 1588.2C1706.6 1594 1708.3 1612.3 1710.8 1623C1713.3 1633.8 1716.6 1643.5 1720.7 1652.9C1724.9 1662.3 1729.7 1671.3 1735.7 1679.4C1741.6 1687.6 1749.1 1695.6 1756.4 1701.8C1763.7 1708.1 1771.1 1713 1779.6 1716.8C1788.2 1720.5 1798.2 1722.7 1807.8 1724.2C1817.5 1725.8 1828 1726.2 1837.7 1725.9C1847.4 1725.6 1857 1724.1 1865.9 1722.6C1874.7 1721.1 1882.5 1719.1 1890.8 1716.8C1899.1 1714.4 1907.4 1711.9 1915.7 1708.5C1924 1705 1932.2 1700.6 1940.5 1696C1948.8 1691.5 1957.1 1686.6 1965.4 1681.1C1973.7 1675.6 1982 1669.2 1990.3 1662.9C1998.6 1656.5 2006.9 1649.6 2015.2 1642.9C2023.5 1636.3 2032.6 1629.1 2040.1 1623C2047.5 1617 2056.7 1609.2 2060 1606.4" fill="none" stroke="#1c1008" stroke-width="1.4" stroke-linecap="round" stroke-linejoin="round"/>
<path d="M1829 1519.2C1832.1 1516.8 1840.8 1508.1 1847.5 1504.2C1854.2 1500.4 1862.1 1497.7 1869 1496C1875.9 1494.3 1882.7 1494 1888.8 1494.2C1894.8 1494.5 1900.2 1495.8 1905.5 1497.5C1910.8 1499.2 1915.8 1501.2 1920.2 1504.2C1924.7 1507.3 1928.7 1511.3 1932 1515.8C1935.3 1520.2 1938.3 1525.5 1940.2 1530.8C1942.2 1536 1943.2 1541.1 1943.5 1547.5C1943.8 1553.9 1943.4 1562.1 1942 1569C1940.6 1575.9 1936.4 1585.5 1935.2 1588.8" fill="none" stroke="#1c1008" stroke-width="1.4" stroke-linecap="round" stroke-linejoin="round"/>
<path d="M1935.2 1588.8C1933.1 1591.5 1927.5 1600.6 1922.5 1605C1917.5 1609.4 1910.8 1611.9 1905 1615C1899.2 1618.1 1892.5 1619.9 1887.5 1623.8C1882.5 1627.6 1878.1 1633 1875 1638C1871.9 1643 1869.8 1651.1 1868.8 1653.8" fill="none" stroke="#1c1008" stroke-width="1.4" stroke-linecap="round" stroke-linejoin="round"/>
<path d="M1829 1519.2C1826.8 1522.7 1819 1532.8 1815.5 1540C1812 1547.2 1809.5 1555 1808 1562.5C1806.5 1570 1805.9 1577.5 1806.2 1585C1806.6 1592.5 1807.9 1600.4 1810 1607.5C1812.1 1614.6 1815 1621.7 1818.8 1627.5C1822.5 1633.3 1827.3 1638.5 1832.5 1642.5C1837.7 1646.5 1844.4 1649.9 1850 1651.8C1855.6 1653.6 1863.5 1653.4 1866.2 1653.8" fill="none" stroke="#1c1008" stroke-width="1.4" stroke-linecap="round" stroke-linejoin="round"/>
<path d="M1866.2 1653.8C1869.4 1653 1878.5 1651.6 1885 1649.5C1891.5 1647.4 1897.5 1645.1 1905 1641.2C1912.5 1637.4 1922.1 1632.1 1930 1626.2C1937.9 1620.4 1945.8 1612.6 1952.5 1606.2C1959.2 1599.9 1964.7 1593.8 1970 1588C1975.3 1582.2 1982.1 1574 1984.5 1571.2" fill="none" stroke="#1c1008" stroke-width="1.4" stroke-linecap="round" stroke-linejoin="round"/>
<path d="M2061.6 1620C2071.8 1608.7 2104.4 1572.5 2122.9 1552.3C2141.5 1532.2 2156.1 1517.2 2172.7 1499.3C2189.3 1481.3 2208.7 1460 2222.5 1444.5C2236.3 1429 2244.6 1419.1 2255.7 1406.4C2266.7 1393.6 2279.4 1379.3 2288.8 1368.2C2298.2 1357.1 2304.6 1348 2312.1 1340C2319.5 1332 2327 1326 2333.3 1320C2339.7 1314 2344.4 1308.9 2350 1304C2355.6 1299.1 2361.1 1294.6 2366.7 1290.7C2372.2 1286.8 2378.3 1282.6 2383.3 1280.7C2388.3 1278.8 2394.4 1279.6 2396.7 1279.3" fill="none" stroke="#1c1008" stroke-width="1.4" stroke-linecap="round" stroke-linejoin="round"/>
<path d="M2396.7 1280C2400.6 1277.9 2411.7 1270.7 2420 1267.3C2428.3 1264 2437.8 1261.9 2446.7 1260C2455.6 1258.1 2464.4 1257 2473.3 1256C2482.2 1255 2490 1253.6 2500 1254C2510 1254.4 2523.3 1256.2 2533.3 1258.3C2543.3 1260.4 2551.1 1262.8 2560 1266.7C2568.9 1270.6 2577.8 1275.8 2586.7 1281.7C2595.6 1287.5 2604.4 1294.4 2613.3 1301.7C2622.2 1308.9 2631.1 1317.2 2640 1325C2648.9 1332.8 2657.8 1341.4 2666.7 1348.3C2675.6 1355.3 2684.4 1361.7 2693.3 1366.7C2702.2 1371.7 2711.1 1375.6 2720 1378.3C2728.9 1381.1 2737.8 1382.8 2746.7 1383.3C2755.6 1383.9 2765.6 1382.9 2773.3 1381.7C2781.1 1380.4 2787.2 1377.7 2793.3 1375.7C2799.4 1373.6 2807.2 1370.4 2810 1369.3" fill="none" stroke="#1c1008" stroke-width="1.4" stroke-linecap="round" stroke-linejoin="round"/>
<path d="M2824 1242.7C2824.3 1245.8 2823.9 1256 2826 1261.7C2828.1 1267.3 2832.1 1271.4 2836.7 1276.7C2841.2 1281.9 2849 1287.2 2853.3 1293.3C2857.7 1299.4 2861.4 1306.1 2862.7 1313.3C2863.9 1320.6 2862.8 1329.6 2860.7 1336.7C2858.6 1343.8 2854.6 1350.9 2850 1356C2845.4 1361.1 2840 1365.1 2833.3 1367.3C2826.7 1369.6 2813.9 1369 2810 1369.3" fill="none" stroke="#1c1008" stroke-width="1.4" stroke-linecap="round" stroke-linejoin="round"/>
<path d="M2824 1242.7C2820.6 1243.1 2810.1 1242.4 2803.3 1245C2796.6 1247.6 2788.9 1252.5 2783.3 1258.3C2777.8 1264.2 2772.9 1271.9 2770 1280C2767.1 1288.1 2765.7 1297.8 2766 1306.7C2766.3 1315.6 2768.2 1325.3 2771.7 1333.3C2775.1 1341.4 2780.3 1349 2786.7 1355C2793.1 1361 2806.1 1366.9 2810 1369.3" fill="none" stroke="#1c1008" stroke-width="1.4" stroke-linecap="round" stroke-linejoin="round"/>
<path d="M2824 1242.7C2827.8 1243.3 2839.6 1244.1 2846.7 1246.7C2853.8 1249.3 2860.6 1253.6 2866.7 1258.3C2872.8 1263.1 2878.3 1268.6 2883.3 1275C2888.3 1281.4 2893.2 1289.2 2896.7 1296.7C2900.1 1304.2 2902.9 1311.7 2904 1320C2905.1 1328.3 2904.8 1337.8 2903.3 1346.7C2901.8 1355.6 2898.6 1365 2895 1373.3C2891.4 1381.7 2886.9 1389.4 2881.7 1396.7C2876.4 1403.9 2870.3 1410.6 2863.3 1416.7C2856.4 1422.8 2848.3 1428.9 2840 1433.3C2831.7 1437.8 2822.8 1440.8 2813.3 1443.3C2803.9 1445.8 2793.3 1447.8 2783.3 1448.3C2773.3 1448.9 2762.8 1448.1 2753.3 1446.7C2743.9 1445.3 2735.6 1443.1 2726.7 1440C2717.8 1436.9 2708.3 1432.8 2700 1428.3C2691.7 1423.9 2683.9 1418.1 2676.7 1413.3C2669.4 1408.6 2662.8 1403.2 2656.7 1400C2650.6 1396.8 2644.7 1394.8 2640 1394C2635.3 1393.2 2630.3 1394.8 2628.3 1395" fill="none" stroke="#1c1008" stroke-width="1.4" stroke-linecap="round" stroke-linejoin="round"/>
<path d="M2628.3 1395C2628.3 1399.2 2629.2 1411.4 2628.3 1420C2627.5 1428.6 2626.1 1437.8 2623.3 1446.7C2620.6 1455.6 2616.7 1464.4 2611.7 1473.3C2606.7 1482.2 2600.3 1491.9 2593.3 1500C2586.4 1508.1 2578.9 1515.3 2570 1521.7C2561.1 1528.1 2550.6 1534.2 2540 1538.3C2529.4 1542.5 2517.8 1545.6 2506.7 1546.7C2495.6 1547.8 2483.9 1546.9 2473.3 1545C2462.8 1543.1 2452.2 1539.4 2443.3 1535C2434.4 1530.6 2426.2 1524.7 2420 1518.3C2413.8 1511.9 2409.4 1504.7 2406 1496.7C2402.6 1488.6 2400.4 1478.9 2399.3 1470C2398.2 1461.1 2398.4 1452.2 2399.3 1443.3C2400.3 1434.4 2402.1 1424.4 2405 1416.7C2407.9 1408.9 2411.9 1401.9 2416.7 1396.7C2421.4 1391.4 2428.3 1385.6 2433.3 1385C2438.3 1384.4 2444.4 1391.9 2446.7 1393.3" fill="none" stroke="#1c1008" stroke-width="1.4" stroke-linecap="round" stroke-linejoin="round"/>
<path d="M2446.7 1393.3C2448.4 1394.2 2455 1395.3 2457.3 1398.3C2459.7 1401.4 2461.2 1406.8 2460.7 1411.7C2460.1 1416.5 2456.8 1422.3 2454 1427.3C2451.2 1432.3 2446.4 1436.2 2444 1441.7C2441.6 1447.1 2439.7 1453.6 2439.3 1460C2438.9 1466.4 2439.4 1473.6 2441.7 1480C2443.9 1486.4 2447.4 1493.5 2452.7 1498.3C2457.9 1503.2 2466.8 1507.3 2473.3 1509C2479.8 1510.7 2488.6 1508.4 2491.7 1508.3" fill="none" stroke="#1c1008" stroke-width="1.4" stroke-linecap="round" stroke-linejoin="round"/>
<path d="M2446.7 1393.3C2450 1391.7 2459.4 1385.6 2466.7 1383.3C2473.9 1381.1 2482.2 1379.4 2490 1380C2497.8 1380.6 2506.4 1383.1 2513.3 1386.7C2520.3 1390.3 2526.9 1395.6 2531.7 1401.7C2536.4 1407.8 2539.8 1415.8 2541.7 1423.3C2543.5 1430.8 2543.8 1438.9 2542.7 1446.7C2541.6 1454.4 2538.8 1462.8 2535 1470C2531.2 1477.2 2525.8 1484.2 2520 1490C2514.2 1495.8 2504.7 1501.9 2500 1505C2495.3 1508.1 2493.1 1507.8 2491.7 1508.3" fill="none" stroke="#1c1008" stroke-width="1.4" stroke-linecap="round" stroke-linejoin="round"/>
<path d="M2340 1343.3C2347.2 1340 2368.9 1328.6 2383.3 1323.3C2397.8 1318.1 2412.8 1314.2 2426.7 1311.7C2440.6 1309.2 2454.4 1307.8 2466.7 1308.3C2478.9 1308.9 2489.4 1311.4 2500 1315C2510.6 1318.6 2521.1 1324.2 2530 1330C2538.9 1335.8 2546.7 1342.2 2553.3 1350C2560 1357.8 2565.8 1367.2 2570 1376.7C2574.2 1386.1 2576.8 1396.7 2578.3 1406.7C2579.9 1416.7 2580.4 1426.7 2579.3 1436.7C2578.2 1446.7 2575.4 1457.8 2571.7 1466.7C2567.9 1475.6 2563.1 1483.3 2556.7 1490C2550.3 1496.7 2541.7 1502.8 2533.3 1506.7C2525 1510.6 2511.1 1512.2 2506.7 1513.3" fill="none" stroke="#1c1008" stroke-width="1.4" stroke-linecap="round" stroke-linejoin="round"/>
<path d="M2446.7 1354C2450 1347.8 2457.8 1321.9 2466.7 1316.7C2475.6 1311.4 2490 1319 2500 1322.3C2510 1325.7 2518.6 1331.2 2526.7 1336.7C2534.7 1342.1 2542.2 1347.9 2548.3 1355C2554.4 1362.1 2559.6 1370.4 2563.3 1379.3C2567.1 1388.2 2569.6 1398.8 2571 1408.3C2572.4 1417.9 2573 1427.2 2572 1436.7C2571 1446.1 2568.6 1456.8 2565 1465C2561.4 1473.2 2556.5 1480.1 2550.7 1486C2544.8 1491.9 2537.3 1497.3 2530 1500.7C2522.7 1504 2513.1 1504.7 2506.7 1506C2500.3 1507.3 2494.2 1507.9 2491.7 1508.3" fill="none" stroke="#1c1008" stroke-width="1.4" stroke-linecap="round" stroke-linejoin="round"/>
<path d="M2446.7 1361.7C2448.1 1361.4 2449.4 1359.7 2455 1360C2460.6 1360.3 2471.4 1361.4 2480 1363.3C2488.6 1365.3 2498.3 1368.1 2506.7 1371.7C2515 1375.3 2523.3 1379.7 2530 1385C2536.7 1390.3 2543.9 1400.3 2546.7 1403.3" fill="none" stroke="#1c1008" stroke-width="1.4" stroke-linecap="round" stroke-linejoin="round"/>
<path d="M1598.8 1482.5C1596 1477.9 1587.3 1463.8 1582.5 1455C1577.7 1446.2 1572.8 1438.3 1570 1430C1567.2 1421.7 1565.7 1412.9 1565.5 1405C1565.3 1397.1 1566.3 1389.6 1568.8 1382.5C1571.2 1375.4 1575.2 1368.1 1580 1362.5C1584.8 1356.9 1591.2 1352.2 1597.5 1348.8C1603.8 1345.3 1610.8 1343 1617.5 1342C1624.2 1341 1631.2 1341.2 1637.5 1342.5C1643.8 1343.8 1649.6 1346.5 1655 1350C1660.4 1353.5 1665.8 1358.3 1670 1363.8C1674.2 1369.2 1677.7 1375.6 1680 1382.5C1682.3 1389.4 1683.5 1397.9 1683.8 1405C1684 1412.1 1682.7 1418.8 1681.2 1425C1679.8 1431.2 1677.5 1435.8 1675 1442.5C1672.5 1449.2 1668.8 1458.8 1666.2 1465C1663.8 1471.2 1661 1477.5 1660 1480" fill="none" stroke="#1c1008" stroke-width="1.4" stroke-linecap="round" stroke-linejoin="round"/>
<path d="M1600 1462.5C1597.9 1458.8 1590.5 1447.1 1587.5 1440C1584.5 1432.9 1582.6 1426.7 1582 1420C1581.4 1413.3 1582 1406.2 1583.8 1400C1585.5 1393.8 1588.5 1387.3 1592.5 1382.5C1596.5 1377.7 1602.1 1373.8 1607.5 1371.2C1612.9 1368.8 1619.2 1367.5 1625 1367.5C1630.8 1367.5 1637.1 1368.8 1642.5 1371.2C1647.9 1373.8 1653.5 1377.7 1657.5 1382.5C1661.5 1387.3 1664.5 1393.8 1666.2 1400C1668 1406.2 1668.4 1413.3 1668 1420C1667.6 1426.7 1665.5 1434.2 1663.8 1440C1662 1445.8 1658.5 1452.5 1657.5 1455" fill="none" stroke="#1c1008" stroke-width="1.4" stroke-linecap="round" stroke-linejoin="round"/>
<path d="M1596.2 1455C1595.2 1451.7 1591.2 1441.7 1590 1435C1588.8 1428.3 1588.1 1421.2 1588.8 1415C1589.4 1408.8 1591 1402.7 1593.8 1397.5C1596.5 1392.3 1600.6 1387.3 1605 1383.8C1609.4 1380.2 1615 1377.5 1620 1376.2C1625 1375 1630.2 1375 1635 1376.2C1639.8 1377.5 1644.8 1380.2 1648.8 1383.8C1652.7 1387.3 1656.5 1392.3 1658.8 1397.5C1661 1402.7 1662.3 1408.8 1662.5 1415C1662.7 1421.2 1661 1428.8 1660 1435C1659 1441.2 1656.9 1449.6 1656.2 1452.5" fill="none" stroke="#1c1008" stroke-width="1.4" stroke-linecap="round" stroke-linejoin="round"/>
<path d="M1598.8 1482.5C1602.3 1486.2 1613.8 1496.2 1620 1505C1626.2 1513.8 1632.1 1525.4 1636.2 1535C1640.4 1544.6 1643 1552.9 1645 1562.5C1647 1572.1 1647.5 1587.5 1648 1592.5" fill="none" stroke="#1c1008" stroke-width="1.4" stroke-linecap="round" stroke-linejoin="round"/>
<path d="M1660 1480C1659.2 1486.2 1656.8 1505 1655.5 1517.5C1654.2 1530 1653 1542.5 1652 1555C1651 1567.5 1649.9 1586.2 1649.5 1592.5" fill="none" stroke="#1c1008" stroke-width="1.4" stroke-linecap="round" stroke-linejoin="round"/>
<path d="M1652.5 1722.5C1653.8 1725.4 1657.9 1734.2 1660 1740C1662.1 1745.8 1664.6 1752.1 1665 1757.5C1665.4 1762.9 1664.2 1767.9 1662.5 1772.5C1660.8 1777.1 1658.3 1781.7 1655 1785C1651.7 1788.3 1646.7 1791 1642.5 1792.5C1638.3 1794 1634 1794.6 1630 1793.8C1626 1792.9 1621.9 1790.2 1618.8 1787.5C1615.6 1784.8 1612.9 1781.2 1611.2 1777.5C1609.6 1773.8 1608.5 1769.2 1608.8 1765C1609 1760.8 1611.9 1754.6 1612.5 1752.5" fill="none" stroke="#1c1008" stroke-width="1.4" stroke-linecap="round" stroke-linejoin="round"/>
<path d="M1655 1730C1655.8 1732.5 1659 1740 1660 1745C1661 1750 1661.7 1755.4 1661.2 1760C1660.8 1764.6 1659.4 1768.8 1657.5 1772.5C1655.6 1776.2 1652.9 1780.2 1650 1782.5C1647.1 1784.8 1643.3 1785.6 1640 1786.2C1636.7 1786.9 1633.1 1787.1 1630 1786.2C1626.9 1785.4 1623.7 1783.5 1621.2 1781.2C1618.8 1779 1616.6 1775.6 1615.5 1772.5C1614.4 1769.4 1614.2 1765.8 1614.5 1762.5C1614.8 1759.2 1617 1754.2 1617.5 1752.5" fill="none" stroke="#1c1008" stroke-width="1.4" stroke-linecap="round" stroke-linejoin="round"/>
<path d="M836.7 1723.3C835 1724.7 828.9 1728.3 826.7 1731.7C824.4 1735 823.3 1739.4 823.3 1743.3C823.3 1747.2 824.4 1751.4 826.7 1755C828.9 1758.6 833.6 1761.4 836.7 1765C839.7 1768.6 842.9 1772.5 845 1776.7C847.1 1780.8 848.6 1785 849.2 1790C849.7 1795 849.6 1801.1 848.3 1806.7C847.1 1812.2 845 1818.3 841.7 1823.3C838.3 1828.3 833.6 1833.1 828.3 1836.7C823.1 1840.3 816.4 1843.3 810 1845C803.6 1846.7 796.1 1847.2 790 1846.7C783.9 1846.1 778.3 1844.4 773.3 1841.7C768.3 1838.9 763.9 1835.8 760 1830C756.1 1824.2 752.1 1814.7 750 1806.7C747.9 1798.6 747.2 1789.4 747.5 1781.7C747.8 1773.9 749.3 1765.6 751.7 1760C754 1754.4 756.7 1753.1 761.7 1748.3C766.7 1743.6 774.2 1736 781.7 1731.7C789.2 1727.4 798.3 1724.2 806.7 1722.5C815 1720.8 827.5 1721.8 831.7 1721.7Z" fill="none" stroke="#1c1008" stroke-width="1.4" stroke-linecap="round" stroke-linejoin="round"/>
</g>
<defs><clipPath id="clipM"><path d="M688.1 787.8L688.3 794.9L689.6 805.2L693.2 819.3L698.4 832.4L706.5 846.7L713.8 851.6L723.8 856.6L763.2 870.6L770.8 872.6L782.7 874.1L799.2 873.5L816.9 870.1L825.1 867.6L833.1 864.4L848.7 856.1L864.3 845.2L880.2 831.7L897.7 814L899.4 813.3L900.6 813.6L901.6 814.6L906.5 825.9L912.6 836.9L924.7 847.2L933.8 851.9L975.5 866.8L989.5 870L1000.4 871L1007.7 871L1018.3 869.8L1029.1 867.3L1040 863.4L1050 858.3L1059.3 851.8L1067.7 843.9L1075.1 834.8L1081.2 824.6L1086.2 813.4L1089.4 801.8L1091.1 786.2L1090.1 772L1087.8 761.9L1085.5 755.2L1079.1 742.2L1076.7 739.4L1065.3 731.5L1056.8 727.4L1047.4 723.9L1046.6 722.7L1046.7 721.1L1049.8 717.4L1050.7 715.7L1050.6 714.1L1049.8 712.3L1041.6 707.6L1029 702.9L1027.7 701.2L1028 699.4L1030.4 696.8L1035.8 692.9L1040.8 690.3L1051.8 686.5L1063.7 684.9L1071 687.7L1079.3 688.2L1083.4 690.6L1133.7 730.6L1172.6 759.1L1209.4 787.9L1242.5 809.7L1254.5 816.4L1266.5 822.1L1290.5 831.5L1340.1 848.9L1352.1 852.3L1364.1 854.9L1400.9 861.1L1416.2 862.9L1427.8 863L1439.3 862.3L1459.1 859.4L1474.9 855.9L1490.7 851.2L1506.4 845.3L1522 837.9L1533.9 831.2L1549.8 820.6L1562.4 811.2L1578.2 798.1L1581.9 798.7L1620.3 812.2L1629.1 812.8L1636.2 810.9L1640 808.8L1645.2 804.9L1653 796.1L1655.5 792L1657.3 787.5L1660.3 775.5L1662.2 774.1L1663.6 774.2L1674.7 778.9L1723.1 795.7L1731.9 797.6L1740.9 798.8L1758.9 800L1770.7 799.3L1782.4 797.8L1791.1 796.1L1805.9 792.1L1829.9 783.7L1845.5 776.7L1857.3 770.6L1876.8 759.1L1896.5 745.6L1911.8 733.9L1931.4 717.8L1980.1 681.2L1995.5 667.5L2011.2 649.6L2024.3 633L2035.3 617.9L2046 601.3L2079 544.7L2090.1 528.1L2097.5 518.5L2104.9 509.9L2112.4 502.7L2119.1 497.3L2120.5 497.1L2124.8 498.3L2131.1 500.9L2133.3 501.3L2136.8 504.9L2136.7 506.5L2131.6 517.1L2129.1 526.4L2127.9 536.4L2128 547.2L2130.1 561.1L2133 571.7L2141.5 591.8L2144.6 596.8L2155.3 605.3L2164 610.3L2170.3 613L2209.8 626.8L2217.1 629.1L2228.5 631.2L2236.6 631.7L2244.3 631.2L2252.2 629.8L2260.2 627.5L2267.6 624.4L2274.9 620.6L2287.9 611.3L2293.6 606.1L2301.1 597.4L2305.8 590.8L2311.9 580.4L2316.8 570.1L2319.5 563.1L2322.4 552.8L2323.6 545.7L2324.6 535.3L2324.6 523.7L2325.2 522.5L2326.3 521.8L2328.5 522.1L2338.4 529.4L2344.8 533.2L2361.1 541.2L2405.1 556.7L2418.3 559.7L2429.1 560.9L2436.4 561.1L2450.9 559.4L2467.6 554.8L2474 552.1L2479.9 548.7L2490.8 540.3L2503 528.2L2509.2 519.8L2515.1 508L2519.6 494.4L2522.3 480.4L2523.1 466.4L2522.8 459.8L2521.5 450.8L2518.3 438.5L2514.6 429L2509.8 420.5L2506 415.2L2504.2 413.7L2496.7 408.6L2487.1 403.8L2450.4 390.9L2442.9 389L2438.1 388.4L2431.2 388.3L2421.3 390L2412.4 393.6L2404.4 399.7L2399.2 405.3L2394.7 411.9L2391.2 419L2388.5 426.9L2387 434.9L2386.5 442.8L2386.9 447.9L2388.9 457L2388.6 458.7L2386.5 460L2381 461.2L2363.9 463.1L2359.4 460.6L2335.3 442.4L2325.9 436L2302.2 421.9L2289.4 415.7L2279.9 411.9L2237.8 397.1L2222.4 392.9L2207.7 390.4L2195.7 389.6L2177.8 390L2158.7 393L2149.6 396.2L2139.6 402.2L2137.9 402.4L2135.2 401.5L2133.4 401.8L2101.8 417.9L2079.6 430.5L2062.2 442.5L2043.2 458.4L2024 476.2L2005.5 495.3L1970.1 533.7L1937.6 566.3L1918.5 583.2L1895.3 602.1L1890.4 603.5L1887.4 602L1884.4 601.4L1881.4 597.4L1881.1 575.3L1877.9 555.6L1871.8 535.6L1862.9 516.1L1853.9 501.5L1840.6 490.8L1827.2 482.2L1812.9 475.5L1763.2 458.1L1748.9 454.6L1734.5 453.3L1716.5 454.3L1698.5 458L1691.9 460L1683.1 463.7L1674.4 468.3L1662.7 475.4L1658 475.7L1656.2 474.1L1653.3 464.2L1649.5 456L1647.5 453L1642.4 449.4L1635.7 446.2L1610.6 437.7L1600.7 436.5L1593.1 437.2L1582.3 440.8L1571.9 446.9L1563 454.9L1559.6 459.2L1556.5 464.3L1553 472.5L1550.7 483.4L1550.6 494.9L1553.1 513L1552.9 514.2L1551.9 515.2L1549.2 515.3L1542.4 512.9L1540.3 512.7L1537.9 513.9L1536.1 517L1534.1 517.5L1505.4 507.7L1494 505.1L1485.6 504.2L1472.5 504.3L1463.4 505.2L1454.4 506.8L1445.3 509.2L1432.2 513.9L1424.2 517.7L1416.5 522.1L1405.4 529.7L1394.8 538.5L1384.9 548.1L1376.1 558L1368 568.6L1356 588.1L1350.4 599.6L1345.8 611.3L1342.2 623L1339.8 634.5L1338.8 642.5L1338.4 654.2L1339.3 666L1341.3 677.7L1343.4 685.8L1347.5 697.6L1352.8 709.4L1359.4 721.2L1366.6 732L1375 742.1L1375.1 744.2L1373.8 745.6L1365.8 744.7L1356.5 742.5L1330.1 731L1288.3 711.6L1265.5 700.1L1224.4 676.9L1198.7 663L1178.8 653.5L1151.3 641.8L1099.1 623.3L1078.4 617.1L1069.4 615L1043 611.1L1029.1 609.7L1022.8 609.9L1011.3 611.2L999.7 614.2L987.4 618.8L974.5 625.3L971.7 625.6L969 624.6L966.7 624.8L952.7 630.7L943.8 635.1L933.3 641.2L922.2 648.9L906.4 662.5L893 676.8L879.6 694.3L857.9 727.2L848.2 739.7L838.6 748.7L834.5 751.4L828.9 754.1L824 753.5L821.3 751.4L815.2 738.9L807.7 728.3L801.5 725.6L768.9 714.1L761.7 712.4L752.8 711.5L743.7 712L738.3 713L732.9 714.7L724.5 718.6L716 724.5L710.3 729.8L705.2 735.7L699 745.9L695.4 753.5L691.4 765.2L689 776.9Z"/></clipPath></defs>
<defs><linearGradient id="gvalLM" gradientUnits="userSpaceOnUse" x1="1504.5" y1="563.7" x2="1532" y2="799.8"><stop offset="0" stop-color="#b7946d"/><stop offset="0.4" stop-color="#cfac84"/><stop offset="1" stop-color="#efd3aa"/></linearGradient><linearGradient id="gvalRM" gradientUnits="userSpaceOnUse" x1="1684" y1="569.2" x2="1745.8" y2="743.6"><stop offset="0" stop-color="#b7946d"/><stop offset="0.4" stop-color="#cfac84"/><stop offset="1" stop-color="#efd3aa"/></linearGradient><linearGradient id="gc2M" gradientUnits="userSpaceOnUse" x1="1027" y1="690.2" x2="979.1" y2="782.8"><stop offset="0" stop-color="#c09d76"/><stop offset="1" stop-color="#ebcda4"/></linearGradient><linearGradient id="gstemM" gradientUnits="userSpaceOnUse" x1="1597.8" y1="566.5" x2="1644.2" y2="557.8"><stop offset="0" stop-color="#cfac84"/><stop offset="0.55" stop-color="#ebcda4"/><stop offset="1" stop-color="#dcba92"/></linearGradient></defs>
<path d="M688.1 787.8L688.3 794.9L689.6 805.2L693.2 819.3L698.4 832.4L706.5 846.7L713.8 851.6L723.8 856.6L763.2 870.6L770.8 872.6L782.7 874.1L799.2 873.5L816.9 870.1L825.1 867.6L833.1 864.4L848.7 856.1L864.3 845.2L880.2 831.7L897.7 814L899.4 813.3L900.6 813.6L901.6 814.6L906.5 825.9L912.6 836.9L924.7 847.2L933.8 851.9L975.5 866.8L989.5 870L1000.4 871L1007.7 871L1018.3 869.8L1029.1 867.3L1040 863.4L1050 858.3L1059.3 851.8L1067.7 843.9L1075.1 834.8L1081.2 824.6L1086.2 813.4L1089.4 801.8L1091.1 786.2L1090.1 772L1087.8 761.9L1085.5 755.2L1079.1 742.2L1076.7 739.4L1065.3 731.5L1056.8 727.4L1047.4 723.9L1046.6 722.7L1046.7 721.1L1049.8 717.4L1050.7 715.7L1050.6 714.1L1049.8 712.3L1041.6 707.6L1029 702.9L1027.7 701.2L1028 699.4L1030.4 696.8L1035.8 692.9L1040.8 690.3L1051.8 686.5L1063.7 684.9L1071 687.7L1079.3 688.2L1083.4 690.6L1133.7 730.6L1172.6 759.1L1209.4 787.9L1242.5 809.7L1254.5 816.4L1266.5 822.1L1290.5 831.5L1340.1 848.9L1352.1 852.3L1364.1 854.9L1400.9 861.1L1416.2 862.9L1427.8 863L1439.3 862.3L1459.1 859.4L1474.9 855.9L1490.7 851.2L1506.4 845.3L1522 837.9L1533.9 831.2L1549.8 820.6L1562.4 811.2L1578.2 798.1L1581.9 798.7L1620.3 812.2L1629.1 812.8L1636.2 810.9L1640 808.8L1645.2 804.9L1653 796.1L1655.5 792L1657.3 787.5L1660.3 775.5L1662.2 774.1L1663.6 774.2L1674.7 778.9L1723.1 795.7L1731.9 797.6L1740.9 798.8L1758.9 800L1770.7 799.3L1782.4 797.8L1791.1 796.1L1805.9 792.1L1829.9 783.7L1845.5 776.7L1857.3 770.6L1876.8 759.1L1896.5 745.6L1911.8 733.9L1931.4 717.8L1980.1 681.2L1995.5 667.5L2011.2 649.6L2024.3 633L2035.3 617.9L2046 601.3L2079 544.7L2090.1 528.1L2097.5 518.5L2104.9 509.9L2112.4 502.7L2119.1 497.3L2120.5 497.1L2124.8 498.3L2131.1 500.9L2133.3 501.3L2136.8 504.9L2136.7 506.5L2131.6 517.1L2129.1 526.4L2127.9 536.4L2128 547.2L2130.1 561.1L2133 571.7L2141.5 591.8L2144.6 596.8L2155.3 605.3L2164 610.3L2170.3 613L2209.8 626.8L2217.1 629.1L2228.5 631.2L2236.6 631.7L2244.3 631.2L2252.2 629.8L2260.2 627.5L2267.6 624.4L2274.9 620.6L2287.9 611.3L2293.6 606.1L2301.1 597.4L2305.8 590.8L2311.9 580.4L2316.8 570.1L2319.5 563.1L2322.4 552.8L2323.6 545.7L2324.6 535.3L2324.6 523.7L2325.2 522.5L2326.3 521.8L2328.5 522.1L2338.4 529.4L2344.8 533.2L2361.1 541.2L2405.1 556.7L2418.3 559.7L2429.1 560.9L2436.4 561.1L2450.9 559.4L2467.6 554.8L2474 552.1L2479.9 548.7L2490.8 540.3L2503 528.2L2509.2 519.8L2515.1 508L2519.6 494.4L2522.3 480.4L2523.1 466.4L2522.8 459.8L2521.5 450.8L2518.3 438.5L2514.6 429L2509.8 420.5L2506 415.2L2504.2 413.7L2496.7 408.6L2487.1 403.8L2450.4 390.9L2442.9 389L2438.1 388.4L2431.2 388.3L2421.3 390L2412.4 393.6L2404.4 399.7L2399.2 405.3L2394.7 411.9L2391.2 419L2388.5 426.9L2387 434.9L2386.5 442.8L2386.9 447.9L2388.9 457L2388.6 458.7L2386.5 460L2381 461.2L2363.9 463.1L2359.4 460.6L2335.3 442.4L2325.9 436L2302.2 421.9L2289.4 415.7L2279.9 411.9L2237.8 397.1L2222.4 392.9L2207.7 390.4L2195.7 389.6L2177.8 390L2158.7 393L2149.6 396.2L2139.6 402.2L2137.9 402.4L2135.2 401.5L2133.4 401.8L2101.8 417.9L2079.6 430.5L2062.2 442.5L2043.2 458.4L2024 476.2L2005.5 495.3L1970.1 533.7L1937.6 566.3L1918.5 583.2L1895.3 602.1L1890.4 603.5L1887.4 602L1884.4 601.4L1881.4 597.4L1881.1 575.3L1877.9 555.6L1871.8 535.6L1862.9 516.1L1853.9 501.5L1840.6 490.8L1827.2 482.2L1812.9 475.5L1763.2 458.1L1748.9 454.6L1734.5 453.3L1716.5 454.3L1698.5 458L1691.9 460L1683.1 463.7L1674.4 468.3L1662.7 475.4L1658 475.7L1656.2 474.1L1653.3 464.2L1649.5 456L1647.5 453L1642.4 449.4L1635.7 446.2L1610.6 437.7L1600.7 436.5L1593.1 437.2L1582.3 440.8L1571.9 446.9L1563 454.9L1559.6 459.2L1556.5 464.3L1553 472.5L1550.7 483.4L1550.6 494.9L1553.1 513L1552.9 514.2L1551.9 515.2L1549.2 515.3L1542.4 512.9L1540.3 512.7L1537.9 513.9L1536.1 517L1534.1 517.5L1505.4 507.7L1494 505.1L1485.6 504.2L1472.5 504.3L1463.4 505.2L1454.4 506.8L1445.3 509.2L1432.2 513.9L1424.2 517.7L1416.5 522.1L1405.4 529.7L1394.8 538.5L1384.9 548.1L1376.1 558L1368 568.6L1356 588.1L1350.4 599.6L1345.8 611.3L1342.2 623L1339.8 634.5L1338.8 642.5L1338.4 654.2L1339.3 666L1341.3 677.7L1343.4 685.8L1347.5 697.6L1352.8 709.4L1359.4 721.2L1366.6 732L1375 742.1L1375.1 744.2L1373.8 745.6L1365.8 744.7L1356.5 742.5L1330.1 731L1288.3 711.6L1265.5 700.1L1224.4 676.9L1198.7 663L1178.8 653.5L1151.3 641.8L1099.1 623.3L1078.4 617.1L1069.4 615L1043 611.1L1029.1 609.7L1022.8 609.9L1011.3 611.2L999.7 614.2L987.4 618.8L974.5 625.3L971.7 625.6L969 624.6L966.7 624.8L952.7 630.7L943.8 635.1L933.3 641.2L922.2 648.9L906.4 662.5L893 676.8L879.6 694.3L857.9 727.2L848.2 739.7L838.6 748.7L834.5 751.4L828.9 754.1L824 753.5L821.3 751.4L815.2 738.9L807.7 728.3L801.5 725.6L768.9 714.1L761.7 712.4L752.8 711.5L743.7 712L738.3 713L732.9 714.7L724.5 718.6L716 724.5L710.3 729.8L705.2 735.7L699 745.9L695.4 753.5L691.4 765.2L689 776.9Z" fill="#e2c199" stroke="#1c1008" stroke-width="1.5" stroke-linejoin="round"/>
<g clip-path="url(#clipM)">
<path d="M777.1 723C779.5 723 786.3 721.7 791 722.9C795.7 724.2 801.3 726.9 805.6 730.4C809.8 733.9 813.7 738.5 816.7 743.8C819.6 749.2 821.8 756.2 823.1 762.3C824.4 768.5 824.7 774.6 824.3 780.7C823.9 786.8 822.6 793.2 820.5 798.9C818.3 804.5 815 810.8 811.3 814.8C807.6 818.8 800.5 821.6 798.3 823L796.2 833.9C800.2 833.2 812.5 832 820 829.4C827.5 826.8 832.3 825.2 841.3 818.3C850.2 811.4 865.4 796.6 873.7 787.9C882 779.2 886 773.3 891 766.3C896 759.3 899.6 752.7 903.6 745.9C907.6 739.1 913.1 728.8 915 725.4C916.9 722 922.3 711.5 926.3 704.9C930.3 698.3 934.7 691.5 939 685.8C943.2 680.1 948.4 674.2 951.7 670.6C954.9 667 956.3 666.4 958.6 664.3C961 662.2 962.9 660.5 965.6 658C968.3 655.5 972 651.5 974.9 649.2C977.8 646.9 981.8 645.1 983.1 644.2C985.1 643 989.9 639.4 994.8 636.8C999.7 634.1 1006.6 630.4 1012.5 628.2C1018.4 626 1024.3 624.8 1030.2 623.6C1036.1 622.3 1041.7 621.4 1048 620.8C1054.3 620.3 1060.3 619.2 1068.2 620.2C1076.1 621.1 1086.3 624.9 1095.3 626.6C1104.3 628.3 1114.8 628.3 1122.3 630.4C1129.8 632.4 1134.4 635.3 1140.4 638.8C1146.5 642.2 1152.6 646.3 1158.7 651.1C1164.8 655.8 1170.9 661.6 1177.1 667.3C1183.2 673.1 1189.3 679.5 1195.5 685.5C1201.6 691.6 1207.7 697.7 1213.9 703.8C1220 709.8 1226.1 716.2 1232.3 722C1238.4 727.7 1244.5 733.1 1250.6 738.2C1256.7 743.3 1262.8 748.1 1268.9 752.5C1275 756.9 1281.1 761 1287.2 764.8C1293.2 768.6 1299.3 771.9 1305.4 775.2C1311.4 778.5 1317.5 781.6 1323.5 784.6C1329.6 787.5 1335.6 790.5 1341.7 793C1347.7 795.4 1353.8 797.6 1359.8 799.4C1365.8 801.2 1371.8 802.6 1377.8 803.9C1383.9 805.2 1389.9 806.5 1395.9 807.4C1401.9 808.2 1407.9 808.7 1413.8 808.9C1419.8 809.1 1425.8 808.8 1431.8 808.5C1437.7 808.2 1444.2 807.7 1449.7 807.1C1455.2 806.4 1462.2 805 1464.7 804.6L1412.2 745.1C1409.1 740.5 1398.3 726.7 1393.6 717.1C1388.8 707.5 1385.9 697.3 1383.8 687.4C1381.8 677.5 1381.1 667.7 1381.3 657.9C1381.5 648.1 1382.9 638.4 1385 628.6C1387.2 618.9 1390.1 609.2 1394.2 599.5C1398.3 589.8 1403.8 579.2 1409.6 570.6C1415.3 561.9 1421.4 554.3 1428.7 547.6C1436 541 1445.1 535 1453.4 530.7C1461.7 526.4 1470 523.6 1478.3 521.7C1486.6 519.8 1495 519.3 1503.3 519.5C1511.7 519.8 1520.1 520.8 1528.5 523.2C1537 525.6 1548.5 531.7 1553.9 533.8C1559.4 535.9 1556.9 534.1 1561.2 536C1565.4 537.9 1573.4 542.4 1579.3 545.4C1585.2 548.3 1591.1 549.5 1596.6 553.7C1602.1 558 1607.6 564.1 1612.3 570.9C1616.9 577.7 1621.4 587.2 1624.5 594.8C1627.7 602.4 1629.8 609 1631.4 616.6C1633 624.1 1633.7 634 1634.1 640.2C1634.6 646.4 1634.6 645.1 1634.1 653.9C1633.7 662.7 1633.3 680 1631.5 693.1C1629.8 706.1 1627.1 719.7 1623.6 732C1620 744.3 1614.8 757.2 1610.1 766.9C1605.4 776.6 1597.9 786.1 1595.4 790C1594.2 789.9 1592.4 786.8 1588.3 789.2C1584.2 791.6 1576.7 799.5 1570.8 804.3C1565 809.1 1560.1 813.2 1553.3 818.1C1546.5 823 1537.7 829.1 1529.9 833.6C1522.1 838.2 1514.3 841.9 1506.4 845.3C1498.6 848.6 1490.7 851.3 1482.8 853.6C1474.9 856 1467.1 857.9 1459.2 859.4C1451.3 860.9 1443.4 862.1 1435.4 862.6C1427.5 863.1 1421 863.4 1411.6 862.5C1402.3 861.7 1387.6 858.8 1379.2 857.5C1370.8 856.1 1367.2 855.6 1361.2 854.4C1355.2 853.1 1349.2 851.7 1343.1 849.9C1337.1 848.1 1331.1 845.7 1325 843.4C1319 841.1 1313 838.8 1306.9 836C1300.9 833.2 1294.8 830.1 1288.7 826.6C1282.7 823.2 1276.6 819.2 1270.5 815.3C1264.4 811.3 1258.3 807.4 1252.3 803C1246.2 798.5 1240.1 793.4 1234 788.7C1227.9 783.9 1221.8 779 1215.7 774.4C1209.6 769.8 1203.5 765.5 1197.4 761.1C1191.3 756.7 1185.2 752.4 1179.1 747.8C1173 743.2 1166.9 738.3 1160.8 733.5C1154.7 728.7 1148.6 724 1142.5 719.2C1136.4 714.4 1130.3 708.9 1124.2 704.9C1118.1 701 1112.1 698.2 1106 695.5C1100 692.9 1093.9 690.4 1087.9 689.1C1081.9 687.8 1069.8 687.9 1069.9 687.6C1070.1 687.2 1089.9 687.3 1089.1 686.9C1088.2 686.4 1072.3 684.6 1065.1 684.8C1057.9 685 1051.6 686.4 1046 688.1C1040.5 689.9 1035.4 693 1031.9 695.6C1028.4 698.1 1026.1 702.1 1024.9 703.4C1026.2 706.8 1028.8 720.2 1032.6 723.5C1036.3 726.9 1044.9 723.5 1047.4 723.5C1048.9 723.5 1053.2 722.7 1056.5 723.8C1059.8 724.9 1063.6 726.4 1067.4 730.1C1071.3 733.8 1076.5 740.1 1079.8 745.9C1083.1 751.8 1085.8 758.5 1087.5 765.2C1089.1 771.9 1089.9 778.8 1089.7 786.2C1089.5 793.6 1088.5 802.4 1086.2 809.6C1083.9 816.9 1080 823.6 1076 829.7C1071.9 835.8 1067.5 841.4 1062 846.3C1056.6 851.1 1049.9 855.5 1043.2 858.8C1036.5 862 1029 864.4 1021.9 866C1014.7 867.5 1007.6 868.4 1000.4 867.9C993.2 867.5 985.6 865.9 978.8 863.3C971.9 860.7 964.8 856.3 959.3 852.3C953.9 848.3 949.8 843.9 945.9 839.3C941.9 834.7 938.6 829.5 935.9 824.6C933.2 819.8 931.3 815.1 929.6 810.1C927.8 805 926.5 798.8 925.6 794.2C924.7 789.6 924.3 784.4 924.1 782.4C921.7 785.1 915.9 791.9 910.1 798.2C904.3 804.6 896.6 813.2 889.2 820.6C881.8 828 874 836.1 865.8 842.6C857.6 849.1 848.6 855.1 839.9 859.6C831.3 864 822.6 867.2 813.9 869.2C805.2 871.2 796 872.3 787.6 871.6C779.2 870.9 770.8 868.4 763.5 865.1C756.3 861.8 749.6 856.9 744.1 851.9C738.6 847 734.1 841.2 730.5 835.3C726.9 829.4 724.2 822.9 722.4 816.8C720.5 810.6 719.8 804.5 719.5 798.4C719.2 792.3 719.6 786.4 720.7 780.1C721.8 773.8 723.8 766.7 726.2 760.7C728.6 754.6 731.7 748.8 735.3 744C739 739.1 743.7 734.9 748.2 731.8C752.7 728.7 757.5 726.6 762.4 725.2C767.2 723.7 774.7 723.4 777.1 723Z" fill="#efd1a8" stroke="none"/>
<path d="M1662.8 746C1661.7 744.5 1658.5 741.4 1656 736.9C1653.4 732.4 1649.8 725.3 1647.4 719C1645 712.7 1643.2 706.8 1641.6 699.2C1639.9 691.7 1638.4 682.8 1637.3 673.6C1636.3 664.4 1634.8 656.7 1635.3 644.1C1635.8 631.6 1639.3 610.4 1640.4 598.5C1641.6 586.5 1640.8 581.1 1642.1 572.5C1643.5 563.9 1645.7 554.8 1648.6 546.7C1651.6 538.5 1655.6 530.6 1659.9 523.6C1664.3 516.6 1669.3 510.2 1674.9 504.6C1680.5 498.9 1687 493.9 1693.6 489.5C1700.2 485.2 1707.3 481.5 1714.7 478.5C1722.2 475.4 1730.5 473 1738.4 471.4C1746.3 469.8 1754.2 469 1762.1 468.9C1770 468.7 1778.4 469 1785.9 470.2C1793.5 471.4 1800.7 473.5 1807.5 476.1C1814.3 478.7 1820.6 481.7 1826.8 485.8C1833.1 489.9 1839.5 495.3 1845 500.7C1850.5 506.1 1855.4 511.8 1859.8 518C1864.1 524.2 1867.8 530.9 1871 537.9C1874.1 544.9 1876.9 553.3 1878.7 560.3C1880.5 567.3 1881.2 573.3 1881.6 579.9C1881.9 586.4 1881.7 592.9 1880.9 599.4C1880.1 605.8 1878.1 613.4 1876.6 618.7C1875.2 624.1 1872.4 629.6 1872.2 631.6C1872 633.7 1874.8 631 1875.3 630.9L1931.4 671.2C1938.3 662.7 1960.7 635.3 1973.3 620.1C1985.9 605 1995.8 593.8 2007 580.4C2018.3 566.9 2031.3 551.1 2040.6 539.5C2049.9 527.9 2055.4 520.5 2062.8 511C2070.3 501.5 2078.8 490.8 2085.1 482.5C2091.4 474.3 2095.6 467.4 2100.6 461.4C2105.6 455.4 2110.7 451.1 2115 446.7C2119.2 442.2 2122.4 438.4 2126.2 434.8C2130 431.2 2133.7 427.9 2137.5 425.1C2141.3 422.3 2145.4 419.2 2148.9 418C2152.3 416.7 2156.6 417.6 2158.1 417.5L2158.1 418C2160.8 416.5 2168.4 411.3 2174.1 409C2179.9 406.8 2186.4 405.5 2192.6 404.4C2198.8 403.2 2205 402.7 2211.2 402.2C2217.4 401.8 2222.8 401 2229.9 401.6C2236.9 402.3 2246.4 404.1 2253.5 406.1C2260.6 408.1 2266.2 410.1 2272.6 413.4C2279 416.7 2285.5 421.1 2292 425.9C2298.4 430.7 2305 436.3 2311.5 442.2C2318 448.1 2324.6 454.8 2331.1 461.1C2337.6 467.4 2344.2 474.4 2350.7 480C2357.2 485.7 2363.8 490.9 2370.2 495C2376.7 499.1 2383.2 502.4 2389.6 504.7C2396.1 507.1 2402.5 508.6 2408.9 509.2C2415.3 509.9 2422.4 509.4 2428 508.5C2433.5 507.7 2437.9 505.7 2442.2 504.3C2446.6 502.8 2452.1 500.4 2454.1 499.7C2451.2 497.7 2441.7 492.7 2437 487.9C2432.3 483 2428.5 476.9 2425.8 470.5C2423.2 464.1 2421.6 456.5 2421.2 449.5C2420.8 442.5 2421.6 434.9 2423.6 428.7C2425.5 422.4 2428.8 416.4 2432.7 411.9C2436.6 407.5 2442 403.8 2446.8 401.9C2451.6 400 2459.1 400.8 2461.6 400.5C2464.3 401.1 2472.8 402 2477.9 404.2C2483.1 406.4 2488.1 409.9 2492.5 413.8C2497 417.6 2501.1 422.1 2504.8 427.2C2508.6 432.3 2512.2 438.6 2514.8 444.5C2517.5 450.5 2519.6 456.4 2520.6 463C2521.5 469.6 2521.5 477 2520.6 483.9C2519.7 490.9 2517.6 498.2 2515.2 504.7C2512.8 511.1 2509.7 517.1 2506.1 522.7C2502.4 528.2 2498.2 533.3 2493.3 538C2488.4 542.6 2482.8 547.2 2476.9 550.5C2471 553.9 2464.7 556.1 2457.9 557.8C2451.2 559.6 2443.7 560.9 2436.5 561.1C2429.3 561.3 2421.7 560.4 2414.9 559.1C2408.1 557.8 2402.1 555.9 2395.6 553.3C2389.2 550.7 2382.3 547.2 2376.3 543.5C2370.2 539.9 2364.5 535.1 2359.2 531.2C2353.9 527.4 2349 523 2344.6 520.3C2340.1 517.7 2335.9 516 2332.5 515.3C2329.1 514.5 2325.5 515.7 2324.1 515.8C2324.2 519.1 2325.1 528.7 2324.6 535.4C2324.2 542.2 2323.4 549.3 2321.6 556.2C2319.8 563.1 2317.1 570 2313.7 576.9C2310.3 583.8 2305.9 591.3 2301.1 597.4C2296.3 603.6 2291.1 609.1 2284.8 613.9C2278.6 618.6 2271.2 623.1 2263.8 626.1C2256.4 629 2248.3 631.1 2240.4 631.6C2232.6 632.1 2224.4 631 2217 629.1C2209.5 627.2 2202.1 623.9 2195.8 620.1C2189.5 616.2 2183.6 611.3 2179.2 606.1C2174.7 600.8 2171.5 594.9 2169 588.5C2166.4 582 2164.7 574.3 2163.8 567.3C2162.8 560.2 2162.8 553.3 2163.3 546.3C2163.7 539.4 2164.8 531.6 2166.7 525.6C2168.5 519.7 2171.2 514.4 2174.4 510.4C2177.6 506.5 2182.3 502.2 2185.8 501.9C2189.3 501.7 2193.7 507.8 2195.3 509C2197.6 507.8 2204 503.4 2209.1 501.9C2214.1 500.5 2219.9 499.5 2225.4 500.2C2230.9 500.9 2237 503.1 2241.9 506.2C2246.9 509.3 2251.7 513.6 2255.2 518.6C2258.7 523.5 2261.3 529.9 2262.7 535.9C2264.2 541.8 2264.5 548.2 2263.9 554.2C2263.3 560.3 2261.5 566.8 2258.9 572.3C2256.4 577.9 2252.7 583.1 2248.7 587.5C2244.7 591.9 2238.2 596.4 2234.9 598.6C2231.6 600.9 2230.1 600.6 2229.1 601C2230.9 600.7 2235.2 600.4 2239.6 599.6C2244.1 598.9 2250.9 598.6 2256 596.2C2261.1 593.8 2266.3 589.8 2270.4 585.3C2274.4 580.8 2277.8 575.6 2280.1 569.2C2282.5 562.9 2284 554.6 2284.6 547.2C2285.1 539.8 2284.5 532.5 2283.3 524.9C2282.1 517.4 2280.1 509 2277.2 502C2274.4 494.9 2270.6 488.2 2266.1 482.4C2261.6 476.7 2256.2 471.9 2250.4 467.4C2244.6 462.9 2238.4 458.2 2231.3 455.3C2224.2 452.3 2211.7 450.5 2207.7 449.6C2205.6 455.4 2196.8 479.2 2194.6 484.2C2192.5 489.1 2195.9 481.1 2194.7 479.5C2193.6 477.8 2191 475.6 2187.9 474.4C2184.7 473.1 2181.4 471.1 2175.7 472.1C2170.1 473.1 2161.4 477.5 2154 480.4C2146.5 483.3 2138.7 485.1 2131.2 489.4C2123.6 493.7 2116.1 498.8 2108.6 506.1C2101.2 513.5 2093.8 522.7 2086.4 533.3C2079 543.9 2071.7 557.3 2064.3 569.6C2057 581.9 2049.7 595.7 2042.3 607.2C2034.9 618.7 2029 627.2 2020.1 638.4C2011.1 649.5 2003.4 660.8 1988.6 674C1973.8 687.2 1944.2 707.8 1931.4 717.8C1918.6 727.8 1919 728.3 1911.8 733.9C1904.7 739.5 1896.3 745.9 1888.5 751.3C1880.7 756.7 1872.9 761.7 1865.1 766.2C1857.3 770.7 1849.4 774.8 1841.6 778.5C1833.8 782.2 1825.9 785.4 1818 788.2C1810.2 791 1801.3 793.5 1794.4 795.3C1787.5 797 1782.6 797.8 1776.7 798.6C1770.7 799.4 1764.8 800 1758.8 800C1752.9 800.1 1746.9 799.6 1740.9 798.8C1735 798.1 1729 797.4 1723 795.7C1717 794 1711 791.8 1705 788.6C1698.9 785.4 1691.9 780.4 1686.8 776.4C1681.7 772.3 1677.6 768.2 1674.6 764.3C1671.6 760.4 1670.9 756.1 1668.9 753C1667 750 1663.9 747.1 1662.8 746Z" fill="#efd1a8" stroke="none"/>
<clipPath id="facesM"><path d="M777.1 723C779.5 723 786.3 721.7 791 722.9C795.7 724.2 801.3 726.9 805.6 730.4C809.8 733.9 813.7 738.5 816.7 743.8C819.6 749.2 821.8 756.2 823.1 762.3C824.4 768.5 824.7 774.6 824.3 780.7C823.9 786.8 822.6 793.2 820.5 798.9C818.3 804.5 815 810.8 811.3 814.8C807.6 818.8 800.5 821.6 798.3 823L796.2 833.9C800.2 833.2 812.5 832 820 829.4C827.5 826.8 832.3 825.2 841.3 818.3C850.2 811.4 865.4 796.6 873.7 787.9C882 779.2 886 773.3 891 766.3C896 759.3 899.6 752.7 903.6 745.9C907.6 739.1 913.1 728.8 915 725.4C916.9 722 922.3 711.5 926.3 704.9C930.3 698.3 934.7 691.5 939 685.8C943.2 680.1 948.4 674.2 951.7 670.6C954.9 667 956.3 666.4 958.6 664.3C961 662.2 962.9 660.5 965.6 658C968.3 655.5 972 651.5 974.9 649.2C977.8 646.9 981.8 645.1 983.1 644.2C985.1 643 989.9 639.4 994.8 636.8C999.7 634.1 1006.6 630.4 1012.5 628.2C1018.4 626 1024.3 624.8 1030.2 623.6C1036.1 622.3 1041.7 621.4 1048 620.8C1054.3 620.3 1060.3 619.2 1068.2 620.2C1076.1 621.1 1086.3 624.9 1095.3 626.6C1104.3 628.3 1114.8 628.3 1122.3 630.4C1129.8 632.4 1134.4 635.3 1140.4 638.8C1146.5 642.2 1152.6 646.3 1158.7 651.1C1164.8 655.8 1170.9 661.6 1177.1 667.3C1183.2 673.1 1189.3 679.5 1195.5 685.5C1201.6 691.6 1207.7 697.7 1213.9 703.8C1220 709.8 1226.1 716.2 1232.3 722C1238.4 727.7 1244.5 733.1 1250.6 738.2C1256.7 743.3 1262.8 748.1 1268.9 752.5C1275 756.9 1281.1 761 1287.2 764.8C1293.2 768.6 1299.3 771.9 1305.4 775.2C1311.4 778.5 1317.5 781.6 1323.5 784.6C1329.6 787.5 1335.6 790.5 1341.7 793C1347.7 795.4 1353.8 797.6 1359.8 799.4C1365.8 801.2 1371.8 802.6 1377.8 803.9C1383.9 805.2 1389.9 806.5 1395.9 807.4C1401.9 808.2 1407.9 808.7 1413.8 808.9C1419.8 809.1 1425.8 808.8 1431.8 808.5C1437.7 808.2 1444.2 807.7 1449.7 807.1C1455.2 806.4 1462.2 805 1464.7 804.6L1412.2 745.1C1409.1 740.5 1398.3 726.7 1393.6 717.1C1388.8 707.5 1385.9 697.3 1383.8 687.4C1381.8 677.5 1381.1 667.7 1381.3 657.9C1381.5 648.1 1382.9 638.4 1385 628.6C1387.2 618.9 1390.1 609.2 1394.2 599.5C1398.3 589.8 1403.8 579.2 1409.6 570.6C1415.3 561.9 1421.4 554.3 1428.7 547.6C1436 541 1445.1 535 1453.4 530.7C1461.7 526.4 1470 523.6 1478.3 521.7C1486.6 519.8 1495 519.3 1503.3 519.5C1511.7 519.8 1520.1 520.8 1528.5 523.2C1537 525.6 1548.5 531.7 1553.9 533.8C1559.4 535.9 1556.9 534.1 1561.2 536C1565.4 537.9 1573.4 542.4 1579.3 545.4C1585.2 548.3 1591.1 549.5 1596.6 553.7C1602.1 558 1607.6 564.1 1612.3 570.9C1616.9 577.7 1621.4 587.2 1624.5 594.8C1627.7 602.4 1629.8 609 1631.4 616.6C1633 624.1 1633.7 634 1634.1 640.2C1634.6 646.4 1634.6 645.1 1634.1 653.9C1633.7 662.7 1633.3 680 1631.5 693.1C1629.8 706.1 1627.1 719.7 1623.6 732C1620 744.3 1614.8 757.2 1610.1 766.9C1605.4 776.6 1597.9 786.1 1595.4 790C1594.2 789.9 1592.4 786.8 1588.3 789.2C1584.2 791.6 1576.7 799.5 1570.8 804.3C1565 809.1 1560.1 813.2 1553.3 818.1C1546.5 823 1537.7 829.1 1529.9 833.6C1522.1 838.2 1514.3 841.9 1506.4 845.3C1498.6 848.6 1490.7 851.3 1482.8 853.6C1474.9 856 1467.1 857.9 1459.2 859.4C1451.3 860.9 1443.4 862.1 1435.4 862.6C1427.5 863.1 1421 863.4 1411.6 862.5C1402.3 861.7 1387.6 858.8 1379.2 857.5C1370.8 856.1 1367.2 855.6 1361.2 854.4C1355.2 853.1 1349.2 851.7 1343.1 849.9C1337.1 848.1 1331.1 845.7 1325 843.4C1319 841.1 1313 838.8 1306.9 836C1300.9 833.2 1294.8 830.1 1288.7 826.6C1282.7 823.2 1276.6 819.2 1270.5 815.3C1264.4 811.3 1258.3 807.4 1252.3 803C1246.2 798.5 1240.1 793.4 1234 788.7C1227.9 783.9 1221.8 779 1215.7 774.4C1209.6 769.8 1203.5 765.5 1197.4 761.1C1191.3 756.7 1185.2 752.4 1179.1 747.8C1173 743.2 1166.9 738.3 1160.8 733.5C1154.7 728.7 1148.6 724 1142.5 719.2C1136.4 714.4 1130.3 708.9 1124.2 704.9C1118.1 701 1112.1 698.2 1106 695.5C1100 692.9 1093.9 690.4 1087.9 689.1C1081.9 687.8 1069.8 687.9 1069.9 687.6C1070.1 687.2 1089.9 687.3 1089.1 686.9C1088.2 686.4 1072.3 684.6 1065.1 684.8C1057.9 685 1051.6 686.4 1046 688.1C1040.5 689.9 1035.4 693 1031.9 695.6C1028.4 698.1 1026.1 702.1 1024.9 703.4C1026.2 706.8 1028.8 720.2 1032.6 723.5C1036.3 726.9 1044.9 723.5 1047.4 723.5C1048.9 723.5 1053.2 722.7 1056.5 723.8C1059.8 724.9 1063.6 726.4 1067.4 730.1C1071.3 733.8 1076.5 740.1 1079.8 745.9C1083.1 751.8 1085.8 758.5 1087.5 765.2C1089.1 771.9 1089.9 778.8 1089.7 786.2C1089.5 793.6 1088.5 802.4 1086.2 809.6C1083.9 816.9 1080 823.6 1076 829.7C1071.9 835.8 1067.5 841.4 1062 846.3C1056.6 851.1 1049.9 855.5 1043.2 858.8C1036.5 862 1029 864.4 1021.9 866C1014.7 867.5 1007.6 868.4 1000.4 867.9C993.2 867.5 985.6 865.9 978.8 863.3C971.9 860.7 964.8 856.3 959.3 852.3C953.9 848.3 949.8 843.9 945.9 839.3C941.9 834.7 938.6 829.5 935.9 824.6C933.2 819.8 931.3 815.1 929.6 810.1C927.8 805 926.5 798.8 925.6 794.2C924.7 789.6 924.3 784.4 924.1 782.4C921.7 785.1 915.9 791.9 910.1 798.2C904.3 804.6 896.6 813.2 889.2 820.6C881.8 828 874 836.1 865.8 842.6C857.6 849.1 848.6 855.1 839.9 859.6C831.3 864 822.6 867.2 813.9 869.2C805.2 871.2 796 872.3 787.6 871.6C779.2 870.9 770.8 868.4 763.5 865.1C756.3 861.8 749.6 856.9 744.1 851.9C738.6 847 734.1 841.2 730.5 835.3C726.9 829.4 724.2 822.9 722.4 816.8C720.5 810.6 719.8 804.5 719.5 798.4C719.2 792.3 719.6 786.4 720.7 780.1C721.8 773.8 723.8 766.7 726.2 760.7C728.6 754.6 731.7 748.8 735.3 744C739 739.1 743.7 734.9 748.2 731.8C752.7 728.7 757.5 726.6 762.4 725.2C767.2 723.7 774.7 723.4 777.1 723Z"/><path d="M1662.8 746C1661.7 744.5 1658.5 741.4 1656 736.9C1653.4 732.4 1649.8 725.3 1647.4 719C1645 712.7 1643.2 706.8 1641.6 699.2C1639.9 691.7 1638.4 682.8 1637.3 673.6C1636.3 664.4 1634.8 656.7 1635.3 644.1C1635.8 631.6 1639.3 610.4 1640.4 598.5C1641.6 586.5 1640.8 581.1 1642.1 572.5C1643.5 563.9 1645.7 554.8 1648.6 546.7C1651.6 538.5 1655.6 530.6 1659.9 523.6C1664.3 516.6 1669.3 510.2 1674.9 504.6C1680.5 498.9 1687 493.9 1693.6 489.5C1700.2 485.2 1707.3 481.5 1714.7 478.5C1722.2 475.4 1730.5 473 1738.4 471.4C1746.3 469.8 1754.2 469 1762.1 468.9C1770 468.7 1778.4 469 1785.9 470.2C1793.5 471.4 1800.7 473.5 1807.5 476.1C1814.3 478.7 1820.6 481.7 1826.8 485.8C1833.1 489.9 1839.5 495.3 1845 500.7C1850.5 506.1 1855.4 511.8 1859.8 518C1864.1 524.2 1867.8 530.9 1871 537.9C1874.1 544.9 1876.9 553.3 1878.7 560.3C1880.5 567.3 1881.2 573.3 1881.6 579.9C1881.9 586.4 1881.7 592.9 1880.9 599.4C1880.1 605.8 1878.1 613.4 1876.6 618.7C1875.2 624.1 1872.4 629.6 1872.2 631.6C1872 633.7 1874.8 631 1875.3 630.9L1931.4 671.2C1938.3 662.7 1960.7 635.3 1973.3 620.1C1985.9 605 1995.8 593.8 2007 580.4C2018.3 566.9 2031.3 551.1 2040.6 539.5C2049.9 527.9 2055.4 520.5 2062.8 511C2070.3 501.5 2078.8 490.8 2085.1 482.5C2091.4 474.3 2095.6 467.4 2100.6 461.4C2105.6 455.4 2110.7 451.1 2115 446.7C2119.2 442.2 2122.4 438.4 2126.2 434.8C2130 431.2 2133.7 427.9 2137.5 425.1C2141.3 422.3 2145.4 419.2 2148.9 418C2152.3 416.7 2156.6 417.6 2158.1 417.5L2158.1 418C2160.8 416.5 2168.4 411.3 2174.1 409C2179.9 406.8 2186.4 405.5 2192.6 404.4C2198.8 403.2 2205 402.7 2211.2 402.2C2217.4 401.8 2222.8 401 2229.9 401.6C2236.9 402.3 2246.4 404.1 2253.5 406.1C2260.6 408.1 2266.2 410.1 2272.6 413.4C2279 416.7 2285.5 421.1 2292 425.9C2298.4 430.7 2305 436.3 2311.5 442.2C2318 448.1 2324.6 454.8 2331.1 461.1C2337.6 467.4 2344.2 474.4 2350.7 480C2357.2 485.7 2363.8 490.9 2370.2 495C2376.7 499.1 2383.2 502.4 2389.6 504.7C2396.1 507.1 2402.5 508.6 2408.9 509.2C2415.3 509.9 2422.4 509.4 2428 508.5C2433.5 507.7 2437.9 505.7 2442.2 504.3C2446.6 502.8 2452.1 500.4 2454.1 499.7C2451.2 497.7 2441.7 492.7 2437 487.9C2432.3 483 2428.5 476.9 2425.8 470.5C2423.2 464.1 2421.6 456.5 2421.2 449.5C2420.8 442.5 2421.6 434.9 2423.6 428.7C2425.5 422.4 2428.8 416.4 2432.7 411.9C2436.6 407.5 2442 403.8 2446.8 401.9C2451.6 400 2459.1 400.8 2461.6 400.5C2464.3 401.1 2472.8 402 2477.9 404.2C2483.1 406.4 2488.1 409.9 2492.5 413.8C2497 417.6 2501.1 422.1 2504.8 427.2C2508.6 432.3 2512.2 438.6 2514.8 444.5C2517.5 450.5 2519.6 456.4 2520.6 463C2521.5 469.6 2521.5 477 2520.6 483.9C2519.7 490.9 2517.6 498.2 2515.2 504.7C2512.8 511.1 2509.7 517.1 2506.1 522.7C2502.4 528.2 2498.2 533.3 2493.3 538C2488.4 542.6 2482.8 547.2 2476.9 550.5C2471 553.9 2464.7 556.1 2457.9 557.8C2451.2 559.6 2443.7 560.9 2436.5 561.1C2429.3 561.3 2421.7 560.4 2414.9 559.1C2408.1 557.8 2402.1 555.9 2395.6 553.3C2389.2 550.7 2382.3 547.2 2376.3 543.5C2370.2 539.9 2364.5 535.1 2359.2 531.2C2353.9 527.4 2349 523 2344.6 520.3C2340.1 517.7 2335.9 516 2332.5 515.3C2329.1 514.5 2325.5 515.7 2324.1 515.8C2324.2 519.1 2325.1 528.7 2324.6 535.4C2324.2 542.2 2323.4 549.3 2321.6 556.2C2319.8 563.1 2317.1 570 2313.7 576.9C2310.3 583.8 2305.9 591.3 2301.1 597.4C2296.3 603.6 2291.1 609.1 2284.8 613.9C2278.6 618.6 2271.2 623.1 2263.8 626.1C2256.4 629 2248.3 631.1 2240.4 631.6C2232.6 632.1 2224.4 631 2217 629.1C2209.5 627.2 2202.1 623.9 2195.8 620.1C2189.5 616.2 2183.6 611.3 2179.2 606.1C2174.7 600.8 2171.5 594.9 2169 588.5C2166.4 582 2164.7 574.3 2163.8 567.3C2162.8 560.2 2162.8 553.3 2163.3 546.3C2163.7 539.4 2164.8 531.6 2166.7 525.6C2168.5 519.7 2171.2 514.4 2174.4 510.4C2177.6 506.5 2182.3 502.2 2185.8 501.9C2189.3 501.7 2193.7 507.8 2195.3 509C2197.6 507.8 2204 503.4 2209.1 501.9C2214.1 500.5 2219.9 499.5 2225.4 500.2C2230.9 500.9 2237 503.1 2241.9 506.2C2246.9 509.3 2251.7 513.6 2255.2 518.6C2258.7 523.5 2261.3 529.9 2262.7 535.9C2264.2 541.8 2264.5 548.2 2263.9 554.2C2263.3 560.3 2261.5 566.8 2258.9 572.3C2256.4 577.9 2252.7 583.1 2248.7 587.5C2244.7 591.9 2238.2 596.4 2234.9 598.6C2231.6 600.9 2230.1 600.6 2229.1 601C2230.9 600.7 2235.2 600.4 2239.6 599.6C2244.1 598.9 2250.9 598.6 2256 596.2C2261.1 593.8 2266.3 589.8 2270.4 585.3C2274.4 580.8 2277.8 575.6 2280.1 569.2C2282.5 562.9 2284 554.6 2284.6 547.2C2285.1 539.8 2284.5 532.5 2283.3 524.9C2282.1 517.4 2280.1 509 2277.2 502C2274.4 494.9 2270.6 488.2 2266.1 482.4C2261.6 476.7 2256.2 471.9 2250.4 467.4C2244.6 462.9 2238.4 458.2 2231.3 455.3C2224.2 452.3 2211.7 450.5 2207.7 449.6C2205.6 455.4 2196.8 479.2 2194.6 484.2C2192.5 489.1 2195.9 481.1 2194.7 479.5C2193.6 477.8 2191 475.6 2187.9 474.4C2184.7 473.1 2181.4 471.1 2175.7 472.1C2170.1 473.1 2161.4 477.5 2154 480.4C2146.5 483.3 2138.7 485.1 2131.2 489.4C2123.6 493.7 2116.1 498.8 2108.6 506.1C2101.2 513.5 2093.8 522.7 2086.4 533.3C2079 543.9 2071.7 557.3 2064.3 569.6C2057 581.9 2049.7 595.7 2042.3 607.2C2034.9 618.7 2029 627.2 2020.1 638.4C2011.1 649.5 2003.4 660.8 1988.6 674C1973.8 687.2 1944.2 707.8 1931.4 717.8C1918.6 727.8 1919 728.3 1911.8 733.9C1904.7 739.5 1896.3 745.9 1888.5 751.3C1880.7 756.7 1872.9 761.7 1865.1 766.2C1857.3 770.7 1849.4 774.8 1841.6 778.5C1833.8 782.2 1825.9 785.4 1818 788.2C1810.2 791 1801.3 793.5 1794.4 795.3C1787.5 797 1782.6 797.8 1776.7 798.6C1770.7 799.4 1764.8 800 1758.8 800C1752.9 800.1 1746.9 799.6 1740.9 798.8C1735 798.1 1729 797.4 1723 795.7C1717 794 1711 791.8 1705 788.6C1698.9 785.4 1691.9 780.4 1686.8 776.4C1681.7 772.3 1677.6 768.2 1674.6 764.3C1671.6 760.4 1670.9 756.1 1668.9 753C1667 750 1663.9 747.1 1662.8 746Z"/><path d="M1596.6 552.8C1594.5 549.1 1588 537.8 1584.3 530.8C1580.7 523.9 1577.1 517.5 1574.9 510.9C1572.7 504.3 1571.4 497.4 1571.1 491.2C1570.8 485 1571.4 479.1 1573 473.6C1574.6 468.1 1577.4 462.5 1580.7 458.2C1584 453.9 1588.6 450.3 1593 447.8C1597.4 445.2 1602.5 443.6 1607.2 442.9C1612 442.2 1617.1 442.6 1621.6 443.7C1626.1 444.9 1630.3 447.1 1634.3 450C1638.3 452.9 1642.3 456.8 1645.4 461.1C1648.5 465.5 1651.1 470.6 1652.9 476.1C1654.7 481.5 1655.8 488.2 1656.1 493.8C1656.3 499.4 1655.6 504.6 1654.7 509.5C1653.7 514.3 1652.2 517.9 1650.5 523.1C1648.9 528.2 1646.4 535.7 1644.7 540.5C1643 545.4 1641.2 550.2 1640.5 552.2L1638.2 532.5C1638.9 530.5 1641.2 525.4 1642.4 520.8C1643.5 516.3 1644.9 510.5 1645 505.2C1645.2 500 1644.8 494.4 1643.4 489.5C1642 484.6 1639.7 479.4 1636.8 475.6C1633.8 471.7 1629.7 468.5 1625.8 466.4C1621.8 464.3 1617.3 463.2 1613.1 463.1C1608.9 463 1604.5 463.8 1600.6 465.6C1596.8 467.5 1592.8 470.5 1590.1 474.1C1587.3 477.8 1585.3 482.8 1584.1 487.7C1583 492.5 1582.7 498.1 1583.3 503.3C1583.9 508.6 1585.3 513.5 1587.6 519.2C1589.9 524.8 1595.5 534.1 1597.1 537.1L1596.6 552.8Z"/><path d="M1659 749.2C1659.2 750.4 1660 753.8 1660.4 756.7C1660.8 759.6 1661.3 762.9 1661.2 766.5C1661.1 770.1 1660.6 774 1659.7 778.2C1658.8 782.4 1657.7 787.6 1655.6 791.8C1653.4 796 1650.1 800.2 1646.9 803.3C1643.7 806.5 1639.9 809.3 1636.3 810.8C1632.8 812.4 1629.2 813 1625.6 812.9C1622 812.8 1618.1 812 1614.8 810.2C1611.4 808.4 1608.4 804.9 1605.6 802.1C1602.8 799.2 1599.9 795 1598.2 793C1596.5 791 1595.9 790.5 1595.4 790C1597.9 786.1 1605.4 775.9 1610.1 766.9C1614.8 757.9 1620 746.6 1623.7 735.9C1627.3 725.3 1629.9 713.3 1631.8 702.9C1633.7 692.5 1634.4 683.3 1635 673.5C1635.6 663.8 1635.3 649 1635.3 644.1C1635.6 649.1 1636.3 664.4 1637.3 673.6C1638.4 682.8 1639.9 691.7 1641.6 699.2C1643.2 706.8 1645 712.7 1647.4 719C1649.8 725.3 1653.4 732.4 1656 736.9C1658.5 741.4 1661.7 744.5 1662.8 746L1659 749.2Z"/></clipPath>
<g clip-path="url(#facesM)" fill="none" stroke-linecap="round">
<line x1="1296.5" y1="685.8" x2="1385.4" y2="668.3" stroke="#f6dbb5" stroke-opacity="0.6" stroke-width="2"/>
<line x1="2194.3" y1="537.7" x2="2275.4" y2="522.9" stroke="#e3c097" stroke-opacity="0.6" stroke-width="2.5"/>
<line x1="772.4" y1="677.2" x2="807.4" y2="670.3" stroke="#f6dbb5" stroke-opacity="0.6" stroke-width="2"/>
<line x1="1711" y1="640.6" x2="1792.1" y2="624.7" stroke="#e3c097" stroke-opacity="0.6" stroke-width="2.5"/>
<line x1="1850.7" y1="406.5" x2="1885" y2="399.8" stroke="#e6c59c" stroke-opacity="0.5" stroke-width="2"/>
<line x1="796.5" y1="756.3" x2="876.7" y2="740.5" stroke="#e3c097" stroke-opacity="0.6" stroke-width="2.5"/>
<line x1="1234.2" y1="700.6" x2="1273.7" y2="692.9" stroke="#dfa866" stroke-opacity="0.4" stroke-width="2"/>
<line x1="1721.6" y1="392.8" x2="1759.7" y2="385.4" stroke="#e3c097" stroke-opacity="0.6" stroke-width="2.5"/>
<line x1="1380.9" y1="512.7" x2="1415.3" y2="505.9" stroke="#f6dbb5" stroke-opacity="0.6" stroke-width="2"/>
<line x1="1830.4" y1="444.7" x2="1908.2" y2="429.5" stroke="#dfa866" stroke-opacity="0.4" stroke-width="2"/>
<line x1="1546.8" y1="331.9" x2="1609" y2="319.7" stroke="#e3c097" stroke-opacity="0.6" stroke-width="2.5"/>
<line x1="2140.8" y1="308.6" x2="2190.5" y2="300" stroke="#dfa866" stroke-opacity="0.4" stroke-width="2"/>
<line x1="1655.8" y1="329.6" x2="1752.1" y2="310.7" stroke="#dfa866" stroke-opacity="0.4" stroke-width="2"/>
<line x1="1816.3" y1="614.4" x2="1892.4" y2="599.4" stroke="#e3c097" stroke-opacity="0.6" stroke-width="2.5"/>
<line x1="2080.8" y1="534.5" x2="2152.2" y2="522.3" stroke="#f6dbb5" stroke-opacity="0.6" stroke-width="2"/>
<line x1="2449" y1="495.4" x2="2529.4" y2="479.6" stroke="#dfa866" stroke-opacity="0.4" stroke-width="2"/>
<line x1="1324.1" y1="601.8" x2="1398.8" y2="587.1" stroke="#e6c59c" stroke-opacity="0.5" stroke-width="2"/>
<line x1="832.7" y1="799.5" x2="886.3" y2="788.9" stroke="#f6dbb5" stroke-opacity="0.6" stroke-width="2"/>
<line x1="811.9" y1="563.8" x2="900.5" y2="546.4" stroke="#e6c59c" stroke-opacity="0.5" stroke-width="2"/>
<line x1="1222.7" y1="607.6" x2="1313.3" y2="589.8" stroke="#f6dbb5" stroke-opacity="0.6" stroke-width="2"/>
<line x1="2407.4" y1="394" x2="2492.6" y2="377.3" stroke="#e6c59c" stroke-opacity="0.5" stroke-width="2"/>
<line x1="808.1" y1="538.2" x2="848.6" y2="530.2" stroke="#e3c097" stroke-opacity="0.6" stroke-width="2.5"/>
<line x1="1423.6" y1="358.7" x2="1498.3" y2="344.1" stroke="#e3c097" stroke-opacity="0.6" stroke-width="2.5"/>
<line x1="1520.7" y1="484.6" x2="1631.2" y2="462.9" stroke="#e6c59c" stroke-opacity="0.5" stroke-width="2"/>
<line x1="2268.7" y1="451.5" x2="2335.7" y2="438.5" stroke="#dfa866" stroke-opacity="0.4" stroke-width="2"/>
<line x1="1946.9" y1="468" x2="1995.7" y2="459.2" stroke="#f6dbb5" stroke-opacity="0.6" stroke-width="2"/>
<line x1="1026.9" y1="706.8" x2="1077.1" y2="696.9" stroke="#e6c59c" stroke-opacity="0.5" stroke-width="2"/>
<line x1="2210.9" y1="500" x2="2264.6" y2="490.2" stroke="#e3c097" stroke-opacity="0.6" stroke-width="2.5"/>
<line x1="1467.4" y1="566.1" x2="1548.6" y2="550.2" stroke="#e3c097" stroke-opacity="0.6" stroke-width="2.5"/>
<line x1="1959.4" y1="412.4" x2="2042.9" y2="397.7" stroke="#f6dbb5" stroke-opacity="0.6" stroke-width="2"/>
<line x1="1531.1" y1="355.7" x2="1648" y2="332.8" stroke="#e6c59c" stroke-opacity="0.5" stroke-width="2"/>
<line x1="1429.2" y1="563.8" x2="1502.4" y2="549.4" stroke="#e6c59c" stroke-opacity="0.5" stroke-width="2"/>
<line x1="821.1" y1="812.1" x2="869" y2="802.7" stroke="#e3c097" stroke-opacity="0.6" stroke-width="2.5"/>
<line x1="902.5" y1="585.7" x2="940.6" y2="578.3" stroke="#e3c097" stroke-opacity="0.6" stroke-width="2.5"/>
<line x1="1675.9" y1="296.5" x2="1761.4" y2="279.7" stroke="#f6dbb5" stroke-opacity="0.6" stroke-width="2"/>
<line x1="2284.1" y1="316.2" x2="2326.4" y2="307.9" stroke="#dfa866" stroke-opacity="0.4" stroke-width="2"/>
<line x1="2431.9" y1="291.8" x2="2504.4" y2="277.6" stroke="#f6dbb5" stroke-opacity="0.6" stroke-width="2"/>
<line x1="2234.6" y1="176.1" x2="2305.8" y2="162.5" stroke="#e6c59c" stroke-opacity="0.5" stroke-width="2"/>
<line x1="1274.7" y1="692.7" x2="1372.9" y2="673.5" stroke="#dfa866" stroke-opacity="0.4" stroke-width="2"/>
<line x1="1572.9" y1="418.1" x2="1649.3" y2="403.1" stroke="#e3c097" stroke-opacity="0.6" stroke-width="2.5"/>
<line x1="2424.4" y1="322.5" x2="2466.6" y2="314.2" stroke="#f6dbb5" stroke-opacity="0.6" stroke-width="2"/>
<line x1="2081.1" y1="476.9" x2="2166.3" y2="462.2" stroke="#f6dbb5" stroke-opacity="0.6" stroke-width="2"/>
<line x1="1972.1" y1="510.4" x2="2033" y2="499.7" stroke="#e3c097" stroke-opacity="0.6" stroke-width="2.5"/>
<line x1="1353.8" y1="646.2" x2="1432.6" y2="630.7" stroke="#dfa866" stroke-opacity="0.4" stroke-width="2"/>
<line x1="1861" y1="392.6" x2="1961.7" y2="373.5" stroke="#e3c097" stroke-opacity="0.6" stroke-width="2.5"/>
<line x1="2160.2" y1="258.2" x2="2255.2" y2="241.1" stroke="#e3c097" stroke-opacity="0.6" stroke-width="2.5"/>
<line x1="1067.5" y1="595.9" x2="1163.9" y2="577" stroke="#f6dbb5" stroke-opacity="0.6" stroke-width="2"/>
<line x1="2135.5" y1="398.9" x2="2180.6" y2="391.1" stroke="#dfa866" stroke-opacity="0.4" stroke-width="2"/>
<line x1="1513.2" y1="333.2" x2="1633.5" y2="309.6" stroke="#dfa866" stroke-opacity="0.4" stroke-width="2"/>
<line x1="854" y1="791.9" x2="926.2" y2="777.7" stroke="#dfa866" stroke-opacity="0.4" stroke-width="2"/>
<line x1="1074.3" y1="542.8" x2="1186.4" y2="520.8" stroke="#f6dbb5" stroke-opacity="0.6" stroke-width="2"/>
<line x1="1574.8" y1="433.1" x2="1677.6" y2="412.9" stroke="#f6dbb5" stroke-opacity="0.6" stroke-width="2"/>
<line x1="2217.8" y1="523.4" x2="2281.4" y2="511.6" stroke="#e3c097" stroke-opacity="0.6" stroke-width="2.5"/>
<line x1="1576.9" y1="619.8" x2="1678.7" y2="599.8" stroke="#dfa866" stroke-opacity="0.4" stroke-width="2"/>
<line x1="856.9" y1="458.4" x2="952.4" y2="439.7" stroke="#e6c59c" stroke-opacity="0.5" stroke-width="2"/>
<line x1="1429.7" y1="345.7" x2="1525.5" y2="326.9" stroke="#e3c097" stroke-opacity="0.6" stroke-width="2.5"/>
<line x1="2506.1" y1="503.9" x2="2589.5" y2="487.6" stroke="#e6c59c" stroke-opacity="0.5" stroke-width="2"/>
<line x1="2167.7" y1="521.9" x2="2270.7" y2="503.3" stroke="#e6c59c" stroke-opacity="0.5" stroke-width="2"/>
<line x1="1901.4" y1="488.3" x2="1979.6" y2="473.9" stroke="#e3c097" stroke-opacity="0.6" stroke-width="2.5"/>
<line x1="739.4" y1="539.4" x2="835.4" y2="520.6" stroke="#f6dbb5" stroke-opacity="0.6" stroke-width="2"/>
<line x1="1657.7" y1="306.1" x2="1726.6" y2="292.6" stroke="#e3c097" stroke-opacity="0.6" stroke-width="2.5"/>
<line x1="2201.8" y1="490.3" x2="2252.7" y2="481.1" stroke="#dfa866" stroke-opacity="0.4" stroke-width="2"/>
<line x1="1613.2" y1="381.9" x2="1672" y2="370.4" stroke="#e6c59c" stroke-opacity="0.5" stroke-width="2"/>
<line x1="2217.6" y1="546.7" x2="2313.7" y2="528.6" stroke="#e6c59c" stroke-opacity="0.5" stroke-width="2"/>
<line x1="1906.2" y1="304.2" x2="1981.4" y2="290.4" stroke="#e3c097" stroke-opacity="0.6" stroke-width="2.5"/>
<line x1="1671.4" y1="465.2" x2="1701.7" y2="459.3" stroke="#e6c59c" stroke-opacity="0.5" stroke-width="2"/>
<line x1="2110.2" y1="349.5" x2="2207.8" y2="332.5" stroke="#e3c097" stroke-opacity="0.6" stroke-width="2.5"/>
<line x1="1017.5" y1="613.3" x2="1113.3" y2="594.5" stroke="#f6dbb5" stroke-opacity="0.6" stroke-width="2"/>
<line x1="1296.7" y1="540.8" x2="1376.8" y2="525.1" stroke="#f6dbb5" stroke-opacity="0.6" stroke-width="2"/>
<line x1="2305.8" y1="531.7" x2="2352.1" y2="522.6" stroke="#f6dbb5" stroke-opacity="0.6" stroke-width="2"/>
<line x1="2103.8" y1="390.4" x2="2181.9" y2="376.9" stroke="#f6dbb5" stroke-opacity="0.6" stroke-width="2"/>
<line x1="1509.2" y1="461.9" x2="1584.7" y2="447.1" stroke="#e3c097" stroke-opacity="0.6" stroke-width="2.5"/>
<line x1="1964.1" y1="436.5" x2="2039.9" y2="423.2" stroke="#e6c59c" stroke-opacity="0.5" stroke-width="2"/>
<line x1="1630.3" y1="582.1" x2="1707.4" y2="566.9" stroke="#dfa866" stroke-opacity="0.4" stroke-width="2"/>
<line x1="2369.5" y1="189.5" x2="2416.8" y2="180.2" stroke="#e6c59c" stroke-opacity="0.5" stroke-width="2"/>
<line x1="956.9" y1="764" x2="1026.5" y2="750.4" stroke="#f6dbb5" stroke-opacity="0.6" stroke-width="2"/>
<line x1="1925.7" y1="453" x2="1973.1" y2="444.3" stroke="#dfa866" stroke-opacity="0.4" stroke-width="2"/>
<line x1="2120.4" y1="234.1" x2="2161.9" y2="226.9" stroke="#dfa866" stroke-opacity="0.4" stroke-width="2"/>
<line x1="959.9" y1="463.2" x2="1078.3" y2="440" stroke="#e3c097" stroke-opacity="0.6" stroke-width="2.5"/>
<line x1="2063" y1="560.4" x2="2169.9" y2="542" stroke="#e3c097" stroke-opacity="0.6" stroke-width="2.5"/>
<line x1="2492.2" y1="189.2" x2="2535.7" y2="180.7" stroke="#e6c59c" stroke-opacity="0.5" stroke-width="2"/>
<line x1="2504.1" y1="355.9" x2="2571.8" y2="342.7" stroke="#dfa866" stroke-opacity="0.4" stroke-width="2"/>
<line x1="1281.1" y1="463.5" x2="1311.5" y2="457.5" stroke="#e6c59c" stroke-opacity="0.5" stroke-width="2"/>
<line x1="1510.1" y1="696.2" x2="1569.4" y2="684.6" stroke="#dfa866" stroke-opacity="0.4" stroke-width="2"/>
<line x1="1640.4" y1="652.4" x2="1760.4" y2="628.9" stroke="#e3c097" stroke-opacity="0.6" stroke-width="2.5"/>
<line x1="2466.4" y1="481.3" x2="2519.6" y2="470.8" stroke="#f6dbb5" stroke-opacity="0.6" stroke-width="2"/>
<line x1="2345.8" y1="474.7" x2="2444.5" y2="455.3" stroke="#e6c59c" stroke-opacity="0.5" stroke-width="2"/>
<line x1="2238.9" y1="300.3" x2="2354.7" y2="277.9" stroke="#e6c59c" stroke-opacity="0.5" stroke-width="2"/>
<line x1="971.2" y1="446.7" x2="1052.7" y2="430.6" stroke="#dfa866" stroke-opacity="0.4" stroke-width="2"/>
<line x1="870.7" y1="806.2" x2="963.1" y2="788.1" stroke="#e6c59c" stroke-opacity="0.5" stroke-width="2"/>
<line x1="2325.6" y1="444.2" x2="2355.8" y2="438.3" stroke="#f6dbb5" stroke-opacity="0.6" stroke-width="2"/>
<line x1="2159.7" y1="547.9" x2="2265.2" y2="528.9" stroke="#f6dbb5" stroke-opacity="0.6" stroke-width="2"/>
<line x1="1188.7" y1="718.5" x2="1218.3" y2="712.7" stroke="#e6c59c" stroke-opacity="0.5" stroke-width="2"/>
<line x1="2382.8" y1="433.4" x2="2423.3" y2="425.4" stroke="#e3c097" stroke-opacity="0.6" stroke-width="2.5"/>
<line x1="2396.6" y1="154" x2="2449.5" y2="143.7" stroke="#e3c097" stroke-opacity="0.6" stroke-width="2.5"/>
<line x1="1072.6" y1="666.2" x2="1129.5" y2="655" stroke="#e3c097" stroke-opacity="0.6" stroke-width="2.5"/>
<line x1="1231.3" y1="560.9" x2="1276.4" y2="552" stroke="#dfa866" stroke-opacity="0.4" stroke-width="2"/>
<line x1="2154.2" y1="189.8" x2="2185.3" y2="184.4" stroke="#f6dbb5" stroke-opacity="0.6" stroke-width="2"/>
<line x1="2034.5" y1="385.2" x2="2079.1" y2="377.5" stroke="#e6c59c" stroke-opacity="0.5" stroke-width="2"/>
<line x1="1151.2" y1="597.5" x2="1240.9" y2="579.9" stroke="#e6c59c" stroke-opacity="0.5" stroke-width="2"/>
<line x1="1898.1" y1="411.9" x2="2007.1" y2="392" stroke="#dfa866" stroke-opacity="0.4" stroke-width="2"/>
<line x1="1949.9" y1="230.1" x2="2008.7" y2="219.6" stroke="#e3c097" stroke-opacity="0.6" stroke-width="2.5"/>
<line x1="1441.7" y1="579.7" x2="1475.3" y2="573.1" stroke="#e3c097" stroke-opacity="0.6" stroke-width="2.5"/>
<line x1="728.1" y1="610.2" x2="838.3" y2="588.6" stroke="#e6c59c" stroke-opacity="0.5" stroke-width="2"/>
<line x1="1004.8" y1="769.3" x2="1111.4" y2="748.3" stroke="#dfa866" stroke-opacity="0.4" stroke-width="2"/>
<line x1="1791.6" y1="374.9" x2="1824.4" y2="368.4" stroke="#e3c097" stroke-opacity="0.6" stroke-width="2.5"/>
<line x1="990.8" y1="629.5" x2="1043.8" y2="619.1" stroke="#dfa866" stroke-opacity="0.4" stroke-width="2"/>
<line x1="2463.6" y1="307.4" x2="2514.9" y2="297.3" stroke="#dfa866" stroke-opacity="0.4" stroke-width="2"/>
<line x1="1103.2" y1="711.1" x2="1162.9" y2="699.4" stroke="#f6dbb5" stroke-opacity="0.6" stroke-width="2"/>
<line x1="1567.5" y1="493.8" x2="1614.7" y2="484.5" stroke="#f6dbb5" stroke-opacity="0.6" stroke-width="2"/>
</g>
<path d="M1464.7 804.6C1466.7 804.6 1471.6 805.2 1476.8 804.7C1482 804.1 1489.5 802.8 1495.8 801.4C1502.1 799.9 1508.8 798.2 1514.7 796.1C1520.6 794 1525.9 791.7 1531.2 788.8C1536.4 785.9 1541.7 782.6 1546.4 778.8C1551 775.1 1555.3 770.9 1559.1 766.2C1563 761.6 1566.4 756.2 1569.5 750.9C1572.5 745.6 1575.2 740.3 1577.4 734.3C1579.6 728.2 1581.4 721.4 1582.8 714.9C1584.3 708.4 1585.3 702 1585.9 695.5C1586.5 689 1586.3 683 1586.6 676C1587 669 1588.2 660.3 1588 653.6C1587.8 647 1586.8 642 1585.4 636.1C1584 630.3 1582.1 624.4 1579.7 618.5C1577.2 612.7 1573.7 605.8 1570.7 600.8C1567.8 595.9 1563.4 590.9 1561.9 589C1559 587.9 1550 584.9 1544.4 582.5C1538.8 580.1 1533.5 576.3 1528.1 574.6C1522.6 572.8 1514.6 572.5 1511.9 572.1C1511 574.6 1508.7 581.9 1506.9 587.3C1505 592.7 1499.9 600.6 1500.7 604.5C1501.4 608.4 1508.2 608 1511.5 610.6C1514.7 613.3 1517.6 616.6 1520.2 620.2C1522.8 623.8 1525 627.7 1526.9 632C1528.8 636.3 1530.4 641.4 1531.5 646.1C1532.6 650.8 1533.2 655.4 1533.4 660.1C1533.6 664.7 1533.4 669.6 1532.7 674C1532 678.4 1530.7 682.7 1529.3 686.7C1527.9 690.7 1525.4 695.5 1524.3 698.1C1523.2 700.8 1523.1 702 1522.8 702.7L1521.7 698.1C1521.3 699.8 1520.5 704.6 1519.3 708.4C1518 712.3 1516.8 716.7 1514.3 721.1C1511.7 725.4 1507.4 730.9 1504 734.7C1500.5 738.4 1497.1 741.2 1493.6 743.6C1490.1 746.1 1486.6 747.4 1483.1 749.1C1479.6 750.9 1476.1 752.7 1472.6 754C1469.1 755.4 1465.6 756.4 1462.1 757.2C1458.5 758 1455 758.5 1451.5 758.6C1447.9 758.7 1444.4 758.4 1440.8 757.7C1437.3 757 1433.7 755.8 1430.1 754.5C1426.5 753.1 1422.4 751.1 1419.4 749.5C1416.4 747.9 1413.4 745.8 1412.2 745.1Z" fill="url(#gvalLM)" stroke="none"/>
<path d="M1688.6 573.9C1690.3 577.5 1696.7 587.5 1699 595.1C1701.3 602.8 1701.2 612.4 1702.3 619.9C1703.4 627.5 1703.9 633.9 1705.5 640.4C1707.2 647 1709.3 654.3 1712.3 659.3C1715.3 664.3 1718.6 667.5 1723.3 670.4C1728 673.2 1735.4 675.5 1740.5 676.4C1745.6 677.3 1751.7 675.8 1754 675.6L1757.4 671.4C1759.1 673.4 1763.8 680.2 1767.6 683.5C1771.4 686.8 1776.3 689.6 1780.4 691.2C1784.4 692.7 1790.1 692.8 1792.1 693.1C1794.3 692.6 1800.9 691.6 1805.5 690.2C1810 688.7 1814.3 687 1819.6 684.1C1825 681.2 1831.7 677.3 1837.3 672.9C1842.9 668.5 1848.4 662.6 1853.1 657.7C1857.7 652.8 1861.5 648.2 1865.3 643.8C1869 639.3 1873.7 633.1 1875.3 630.9L1931.4 671.2L1929.7 650.1C1926.4 652.7 1916.2 661 1910.1 666.2C1903.9 671.4 1898.5 676.2 1892.7 681.2C1886.9 686.2 1881 691.5 1875.2 696.3C1869.4 701.1 1863.6 705.9 1857.7 710C1851.9 714.2 1846 717.8 1840.1 721.2C1834.3 724.6 1828.4 727.9 1822.5 730.4C1816.6 733 1810.7 734.7 1804.8 736.4C1798.9 738.1 1793 739.5 1787.1 740.4C1781.1 741.3 1775.2 741.9 1769.3 741.8C1763.3 741.7 1757.3 741.2 1751.4 740C1745.4 738.7 1739.4 737.1 1733.3 734.2C1727.3 731.3 1720.7 727.4 1715.2 722.6C1709.7 717.7 1704.8 711.6 1700.5 705.2C1696.1 698.8 1692.4 691.3 1689.2 684C1686.1 676.8 1683.5 669.8 1681.5 661.7C1679.5 653.6 1678.2 639.4 1677.3 635.5C1676.3 631.7 1675.9 642.4 1676 638.6C1676 634.8 1676.5 621.3 1677.7 612.6C1678.8 604 1680.6 594.7 1683 586.8C1685.3 578.8 1690.4 568.6 1691.9 564.9Z" fill="url(#gvalRM)" stroke="none"/>
<path d="M1596.6 552.8C1594.5 549.1 1588 537.8 1584.3 530.8C1580.7 523.9 1577.1 517.5 1574.9 510.9C1572.7 504.3 1571.4 497.4 1571.1 491.2C1570.8 485 1571.4 479.1 1573 473.6C1574.6 468.1 1577.4 462.5 1580.7 458.2C1584 453.9 1588.6 450.3 1593 447.8C1597.4 445.2 1602.5 443.6 1607.2 442.9C1612 442.2 1617.1 442.6 1621.6 443.7C1626.1 444.9 1630.3 447.1 1634.3 450C1638.3 452.9 1642.3 456.8 1645.4 461.1C1648.5 465.5 1651.1 470.6 1652.9 476.1C1654.7 481.5 1655.8 488.2 1656.1 493.8C1656.3 499.4 1655.6 504.6 1654.7 509.5C1653.7 514.3 1652.2 517.9 1650.5 523.1C1648.9 528.2 1646.4 535.7 1644.7 540.5C1643 545.4 1641.2 550.2 1640.5 552.2L1638.2 532.5C1638.9 530.5 1641.2 525.4 1642.4 520.8C1643.5 516.3 1644.9 510.5 1645 505.2C1645.2 500 1644.8 494.4 1643.4 489.5C1642 484.6 1639.7 479.4 1636.8 475.6C1633.8 471.7 1629.7 468.5 1625.8 466.4C1621.8 464.3 1617.3 463.2 1613.1 463.1C1608.9 463 1604.5 463.8 1600.6 465.6C1596.8 467.5 1592.8 470.5 1590.1 474.1C1587.3 477.8 1585.3 482.8 1584.1 487.7C1583 492.5 1582.7 498.1 1583.3 503.3C1583.9 508.6 1585.3 513.5 1587.6 519.2C1589.9 524.8 1595.5 534.1 1597.1 537.1L1596.6 552.8Z" fill="#efd1a8" stroke="none"/>
<path d="M1597.1 537.1C1595.5 534.1 1589.9 524.8 1587.6 519.2C1585.3 513.5 1583.9 508.6 1583.3 503.3C1582.7 498.1 1583 492.5 1584.1 487.7C1585.3 482.8 1587.3 477.8 1590.1 474.1C1592.8 470.5 1596.8 467.5 1600.6 465.6C1604.5 463.8 1608.9 463 1613.1 463.1C1617.3 463.2 1621.8 464.3 1625.8 466.4C1629.7 468.5 1633.8 471.7 1636.8 475.6C1639.7 479.4 1642 484.6 1643.4 489.5C1644.8 494.4 1645.2 500 1645 505.2C1644.9 510.5 1643.5 516.3 1642.4 520.8C1641.2 525.4 1638.9 530.5 1638.2 532.5L1640.5 552.2C1640.1 557 1638.7 571.7 1638 581.5C1637.3 591.3 1636.7 601.1 1636.3 610.8C1635.8 620.6 1635.4 635.3 1635.2 640.2L1634.1 640.2C1633.7 636.3 1633 624.1 1631.4 616.6C1629.8 609 1627.7 602.4 1624.5 594.8C1621.4 587.2 1616.9 577.9 1612.3 570.9C1607.6 563.9 1599.2 555.8 1596.6 552.8L1597.1 537.1Z" fill="url(#gstemM)" stroke="none"/>
<path d="M1659 749.2C1659.2 750.4 1660 753.8 1660.4 756.7C1660.8 759.6 1661.3 762.9 1661.2 766.5C1661.1 770.1 1660.6 774 1659.7 778.2C1658.8 782.4 1657.7 787.6 1655.6 791.8C1653.4 796 1650.1 800.2 1646.9 803.3C1643.7 806.5 1639.9 809.3 1636.3 810.8C1632.8 812.4 1629.2 813 1625.6 812.9C1622 812.8 1618.1 812 1614.8 810.2C1611.4 808.4 1608.4 804.9 1605.6 802.1C1602.8 799.2 1599.9 795 1598.2 793C1596.5 791 1595.9 790.5 1595.4 790C1597.9 786.1 1605.4 775.9 1610.1 766.9C1614.8 757.9 1620 746.6 1623.7 735.9C1627.3 725.3 1629.9 713.3 1631.8 702.9C1633.7 692.5 1634.4 683.3 1635 673.5C1635.6 663.8 1635.3 649 1635.3 644.1C1635.6 649.1 1636.3 664.4 1637.3 673.6C1638.4 682.8 1639.9 691.7 1641.6 699.2C1643.2 706.8 1645 712.7 1647.4 719C1649.8 725.3 1653.4 732.4 1656 736.9C1658.5 741.4 1661.7 744.5 1662.8 746L1659 749.2Z" fill="#efd1a8" stroke="none"/>
<path d="M1069.4 609.4C1073.9 610.1 1087.4 611.5 1096.4 613.5C1105.4 615.4 1114.4 618.1 1123.5 621.2C1132.5 624.2 1141.6 627.9 1150.7 631.8C1159.7 635.7 1168.8 639.9 1177.9 644.4C1187 648.9 1196.1 654 1205.2 659C1214.3 664 1223.4 669.5 1232.5 674.5C1241.6 679.5 1250.7 684.6 1259.8 689.1C1268.8 693.6 1277.9 697.5 1287 701.7C1296.1 705.9 1305.1 710.2 1314.2 714.3C1323.3 718.3 1332.4 722.4 1341.4 725.9C1350.5 729.5 1361 733 1368.6 735.6C1376.1 738.1 1380.8 739.7 1386.6 741C1392.5 742.3 1400.9 743.1 1403.8 743.5L1406.1 750.6C1403.2 750.2 1394.8 749.5 1389 748.1C1383.1 746.8 1378.4 745.2 1370.9 742.7C1363.4 740.2 1352.8 736.6 1343.8 733C1334.7 729.5 1325.6 725.5 1316.5 721.4C1307.5 717.4 1298.4 713 1289.3 708.8C1280.2 704.6 1271.2 700.7 1262.1 696.2C1253 691.7 1243.9 686.7 1234.8 681.7C1225.7 676.6 1216.6 671.1 1207.5 666.1C1198.4 661.1 1189.3 656.1 1180.2 651.5C1171.2 647 1162.1 642.8 1153 638.9C1143.9 635.1 1134.9 631.4 1125.8 628.3C1116.8 625.3 1107.7 622.6 1098.7 620.6C1089.7 618.6 1076.2 617.2 1071.7 616.5Z" fill="#d4b189" stroke="none"/>
<path d="M1069.4 609.4C1073.9 610.1 1087.4 611.5 1096.4 613.5C1105.4 615.4 1114.4 618.1 1123.5 621.2C1132.5 624.2 1141.6 627.9 1150.7 631.8C1159.7 635.7 1168.8 639.9 1177.9 644.4C1187 648.9 1196.1 654 1205.2 659C1214.3 664 1223.4 669.5 1232.5 674.5C1241.6 679.5 1250.7 684.6 1259.8 689.1C1268.8 693.6 1277.9 697.5 1287 701.7C1296.1 705.9 1305.1 710.2 1314.2 714.3C1323.3 718.3 1332.4 722.4 1341.4 725.9C1350.5 729.5 1361 733 1368.6 735.6C1376.1 738.1 1380.8 739.7 1386.6 741C1392.5 742.3 1400.9 743.1 1403.8 743.5" fill="none" stroke="#1c1008" stroke-width="1.1" stroke-linecap="round" stroke-linejoin="round"/>
<path d="M1071.7 616.5C1076.2 617.2 1089.7 618.6 1098.7 620.6C1107.7 622.6 1116.8 625.3 1125.8 628.3C1134.9 631.4 1143.9 635.1 1153 638.9C1162.1 642.8 1171.2 647 1180.2 651.5C1189.3 656.1 1198.4 661.1 1207.5 666.1C1216.6 671.1 1225.7 676.6 1234.8 681.7C1243.9 686.7 1253 691.7 1262.1 696.2C1271.2 700.7 1280.2 704.6 1289.3 708.8C1298.4 713 1307.5 717.4 1316.5 721.4C1325.6 725.5 1334.7 729.5 1343.8 733C1352.8 736.6 1363.4 740.2 1370.9 742.7C1378.4 745.2 1383.1 746.8 1389 748.1C1394.8 749.5 1403.2 750.2 1406.1 750.6" fill="none" stroke="#1c1008" stroke-width="1.1" stroke-linecap="round" stroke-linejoin="round"/>
<path d="M828.1 760.9C830.3 759.8 836.9 756.4 841.6 754.3C846.2 752.2 851.4 750.8 855.8 748.2C860.1 745.6 863.6 742.6 867.5 738.6C871.4 734.6 875.2 729.5 879.1 724.1C882.9 718.6 886.7 711.9 890.6 706.1C894.4 700.3 898.2 694.7 902.1 689.5C905.9 684.2 909.8 679.3 913.7 674.7C917.5 670.1 921 666.2 925.3 662C929.6 657.7 934.3 653.4 939.3 649.3C944.4 645.2 950.3 641 955.8 637.5C961.3 634 966.2 631.3 972.3 628.4C978.4 625.4 989 621.3 992.4 619.8L997.5 623.9C994.2 625.3 983.5 629.5 977.4 632.4C971.3 635.4 966.4 638.1 960.9 641.6C955.4 645.1 949.5 649.3 944.5 653.4C939.4 657.5 934.7 661.8 930.4 666C926.2 670.3 922.7 674.2 918.8 678.7C914.9 683.3 911.1 688.3 907.2 693.6C903.4 698.8 899.5 704.4 895.7 710.2C891.8 716 888 722.7 884.2 728.1C880.3 733.6 876.5 738.7 872.6 742.7C868.7 746.7 865.2 749.6 860.9 752.3C856.6 754.9 851.3 756.2 846.7 758.4C842.1 760.5 835.5 763.9 833.2 765Z" fill="#d4b189" stroke="none"/>
<path d="M828.1 760.9C830.3 759.8 836.9 756.4 841.6 754.3C846.2 752.2 851.4 750.8 855.8 748.2C860.1 745.6 863.6 742.6 867.5 738.6C871.4 734.6 875.2 729.5 879.1 724.1C882.9 718.6 886.7 711.9 890.6 706.1C894.4 700.3 898.2 694.7 902.1 689.5C905.9 684.2 909.8 679.3 913.7 674.7C917.5 670.1 921 666.2 925.3 662C929.6 657.7 934.3 653.4 939.3 649.3C944.4 645.2 950.3 641 955.8 637.5C961.3 634 966.2 631.3 972.3 628.4C978.4 625.4 989 621.3 992.4 619.8" fill="none" stroke="#1c1008" stroke-width="1.1" stroke-linecap="round" stroke-linejoin="round"/>
<path d="M833.2 765C835.5 763.9 842.1 760.5 846.7 758.4C851.3 756.2 856.6 754.9 860.9 752.3C865.2 749.6 868.7 746.7 872.6 742.7C876.5 738.7 880.3 733.6 884.2 728.1C888 722.7 891.8 716 895.7 710.2C899.5 704.4 903.4 698.8 907.2 693.6C911.1 688.3 914.9 683.3 918.8 678.7C922.7 674.2 926.2 670.3 930.4 666C934.7 661.8 939.4 657.5 944.5 653.4C949.5 649.3 955.4 645.1 960.9 641.6C966.4 638.1 971.3 635.4 977.4 632.4C983.5 629.5 994.2 625.3 997.5 623.9" fill="none" stroke="#1c1008" stroke-width="1.1" stroke-linecap="round" stroke-linejoin="round"/>
<path d="M1873.3 648.2C1876.1 644.1 1883.8 631.3 1890.6 623.9C1897.3 616.5 1906.1 610.3 1913.9 603.8C1921.6 597.3 1929.3 591.6 1937 585.2C1944.7 578.8 1952.4 572.4 1960 565.3C1967.6 558.3 1975.2 550.7 1982.8 543C1990.4 535.4 1997.9 527.5 2005.5 519.5C2013 511.4 2020.5 502.7 2028 494.7C2035.5 486.7 2043 478.6 2050.5 471.3C2058 463.9 2065.6 457 2073.1 450.5C2080.6 444 2088.1 437.8 2095.7 432.4C2103.2 427 2110.8 422.5 2118.4 418.2C2126 413.8 2134.4 410 2141.2 406.5C2148 403 2156 398.7 2159 397.2L2164 401.4C2161 403 2152.9 407.3 2146.2 410.8C2139.4 414.3 2130.9 418.1 2123.3 422.4C2115.8 426.7 2108.2 431.2 2100.6 436.6C2093.1 442 2085.6 448.3 2078 454.7C2070.5 461.2 2063 468.1 2055.5 475.5C2048 482.9 2040.5 490.9 2033 498.9C2025.5 507 2018 515.6 2010.4 523.7C2002.9 531.7 1995.4 539.6 1987.8 547.2C1980.2 554.9 1972.6 562.5 1965 569.5C1957.4 576.5 1949.7 582.9 1942.1 589.3C1934.4 595.7 1926.7 601.5 1918.9 607.9C1911.2 614.4 1902.5 620.6 1895.7 628C1888.9 635.4 1881.3 648.2 1878.4 652.3Z" fill="#d4b189" stroke="none"/>
<path d="M1873.3 648.2C1876.1 644.1 1883.8 631.3 1890.6 623.9C1897.3 616.5 1906.1 610.3 1913.9 603.8C1921.6 597.3 1929.3 591.6 1937 585.2C1944.7 578.8 1952.4 572.4 1960 565.3C1967.6 558.3 1975.2 550.7 1982.8 543C1990.4 535.4 1997.9 527.5 2005.5 519.5C2013 511.4 2020.5 502.7 2028 494.7C2035.5 486.7 2043 478.6 2050.5 471.3C2058 463.9 2065.6 457 2073.1 450.5C2080.6 444 2088.1 437.8 2095.7 432.4C2103.2 427 2110.8 422.5 2118.4 418.2C2126 413.8 2134.4 410 2141.2 406.5C2148 403 2156 398.7 2159 397.2" fill="none" stroke="#1c1008" stroke-width="1.1" stroke-linecap="round" stroke-linejoin="round"/>
<path d="M1878.4 652.3C1881.3 648.2 1888.9 635.4 1895.7 628C1902.5 620.6 1911.2 614.4 1918.9 607.9C1926.7 601.5 1934.4 595.7 1942.1 589.3C1949.7 582.9 1957.4 576.5 1965 569.5C1972.6 562.5 1980.2 554.9 1987.8 547.2C1995.4 539.6 2002.9 531.7 2010.4 523.7C2018 515.6 2025.5 507 2033 498.9C2040.5 490.9 2048 482.9 2055.5 475.5C2063 468.1 2070.5 461.2 2078 454.7C2085.6 448.3 2093.1 442 2100.6 436.6C2108.2 431.2 2115.8 426.7 2123.3 422.4C2130.9 418.1 2139.4 414.3 2146.2 410.8C2152.9 407.3 2161 403 2164 401.4" fill="none" stroke="#1c1008" stroke-width="1.1" stroke-linecap="round" stroke-linejoin="round"/>
<path d="M2263.5 397.7C2266.7 399.1 2276.2 403 2282.6 406.2C2289.1 409.5 2296.3 413.9 2302 417.3C2307.7 420.8 2311.7 423.5 2316.6 426.9C2321.5 430.4 2326.4 434.2 2331.2 437.8C2336.1 441.5 2341 445.5 2345.9 448.7C2350.7 451.9 2355.6 454.9 2360.4 457C2365.3 459.1 2370.1 460.7 2374.9 461.4C2379.7 462.1 2384.5 461.7 2389.2 461.3C2394 460.9 2400.4 459.8 2403.5 459.1C2406.6 458.5 2407.1 457.5 2407.8 457.2L2409.4 463.5C2408.7 463.8 2408.2 464.8 2405.1 465.5C2402 466.2 2395.6 467.3 2390.8 467.6C2386.1 468 2381.3 468.4 2376.5 467.7C2371.7 467 2366.9 465.5 2362 463.4C2357.2 461.3 2352.3 458.3 2347.5 455.1C2342.6 451.9 2337.7 447.8 2332.8 444.2C2327.9 440.5 2323.1 436.7 2318.2 433.3C2313.3 429.8 2309.3 427.1 2303.6 423.7C2297.9 420.2 2290.7 415.8 2284.2 412.6C2277.8 409.3 2268.2 405.4 2265 404Z" fill="#d4b189" stroke="none"/>
<path d="M2263.5 397.7C2266.7 399.1 2276.2 403 2282.6 406.2C2289.1 409.5 2296.3 413.9 2302 417.3C2307.7 420.8 2311.7 423.5 2316.6 426.9C2321.5 430.4 2326.4 434.2 2331.2 437.8C2336.1 441.5 2341 445.5 2345.9 448.7C2350.7 451.9 2355.6 454.9 2360.4 457C2365.3 459.1 2370.1 460.7 2374.9 461.4C2379.7 462.1 2384.5 461.7 2389.2 461.3C2394 460.9 2400.4 459.8 2403.5 459.1C2406.6 458.5 2407.1 457.5 2407.8 457.2" fill="none" stroke="#1c1008" stroke-width="1.1" stroke-linecap="round" stroke-linejoin="round"/>
<path d="M2265 404C2268.2 405.4 2277.8 409.3 2284.2 412.6C2290.7 415.8 2297.9 420.2 2303.6 423.7C2309.3 427.1 2313.3 429.8 2318.2 433.3C2323.1 436.7 2327.9 440.5 2332.8 444.2C2337.7 447.8 2342.6 451.9 2347.5 455.1C2352.3 458.3 2357.2 461.3 2362 463.4C2366.9 465.5 2371.7 467 2376.5 467.7C2381.3 468.4 2386.1 468 2390.8 467.6C2395.6 467.3 2402 466.2 2405.1 465.5C2408.2 464.8 2408.7 463.8 2409.4 463.5" fill="none" stroke="#1c1008" stroke-width="1.1" stroke-linecap="round" stroke-linejoin="round"/>
<path d="M820 829.4C823.6 827.6 832.3 825.2 841.3 818.3C850.2 811.4 865.4 796.6 873.7 787.9C882 779.2 886 773.3 891 766.3C896 759.3 899.6 752.7 903.6 745.9C907.6 739.1 911.2 732.2 915 725.4C918.8 718.6 922.3 711.5 926.3 704.9C930.3 698.3 934.7 691.5 939 685.8C943.2 680.1 948.4 674.2 951.7 670.6C954.9 667 956.3 666.4 958.6 664.3C961 662.2 962.9 660.5 965.6 658C968.3 655.5 972 651.5 974.9 649.2C977.8 646.9 981.8 645.1 983.1 644.2L974.8 644C973.4 644.8 969.5 646.6 966.6 648.9C963.7 651.2 960 655.2 957.3 657.7C954.6 660.3 952.6 661.9 950.3 664C948 666.1 946.6 666.7 943.3 670.3C940 673.9 934.8 679.8 930.6 685.5C926.4 691.3 922 698.1 918 704.7C914 711.3 910.4 718.3 906.6 725.1C902.8 732 899.2 738.8 895.3 745.6C891.3 752.4 887.7 759 882.7 766C877.7 773 873.7 779 865.4 787.6C857.1 796.3 841.9 811.1 832.9 818.1C824 825 815.2 827.3 811.7 829.2L820 829.4Z" fill="#d4b189" stroke="none"/>
<path d="M815.7 829.3C819.3 827.4 828 825.1 837 818.2C845.9 811.3 861.1 796.4 869.4 787.8C877.7 779.1 881.7 773.2 886.7 766.2C891.7 759.2 895.3 752.6 899.3 745.7C903.3 738.9 906.9 732.1 910.7 725.3C914.5 718.4 918 711.4 922 704.8C926 698.2 930.4 691.4 934.6 685.7C938.9 679.9 944.1 674 947.4 670.4C950.6 666.9 952 666.3 954.3 664.2C956.7 662.1 958.6 660.4 961.3 657.9C964 655.3 967.7 651.3 970.6 649C973.5 646.7 977.4 644.9 978.8 644.1" fill="none" stroke="#1c1008" stroke-width="1.0" stroke-linecap="round" stroke-linejoin="round"/>
<path d="M811.7 829.2C815.2 827.3 824 825 832.9 818.1C841.9 811.1 857.1 796.3 865.4 787.6C873.7 779 877.7 773 882.7 766C887.7 759 891.3 752.4 895.3 745.6C899.2 738.8 902.8 732 906.6 725.1C910.4 718.3 914 711.3 918 704.7C922 698.1 926.4 691.3 930.6 685.5C934.8 679.8 940 673.9 943.3 670.3C946.6 666.7 948 666.1 950.3 664C952.6 661.9 954.6 660.3 957.3 657.7C960 655.2 963.7 651.2 966.6 648.9C969.5 646.6 973.4 644.8 974.8 644" fill="none" stroke="#1c1008" stroke-width="1.0" stroke-linecap="round" stroke-linejoin="round"/>
<path d="M1931.4 671.2C1938.3 662.7 1960.7 635.3 1973.3 620.1C1985.9 605 1995.8 593.8 2007 580.4C2018.3 566.9 2031.3 551.1 2040.6 539.5C2049.9 527.9 2055.4 520.5 2062.8 511C2070.3 501.5 2078.8 490.8 2085.1 482.5C2091.4 474.3 2098 464.9 2100.6 461.4L2093.1 460.9C2090.5 464.5 2083.9 473.8 2077.6 482C2071.3 490.3 2062.8 501 2055.4 510.5C2047.9 520 2042.4 527.5 2033.1 539C2023.8 550.6 2010.7 566.5 1999.5 579.9C1988.3 593.4 1978.3 604.6 1965.7 619.7C1953.1 634.9 1930.7 662.3 1923.7 670.9L1931.4 671.2Z" fill="#d4b189" stroke="none"/>
<path d="M1927.5 671C1934.4 662.5 1956.8 635.1 1969.4 619.9C1982 604.8 1992 593.6 2003.2 580.2C2014.4 566.7 2027.5 550.8 2036.8 539.3C2046.1 527.7 2051.6 520.3 2059 510.8C2066.5 501.3 2075 490.5 2081.3 482.3C2087.6 474 2094.2 464.7 2096.8 461.2" fill="none" stroke="#1c1008" stroke-width="1.0" stroke-linecap="round" stroke-linejoin="round"/>
<path d="M1923.7 670.9C1930.7 662.3 1953.1 634.9 1965.7 619.7C1978.3 604.6 1988.3 593.4 1999.5 579.9C2010.7 566.5 2023.8 550.6 2033.1 539C2042.4 527.5 2047.9 520 2055.4 510.5C2062.8 501 2071.3 490.3 2077.6 482C2083.9 473.8 2090.5 464.5 2093.1 460.9" fill="none" stroke="#1c1008" stroke-width="1.0" stroke-linecap="round" stroke-linejoin="round"/>
<path d="M1095.3 626.6C1099.8 627.2 1114.8 628.3 1122.3 630.4C1129.8 632.4 1134.4 635.3 1140.4 638.8C1146.5 642.2 1152.6 646.3 1158.7 651.1C1164.8 655.8 1170.9 661.6 1177.1 667.3C1183.2 673.1 1189.3 679.5 1195.5 685.5C1201.6 691.6 1207.7 697.7 1213.9 703.8C1220 709.8 1226.1 716.2 1232.3 722C1238.4 727.7 1244.5 733.1 1250.6 738.2C1256.7 743.3 1262.8 748.1 1268.9 752.5C1275 756.9 1281.1 761 1287.2 764.8C1293.2 768.6 1299.3 771.9 1305.4 775.2C1311.4 778.5 1317.5 781.6 1323.5 784.6C1329.6 787.5 1335.6 790.5 1341.7 793C1347.7 795.4 1353.8 797.6 1359.8 799.4C1365.8 801.2 1371.8 802.6 1377.8 803.9C1383.9 805.2 1389.9 806.5 1395.9 807.4C1401.9 808.2 1407.9 808.7 1413.8 808.9C1419.8 809.1 1425.8 808.8 1431.8 808.5C1437.7 808.2 1444.2 807.7 1449.7 807.1C1455.2 806.4 1462.2 805 1464.7 804.6L1468.7 794.5C1466.2 794.9 1459.2 796.4 1453.7 797C1448.2 797.6 1441.8 798.1 1435.8 798.4C1429.9 798.7 1423.9 799 1417.9 798.8C1411.9 798.7 1405.9 798.1 1399.9 797.3C1393.9 796.5 1387.9 795.1 1381.9 793.8C1375.9 792.5 1369.9 791.2 1363.8 789.3C1357.8 787.5 1351.8 785.4 1345.7 782.9C1339.7 780.4 1333.6 777.5 1327.6 774.5C1321.5 771.5 1315.5 768.4 1309.4 765.1C1303.3 761.8 1297.3 758.5 1291.2 754.8C1285.1 751 1279.1 746.9 1273 742.4C1266.9 738 1260.8 733.2 1254.7 728.1C1248.5 723.1 1242.4 717.6 1236.3 711.9C1230.2 706.2 1224 699.8 1217.9 693.7C1211.8 687.6 1205.6 681.5 1199.5 675.5C1193.4 669.4 1187.2 663 1181.1 657.3C1175 651.5 1168.8 645.8 1162.7 641C1156.6 636.2 1150.6 632.1 1144.5 628.7C1138.4 625.2 1133.9 622.3 1126.3 620.3C1118.8 618.3 1103.8 617.1 1099.3 616.5L1095.3 626.6Z" fill="#d4b189" stroke="none"/>
<path d="M1097.3 621.9C1101.8 622.6 1116.8 623.7 1124.3 625.7C1131.9 627.7 1136.4 630.7 1142.5 634.1C1148.5 637.6 1154.6 641.7 1160.7 646.4C1166.8 651.2 1173 656.9 1179.1 662.7C1185.2 668.4 1191.4 674.8 1197.5 680.9C1203.6 687 1209.8 693 1215.9 699.1C1222 705.2 1228.2 711.6 1234.3 717.3C1240.4 723.1 1246.5 728.5 1252.6 733.6C1258.8 738.7 1264.9 743.4 1270.9 747.9C1277 752.3 1283.1 756.4 1289.2 760.2C1295.3 764 1301.3 767.3 1307.4 770.5C1313.5 773.8 1319.5 777 1325.6 779.9C1331.6 782.9 1337.7 785.9 1343.7 788.3C1349.8 790.8 1355.8 792.9 1361.8 794.8C1367.9 796.6 1373.9 797.9 1379.9 799.2C1385.9 800.6 1391.9 801.9 1397.9 802.7C1403.9 803.6 1409.9 804.1 1415.9 804.3C1421.9 804.5 1427.8 804.1 1433.8 803.8C1439.8 803.5 1446.2 803.1 1451.7 802.4C1457.2 801.8 1464.2 800.4 1466.7 799.9" fill="none" stroke="#1c1008" stroke-width="1.0" stroke-linecap="round" stroke-linejoin="round"/>
<path d="M1099.3 616.5C1103.8 617.1 1118.8 618.3 1126.3 620.3C1133.9 622.3 1138.4 625.2 1144.5 628.7C1150.6 632.1 1156.6 636.2 1162.7 641C1168.8 645.8 1175 651.5 1181.1 657.3C1187.2 663 1193.4 669.4 1199.5 675.5C1205.6 681.5 1211.8 687.6 1217.9 693.7C1224 699.8 1230.2 706.2 1236.3 711.9C1242.4 717.6 1248.5 723.1 1254.7 728.1C1260.8 733.2 1266.9 738 1273 742.4C1279.1 746.9 1285.1 751 1291.2 754.8C1297.3 758.5 1303.3 761.8 1309.4 765.1C1315.5 768.4 1321.5 771.5 1327.6 774.5C1333.6 777.5 1339.7 780.4 1345.7 782.9C1351.8 785.4 1357.8 787.5 1363.8 789.3C1369.9 791.2 1375.9 792.5 1381.9 793.8C1387.9 795.1 1393.9 796.5 1399.9 797.3C1405.9 798.1 1411.9 798.7 1417.9 798.8C1423.9 799 1429.9 798.7 1435.8 798.4C1441.8 798.1 1448.2 797.6 1453.7 797C1459.2 796.4 1466.2 794.9 1468.7 794.5" fill="none" stroke="#1c1008" stroke-width="1.0" stroke-linecap="round" stroke-linejoin="round"/>
<path d="M1410.2 804.6C1414.1 804.8 1426.1 805.7 1434 806C1441.9 806.2 1450.7 806.3 1457.8 806C1464.9 805.8 1470.5 805.5 1476.8 804.7C1483.1 803.9 1489.5 802.8 1495.8 801.4C1502.1 799.9 1508.8 798.2 1514.7 796.1C1520.6 794 1525.9 791.7 1531.2 788.8C1536.4 785.9 1541.7 782.6 1546.4 778.8C1551 775.1 1555.3 770.9 1559.1 766.2C1563 761.6 1566.4 756.2 1569.5 750.9C1572.5 745.6 1575.2 740.3 1577.4 734.3C1579.6 728.2 1581.4 721.4 1582.8 714.9C1584.3 708.4 1585.3 702 1585.9 695.5C1586.5 689 1586.5 679.2 1586.6 676L1596.7 676.3C1596.6 679.5 1596.8 688.7 1596 695.8C1595.3 702.9 1594.2 711.3 1592.5 719.1C1590.8 726.9 1588.7 735 1585.9 742.3C1583.1 749.6 1579.3 756.9 1575.7 762.8C1572.1 768.8 1568.7 773.3 1564.2 778.1C1559.8 782.8 1554.3 787.4 1549.1 791.3C1543.8 795.1 1538.5 798.3 1532.7 801.2C1526.8 804 1520.3 806.3 1513.8 808.4C1507.3 810.5 1500.2 812.3 1493.7 813.6C1487.2 815 1481.1 815.6 1474.7 816.3C1468.4 817 1462.5 817.5 1455.7 817.7C1449 817.9 1441.8 818 1434.3 817.7C1426.7 817.4 1414.4 816.3 1410.4 816L1410.2 804.6Z" fill="#d4b189" stroke="none"/>
<path d="M1677.3 635.5C1678 639.9 1679.5 653.6 1681.5 661.7C1683.5 669.8 1686.1 676.8 1689.2 684C1692.4 691.3 1696.1 698.8 1700.5 705.2C1704.8 711.6 1709.7 717.7 1715.2 722.6C1720.7 727.4 1727.3 731.3 1733.3 734.2C1739.4 737.1 1745.4 738.7 1751.4 740C1757.3 741.2 1763.3 741.7 1769.3 741.8C1775.2 741.9 1781.1 741.3 1787.1 740.4C1793 739.5 1798.9 738.1 1804.8 736.4C1810.7 734.7 1816.6 733 1822.5 730.4C1828.4 727.9 1834.3 724.6 1840.1 721.2C1846 717.8 1851.9 714.2 1857.7 710C1863.6 705.9 1869.4 701.1 1875.2 696.3C1881 691.5 1886.9 686.2 1892.7 681.2C1898.5 676.2 1903.9 671.4 1910.1 666.2C1916.2 661 1926.4 652.7 1929.7 650.1L1930 660.5C1927.7 662.6 1921.3 668.4 1916.2 672.9C1911 677.5 1904.6 682.9 1898.8 687.9C1893 692.9 1887.2 698.2 1881.3 703C1875.5 707.8 1869.7 712.6 1863.8 716.7C1858 720.9 1852.1 724.5 1846.3 727.9C1840.4 731.3 1834.5 734.6 1828.6 737.1C1822.8 739.7 1816.9 741.4 1810.9 743.1C1805 744.7 1799.5 746.1 1793.2 747.1C1786.9 748.1 1780 749.1 1773 749.1C1766.1 749.1 1758.5 748.5 1751.5 747.1C1744.6 745.7 1737.4 743.8 1731.1 740.6C1724.9 737.5 1719.5 733.4 1714.2 728.4C1708.8 723.4 1703.3 716.9 1698.8 710.4C1694.4 703.8 1690.7 696.7 1687.6 689.2C1684.4 681.7 1681.8 674.1 1679.8 665.5C1677.8 657 1676.3 642.7 1675.6 638.1L1677.3 635.5Z" fill="#d4b189" stroke="none"/>
<path d="M999.4 686.7C996.4 689.7 986.7 698.1 981.9 704.5C977.1 710.9 973.2 717.7 970.4 725C967.6 732.4 965.9 741.2 965.1 748.4C964.2 755.6 965 761.5 965.6 768C966.1 774.6 966.7 781.3 968.5 787.7C970.2 794.1 973 800.7 976.1 806.3C979.2 811.8 982.9 816.9 987.2 821C991.5 825 996.8 828.5 1001.8 830.6C1006.9 832.7 1012.7 833.4 1017.5 833.7C1022.2 833.9 1028.4 832.4 1030.6 832.1C1029.3 830.3 1026.4 824 1023.1 821.4C1019.9 818.8 1014.7 818.9 1011 816.5C1007.4 814.1 1004.1 811.7 1001.2 807C998.3 802.4 995.2 794.9 993.6 788.5C991.9 782.1 991.2 774.9 991.3 768.8C991.3 762.7 992.3 756.2 993.8 751.9C995.4 747.6 999.6 744.5 1000.8 743L991 733.5C992.3 731.8 996.2 726.5 999.1 723.3C1002 720.1 1004.9 716.7 1008.4 714.4C1012 712.2 1017.5 711.2 1020.3 709.6C1023 707.9 1024.2 705.3 1024.9 704.5C1026.1 702.9 1028.7 697.6 1031.9 694.9C1035 692.2 1041.7 689.2 1043.6 688.1C1040 685.8 1029.1 674.6 1021.8 674.3C1014.4 674.1 1003.1 684.6 999.4 686.7Z" fill="url(#gc2M)" stroke="none"/>
<path d="M2194.5 478.1C2196.7 473.4 2201.6 453.4 2207.7 449.6C2213.9 445.8 2224.2 452.3 2231.3 455.3C2238.4 458.2 2244.6 462.9 2250.4 467.4C2256.2 471.9 2261.6 476.7 2266.1 482.4C2270.6 488.2 2274.4 494.9 2277.2 502C2280.1 509 2282.1 517.4 2283.3 524.9C2284.5 532.5 2285.1 539.8 2284.6 547.2C2284 554.6 2282.5 562.9 2280.1 569.2C2277.8 575.6 2274.4 580.8 2270.4 585.3C2266.3 589.8 2261.1 593.8 2256 596.2C2250.9 598.6 2244.1 598.9 2239.6 599.6C2235.2 600.4 2230.9 600.7 2229.1 601C2230.1 600.6 2231.6 600.9 2234.9 598.6C2238.2 596.4 2244.7 591.9 2248.7 587.5C2252.7 583.1 2256.4 577.9 2258.9 572.3C2261.5 566.8 2263.3 560.3 2263.9 554.2C2264.5 548.2 2264.2 541.8 2262.7 535.9C2261.3 529.9 2258.7 523.5 2255.2 518.6C2251.7 513.6 2246.9 509.3 2241.9 506.2C2237 503.1 2230.9 500.9 2225.4 500.2C2219.9 499.5 2214.1 500.5 2209.1 501.9C2204 503.4 2197.6 507.8 2195.3 509L2194.5 478.1Z" fill="#d9b78f" stroke="none"/>
<path d="M2194.6 484.2C2195.6 484 2196.5 482.7 2200.4 483.2C2204.3 483.6 2211.9 484.9 2218 486.7C2224.1 488.6 2231 491.1 2236.9 494.2C2242.9 497.3 2248.9 501.1 2253.7 505.4C2258.5 509.8 2263.8 517.8 2265.9 520.3L2262.7 535.9C2261.5 533 2258.7 523.5 2255.2 518.6C2251.7 513.6 2246.9 509.3 2241.9 506.2C2237 503.1 2230.9 500.9 2225.4 500.2C2219.9 499.5 2214.1 500.5 2209.1 501.9C2204 503.4 2197.6 507.8 2195.3 509L2194.6 484.2Z" fill="#f2d6ae" stroke="none"/>
<path d="M777.1 723C774.7 723.4 767.2 723.7 762.4 725.2C757.5 726.6 752.7 728.7 748.2 731.8C743.7 734.9 739 739.1 735.3 744C731.7 748.8 728.6 754.6 726.2 760.7C723.8 766.7 721.8 773.8 720.7 780.1C719.6 786.4 719.2 792.3 719.5 798.4C719.8 804.5 720.5 810.6 722.4 816.8C724.2 822.9 726.9 829.4 730.5 835.3C734.1 841.2 738.6 847 744.1 851.9C749.6 856.9 756.3 861.8 763.5 865.1C770.8 868.4 779.2 870.9 787.6 871.6C796 872.3 805.2 871.2 813.9 869.2C822.6 867.2 831.3 864 839.9 859.6C848.6 855.1 857.6 849.1 865.8 842.6C874 836.1 881.8 828 889.2 820.6C896.6 813.2 904.3 804.6 910.1 798.2C915.9 791.9 921.7 785.1 924.1 782.4" fill="none" stroke="#1c1008" stroke-width="1.3" stroke-linecap="round" stroke-linejoin="round"/>
<path d="M777.1 723C779.5 723 786.3 721.7 791 722.9C795.7 724.2 801.3 726.9 805.6 730.4C809.8 733.9 813.7 738.5 816.7 743.8C819.6 749.2 821.8 756.2 823.1 762.3C824.4 768.5 824.7 774.6 824.3 780.7C823.9 786.8 822.6 793.2 820.5 798.9C818.3 804.5 815 810.8 811.3 814.8C807.6 818.8 802.9 821.4 798.3 823C793.8 824.6 788.8 825.2 784 824.4C779.2 823.6 773.5 821.3 769.5 818.2C765.5 815.2 761.7 808.2 760.1 806.2" fill="none" stroke="#1c1008" stroke-width="1.3" stroke-linecap="round" stroke-linejoin="round"/>
<path d="M777.1 723C777 725.4 777.3 732.8 776.6 737.4C775.8 741.9 774.6 746.4 772.6 750.3C770.6 754.3 767.1 757 764.5 761.1C761.9 765.1 758.7 769.6 756.9 774.7C755.2 779.8 754 786.1 754 791.6C754 797 755 802.6 756.8 807.4C758.6 812.1 761.2 816.5 764.8 820.2C768.4 823.8 772.9 827.2 778.2 829.5C783.4 831.8 789.3 833.9 796.2 833.9C803.2 833.9 812.5 832 820 829.4C827.5 826.8 832.3 825.2 841.3 818.3C850.2 811.4 865.4 796.6 873.7 787.9C882 779.2 886 773.3 891 766.3C896 759.3 899.6 752.7 903.6 745.9C907.6 739.1 913.1 728.8 915 725.4" fill="none" stroke="#1c1008" stroke-width="1.3" stroke-linecap="round" stroke-linejoin="round"/>
<path d="M915 725.4C916.9 722 922.3 711.5 926.3 704.9C930.3 698.3 934.7 691.5 939 685.8C943.2 680.1 948.4 674.2 951.7 670.6C954.9 667 956.3 666.4 958.6 664.3C961 662.2 962.9 660.5 965.6 658C968.3 655.5 972 651.5 974.9 649.2C977.8 646.9 981.8 645.1 983.1 644.2" fill="none" stroke="#1c1008" stroke-width="1.3" stroke-linecap="round" stroke-linejoin="round"/>
<path d="M983.1 644.2C985.1 643 989.9 639.4 994.8 636.8C999.7 634.1 1006.6 630.4 1012.5 628.2C1018.4 626 1024.3 624.8 1030.2 623.6C1036.1 622.3 1041.7 621.4 1048 620.8C1054.3 620.3 1060.3 619.2 1068.2 620.2C1076.1 621.1 1086.3 624.9 1095.3 626.6C1104.3 628.3 1114.8 628.3 1122.3 630.4C1129.8 632.4 1134.4 635.3 1140.4 638.8C1146.5 642.2 1152.6 646.3 1158.7 651.1C1164.8 655.8 1170.9 661.6 1177.1 667.3C1183.2 673.1 1189.3 679.5 1195.5 685.5C1201.6 691.6 1207.7 697.7 1213.9 703.8C1220 709.8 1226.1 716.2 1232.3 722C1238.4 727.7 1244.5 733.1 1250.6 738.2C1256.7 743.3 1262.8 748.1 1268.9 752.5C1275 756.9 1281.1 761 1287.2 764.8C1293.2 768.6 1299.3 771.9 1305.4 775.2C1311.4 778.5 1317.5 781.6 1323.5 784.6C1329.6 787.5 1335.6 790.5 1341.7 793C1347.7 795.4 1353.8 797.6 1359.8 799.4C1365.8 801.2 1371.8 802.6 1377.8 803.9C1383.9 805.2 1389.9 806.5 1395.9 807.4C1401.9 808.2 1407.9 808.7 1413.8 808.9C1419.8 809.1 1425.8 808.8 1431.8 808.5C1437.7 808.2 1444.2 807.7 1449.7 807.1C1455.2 806.4 1462.2 805 1464.7 804.6" fill="none" stroke="#1c1008" stroke-width="1.3" stroke-linecap="round" stroke-linejoin="round"/>
<path d="M1410.2 804.6C1414.1 804.8 1426.1 805.7 1434 806C1441.9 806.2 1450.7 806.3 1457.8 806C1464.9 805.8 1470.5 805.5 1476.8 804.7C1483.1 803.9 1489.5 802.8 1495.8 801.4C1502.1 799.9 1508.8 798.2 1514.7 796.1C1520.6 794 1525.9 791.7 1531.2 788.8C1536.4 785.9 1541.7 782.6 1546.4 778.8C1551 775.1 1555.3 770.9 1559.1 766.2C1563 761.6 1566.4 756.2 1569.5 750.9C1572.5 745.6 1575.2 740.3 1577.4 734.3C1579.6 728.2 1581.4 721.4 1582.8 714.9C1584.3 708.4 1585.3 702 1585.9 695.5C1586.5 689 1586.3 683 1586.6 676C1587 669 1588.2 660.3 1588 653.6C1587.8 647 1586.8 642 1585.4 636.1C1584 630.3 1582.1 624.4 1579.7 618.5C1577.2 612.7 1573.7 605.8 1570.7 600.8C1567.8 595.9 1563.4 590.9 1561.9 589" fill="none" stroke="#1c1008" stroke-width="1.3" stroke-linecap="round" stroke-linejoin="round"/>
<path d="M1410.3 812.4C1414.3 812.6 1426.6 813.5 1434.2 813.8C1441.7 814 1448.9 814 1455.6 813.8C1462.4 813.6 1468.3 813.2 1474.6 812.4C1481 811.6 1487.3 810.4 1493.6 809.1C1499.9 807.8 1506.2 806.6 1512.5 804.5C1518.8 802.4 1525.5 799.6 1531.4 796.6C1537.2 793.6 1542.7 790.4 1547.8 786.7C1552.8 782.9 1557.5 778.7 1561.7 774.1C1566 769.5 1569.8 764.6 1573.2 758.8C1576.7 753.1 1579.7 746.5 1582.3 739.6C1584.9 732.7 1587.3 725 1588.9 717.7C1590.5 710.4 1591.3 702.6 1591.9 695.7C1592.5 688.7 1592.5 683 1592.6 676.2C1592.6 669.4 1592.7 661.4 1592.3 654.9C1591.8 648.5 1591.5 643.5 1589.9 637.4C1588.4 631.4 1585.7 624.7 1583.1 618.6C1580.4 612.6 1577.1 605.9 1574.1 600.9C1571.2 596 1566.8 591 1565.3 589.1" fill="none" stroke="#1c1008" stroke-width="1.3" stroke-linecap="round" stroke-linejoin="round"/>
<path d="M1410.4 816C1414.4 816.3 1426.7 817.4 1434.3 817.7C1441.8 818 1449 817.9 1455.7 817.7C1462.5 817.5 1468.4 817 1474.7 816.3C1481.1 815.6 1487.2 815 1493.7 813.6C1500.2 812.3 1507.3 810.5 1513.8 808.4C1520.3 806.3 1526.8 804 1532.7 801.2C1538.5 798.3 1543.8 795.1 1549.1 791.3C1554.3 787.4 1559.8 782.8 1564.2 778.1C1568.7 773.3 1572.1 768.8 1575.7 762.8C1579.3 756.9 1583.1 749.6 1585.9 742.3C1588.7 735 1590.8 726.9 1592.5 719.1C1594.2 711.3 1595.3 702.9 1596 695.8C1596.8 688.7 1596.7 681.9 1596.7 676.3C1596.8 670.7 1596.6 667.7 1596.2 662C1595.7 656.3 1595.8 649.4 1594.1 642.2C1592.4 635 1588.9 625.6 1586 618.7C1583.2 611.9 1580 606 1577.1 601C1574.1 596.1 1569.8 591.1 1568.3 589.2" fill="none" stroke="#1c1008" stroke-width="1.3" stroke-linecap="round" stroke-linejoin="round"/>
<path d="M1412.2 745.1C1409.1 740.5 1398.3 726.7 1393.6 717.1C1388.8 707.5 1385.9 697.3 1383.8 687.4C1381.8 677.5 1381.1 667.7 1381.3 657.9C1381.5 648.1 1382.9 638.4 1385 628.6C1387.2 618.9 1390.1 609.2 1394.2 599.5C1398.3 589.8 1403.8 579.2 1409.6 570.6C1415.3 561.9 1421.4 554.3 1428.7 547.6C1436 541 1445.1 535 1453.4 530.7C1461.7 526.4 1470 523.6 1478.3 521.7C1486.6 519.8 1495 519.3 1503.3 519.5C1511.7 519.8 1520.1 520.8 1528.5 523.2C1537 525.6 1548.5 531.7 1553.9 533.8C1559.4 535.9 1556.9 534.1 1561.2 536C1565.4 537.9 1573.4 542.4 1579.3 545.4C1585.2 548.3 1591.1 549.5 1596.6 553.7C1602.1 558 1607.6 564.1 1612.3 570.9C1616.9 577.7 1621.4 587.2 1624.5 594.8C1627.7 602.4 1629.8 609 1631.4 616.6C1633 624.1 1633.7 634 1634.1 640.2C1634.6 646.4 1634.6 645.1 1634.1 653.9C1633.7 662.7 1633.3 680 1631.5 693.1C1629.8 706.1 1627.1 719.7 1623.6 732C1620 744.3 1614.8 757.2 1610.1 766.9C1605.4 776.6 1597.9 786.1 1595.4 790" fill="none" stroke="#1c1008" stroke-width="1.3" stroke-linecap="round" stroke-linejoin="round"/>
<path d="M924.1 782.4C924.3 784.4 924.7 789.6 925.6 794.2C926.5 798.8 927.8 805 929.6 810.1C931.3 815.1 933.2 819.8 935.9 824.6C938.6 829.5 941.9 834.7 945.9 839.3C949.8 843.9 953.9 848.3 959.3 852.3C964.8 856.3 971.9 860.7 978.8 863.3C985.6 865.9 993.2 867.5 1000.4 867.9C1007.6 868.4 1014.7 867.5 1021.9 866C1029 864.4 1036.5 862 1043.2 858.8C1049.9 855.5 1056.6 851.1 1062 846.3C1067.5 841.4 1071.9 835.8 1076 829.7C1080 823.6 1083.9 816.9 1086.2 809.6C1088.5 802.4 1089.5 793.6 1089.7 786.2C1089.9 778.8 1089.1 771.9 1087.5 765.2C1085.8 758.5 1083.1 751.8 1079.8 745.9C1076.5 740.1 1071.3 733.8 1067.4 730.1C1063.6 726.4 1059.8 724.9 1056.5 723.8C1053.2 722.7 1048.9 723.5 1047.4 723.5" fill="none" stroke="#1c1008" stroke-width="1.3" stroke-linecap="round" stroke-linejoin="round"/>
<path d="M1426 677.7C1426.5 675.4 1427.2 668.2 1428.9 663.8C1430.5 659.4 1433.1 655.3 1436 651.3C1438.9 647.3 1442.5 643 1446.3 640C1450.2 637 1454.7 635 1458.9 633.4C1463.1 631.8 1467.3 630.7 1471.6 630.3C1475.8 630 1480.6 630.4 1484.4 631.3C1488.1 632.2 1491.2 633.9 1494 635.7C1496.9 637.4 1498.9 638.9 1501.6 641.7C1504.4 644.5 1507.8 648.7 1510.4 652.4C1513 656.2 1515.3 660.3 1517.1 664.2C1518.9 668.2 1520.2 672.1 1521.1 676C1522 679.9 1522.4 683.9 1522.5 687.6C1522.5 691.3 1522.2 694.6 1521.7 698.1C1521.1 701.5 1520.5 704.6 1519.3 708.4C1518 712.3 1516.8 716.7 1514.3 721.1C1511.7 725.4 1507.4 730.9 1504 734.7C1500.5 738.4 1497.1 741.2 1493.6 743.6C1490.1 746.1 1486.6 747.4 1483.1 749.1C1479.6 750.9 1476.1 752.7 1472.6 754C1469.1 755.4 1465.6 756.4 1462.1 757.2C1458.5 758 1455 758.5 1451.5 758.6C1447.9 758.7 1444.4 758.4 1440.8 757.7C1437.3 757 1433.7 755.8 1430.1 754.5C1426.5 753.1 1422.4 751.1 1419.4 749.5C1416.4 747.9 1413.4 745.8 1412.2 745.1" fill="none" stroke="#1c1008" stroke-width="1.3" stroke-linecap="round" stroke-linejoin="round"/>
<path d="M1426 677.7C1426.2 679.6 1426.2 685.4 1426.9 689.3C1427.5 693.2 1428.4 697.3 1429.8 701C1431.2 704.8 1433.2 708.5 1435.4 711.7C1437.6 714.8 1440.2 717.9 1443.1 720C1445.9 722.1 1449.3 723.5 1452.7 724.4C1456.1 725.3 1460.2 724.5 1463.4 725.3C1466.6 726.1 1469.5 727.2 1472 729C1474.5 730.9 1476.8 733.6 1478.5 736.2C1480.3 738.8 1481.6 742.3 1482.5 744.5C1483.3 746.6 1483.3 748.4 1483.4 749.1" fill="none" stroke="#1c1008" stroke-width="1.3" stroke-linecap="round" stroke-linejoin="round"/>
<path d="M1423.4 659C1424.1 656 1425.2 646.3 1427.2 640.6C1429.2 634.8 1431.9 629.3 1435.3 624.6C1438.7 619.8 1443.2 615.4 1447.7 612.2C1452.3 608.9 1457.5 606.7 1462.4 605.1C1467.4 603.5 1472.7 603.1 1477.3 602.6C1481.8 602.2 1486.1 602.1 1490 602.4C1493.9 602.7 1497.1 603.1 1500.7 604.5C1504.3 605.9 1508.2 608 1511.5 610.6C1514.7 613.3 1517.6 616.6 1520.2 620.2C1522.8 623.8 1525 627.7 1526.9 632C1528.8 636.3 1530.4 641.4 1531.5 646.1C1532.6 650.8 1533.2 655.4 1533.4 660.1C1533.6 664.7 1533.4 669.6 1532.7 674C1532 678.4 1530.7 682.7 1529.3 686.7C1527.9 690.7 1525.4 695.5 1524.3 698.1C1523.2 700.8 1523.1 702 1522.8 702.7" fill="none" stroke="#1c1008" stroke-width="1.3" stroke-linecap="round" stroke-linejoin="round"/>
<path d="M1425.6 660.3C1426.3 657.2 1427.9 647.4 1429.9 641.8C1431.9 636.3 1434.2 631.4 1437.5 626.9C1440.8 622.5 1445.4 618.3 1449.9 615.1C1454.5 612 1459.9 609.6 1464.6 608C1469.4 606.4 1474.2 606 1478.4 605.6C1482.6 605.1 1486.3 604.9 1490.1 605.3C1493.8 605.7 1497.5 606.5 1500.8 608C1504 609.4 1506.7 611.7 1509.4 614.1C1512.1 616.5 1514.9 619.1 1517.1 622.4C1519.3 625.8 1521.2 630.3 1522.7 634.2C1524.2 638.1 1525.4 641.6 1526.2 645.9C1527 650.2 1527.5 655.3 1527.6 659.9C1527.7 664.6 1527.5 669.4 1526.9 673.8C1526.3 678.3 1524.7 683.4 1524 686.5C1523.3 689.6 1522.8 691.3 1522.6 692.3" fill="none" stroke="#1c1008" stroke-width="1.3" stroke-linecap="round" stroke-linejoin="round"/>
<path d="M1425.2 655.3C1426.1 651.5 1428.2 639.8 1430.9 632C1433.5 624.2 1437 615.7 1441 608.8C1445 601.9 1449.7 596 1454.9 590.6C1460.2 585.2 1466.3 580.1 1472.5 576.4C1478.7 572.7 1485.5 569.9 1492 568.2C1498.6 566.4 1505.4 565.8 1511.7 565.8C1518 565.9 1523.7 566.5 1529.7 568.4C1535.7 570.2 1542.1 573 1547.8 576.8C1553.6 580.5 1560.9 588.9 1564.4 591C1567.8 593.1 1567.6 589.5 1568.3 589.2" fill="none" stroke="#1c1008" stroke-width="1.3" stroke-linecap="round" stroke-linejoin="round"/>
<path d="M1429.7 657.4C1430.8 653.6 1433.2 641.7 1435.9 634.1C1438.7 626.5 1442.2 618.4 1446.1 611.9C1450.1 605.3 1454.5 599.7 1459.5 594.6C1464.5 589.6 1470.5 584.8 1476.2 581.4C1482 578 1488 575.7 1494 574.1C1499.9 572.6 1506.2 572 1511.9 572.1C1517.5 572.2 1522.6 572.8 1528.1 574.6C1533.5 576.3 1538.8 580.1 1544.4 582.5C1550 584.9 1559 587.9 1561.9 589" fill="none" stroke="#1c1008" stroke-width="1.3" stroke-linecap="round" stroke-linejoin="round"/>
<path d="M999.4 686.7C996.4 689.7 986.7 698.1 981.9 704.5C977.1 710.9 973.2 717.7 970.4 725C967.6 732.4 965.9 741.2 965.1 748.4C964.2 755.6 965 761.5 965.6 768C966.1 774.6 966.7 781.3 968.5 787.7C970.2 794.1 973 800.7 976.1 806.3C979.2 811.8 982.9 816.9 987.2 821C991.5 825 996.8 828.5 1001.8 830.6C1006.9 832.7 1012.7 833.4 1017.5 833.7C1022.2 833.9 1028.4 832.4 1030.6 832.1" fill="none" stroke="#1c1008" stroke-width="1.3" stroke-linecap="round" stroke-linejoin="round"/>
<path d="M991 733.5C992.3 731.8 996.2 726.5 999.1 723.3C1002 720.1 1004.9 716.7 1008.4 714.4C1012 712.2 1017.5 711.2 1020.3 709.6C1023 707.9 1023 705.5 1024.9 704.5C1026.9 703.5 1028.9 702.9 1032.1 703.4C1035.3 703.9 1040.1 705.4 1044.1 707.7C1048.2 710 1052.5 713.6 1056.3 717.2C1060.2 720.8 1065.6 727.3 1067.4 729.3" fill="none" stroke="#1c1008" stroke-width="1.3" stroke-linecap="round" stroke-linejoin="round"/>
<path d="M958.9 787.4C958.8 784.2 958.3 774.3 958.4 767.8C958.4 761.3 958.1 755.8 959.1 748.2C960.1 740.6 961.4 730.4 964.4 722.2C967.4 714 971.8 706.1 977 699.1C982.2 692.1 988.6 685.3 995.6 680.1C1002.6 674.8 1011.3 670.7 1019.2 667.7C1027.1 664.8 1035 663.2 1043 662.4C1050.9 661.7 1058.9 662.1 1066.9 663.2C1074.9 664.2 1082.9 666.1 1091 668.6C1099 671.2 1107.1 674.3 1115.2 678.5C1123.2 682.7 1131.3 687.9 1139.5 693.6C1147.6 699.3 1158.1 707.9 1163.9 712.7C1169.6 717.4 1170.2 719.8 1174.1 722.1C1178.1 724.4 1181.3 721.4 1187.5 726.5C1193.8 731.6 1204.7 745.3 1211.5 752.7C1218.3 760.1 1225.4 767.8 1228.1 770.9" fill="none" stroke="#1c1008" stroke-width="1.3" stroke-linecap="round" stroke-linejoin="round"/>
<path d="M963.6 768C963.9 764.7 963.9 755.6 965.1 748.4C966.2 741.2 967.6 732.4 970.4 725C973.2 717.7 977.1 710.9 981.9 704.5C986.7 698.1 992.7 691.7 999.4 686.7C1006 681.7 1014.5 677.2 1021.8 674.3C1029.1 671.5 1035.6 670.3 1043.2 669.8C1050.7 669.2 1059.1 669.8 1067.1 671C1075.1 672.2 1083.2 674.2 1091.2 677C1099.2 679.8 1107.3 683.4 1115.4 687.7C1123.5 692 1131.6 697.1 1139.7 702.8C1147.8 708.5 1158.3 717.1 1164.1 721.8C1169.9 726.6 1170.4 729.2 1174.4 731.3C1178.3 733.4 1181.5 730.1 1187.7 734.3C1193.9 738.5 1204.9 750.5 1211.6 756.6C1218.3 762.7 1225.4 768.5 1228.1 770.9" fill="none" stroke="#1c1008" stroke-width="1.3" stroke-linecap="round" stroke-linejoin="round"/>
<path d="M1662.8 746C1661.7 744.5 1658.5 741.4 1656 736.9C1653.4 732.4 1649.8 725.3 1647.4 719C1645 712.7 1643.2 706.8 1641.6 699.2C1639.9 691.7 1638.4 682.8 1637.3 673.6C1636.3 664.4 1634.8 656.7 1635.3 644.1C1635.8 631.6 1639.3 610.4 1640.4 598.5C1641.6 586.5 1640.8 581.1 1642.1 572.5C1643.5 563.9 1645.7 554.8 1648.6 546.7C1651.6 538.5 1655.6 530.6 1659.9 523.6C1664.3 516.6 1669.3 510.2 1674.9 504.6C1680.5 498.9 1687 493.9 1693.6 489.5C1700.2 485.2 1707.3 481.5 1714.7 478.5C1722.2 475.4 1730.5 473 1738.4 471.4C1746.3 469.8 1754.2 469 1762.1 468.9C1770 468.7 1778.4 469 1785.9 470.2C1793.5 471.4 1800.7 473.5 1807.5 476.1C1814.3 478.7 1820.6 481.7 1826.8 485.8C1833.1 489.9 1839.5 495.3 1845 500.7C1850.5 506.1 1855.4 511.8 1859.8 518C1864.1 524.2 1867.8 530.9 1871 537.9C1874.1 544.9 1876.9 553.3 1878.7 560.3C1880.5 567.3 1881.2 573.3 1881.6 579.9C1881.9 586.4 1881.7 592.9 1880.9 599.4C1880.1 605.8 1878.1 613.4 1876.6 618.7C1875.2 624.1 1872.4 629.6 1872.2 631.6C1872 633.7 1874.8 631 1875.3 630.9" fill="none" stroke="#1c1008" stroke-width="1.3" stroke-linecap="round" stroke-linejoin="round"/>
<path d="M1838.3 585C1838.1 582.9 1838.1 576.8 1837.3 572C1836.5 567.2 1835.5 561.3 1833.4 556.3C1831.2 551.2 1828.3 546.1 1824.7 541.7C1821 537.2 1816.1 533 1811.3 529.6C1806.4 526.2 1801.2 523.4 1795.6 521.3C1790 519.2 1783.8 517.7 1777.6 516.8C1771.4 516 1764.9 515.6 1758.5 516.2C1752.2 516.9 1745.9 518.5 1739.6 520.9C1733.3 523.3 1726.7 526.5 1720.8 530.7C1715 534.8 1709.4 540.1 1704.5 545.8C1699.7 551.5 1695.5 558.1 1691.9 564.9C1688.3 571.8 1685.3 578.8 1683 586.8C1680.6 594.7 1678.8 604 1677.7 612.6C1676.5 621.3 1676 634.8 1676 638.6C1675.9 642.4 1676.3 631.7 1677.3 635.5C1678.2 639.4 1679.5 653.6 1681.5 661.7C1683.5 669.8 1686.1 676.8 1689.2 684C1692.4 691.3 1696.1 698.8 1700.5 705.2C1704.8 711.6 1709.7 717.7 1715.2 722.6C1720.7 727.4 1727.3 731.3 1733.3 734.2C1739.4 737.1 1745.4 738.7 1751.4 740C1757.3 741.2 1763.3 741.7 1769.3 741.8C1775.2 741.9 1781.1 741.3 1787.1 740.4C1793 739.5 1798.9 738.1 1804.8 736.4C1810.7 734.7 1816.6 733 1822.5 730.4C1828.4 727.9 1834.3 724.6 1840.1 721.2C1846 717.8 1851.9 714.2 1857.7 710C1863.6 705.9 1869.4 701.1 1875.2 696.3C1881 691.5 1886.9 686.2 1892.7 681.2C1898.5 676.2 1903.9 671.4 1910.1 666.2C1916.2 661 1920.7 657.4 1929.7 650.1C1938.7 642.7 1953 633.1 1964 622.2C1975 611.4 1984.7 598.2 1995.6 584.9C2006.4 571.7 2019.8 554.3 2029.2 542.7C2038.5 531.1 2044 525 2051.5 515.5C2058.9 506 2067 494.8 2073.7 485.7C2080.3 476.6 2088.5 465 2091.4 460.8" fill="none" stroke="#1c1008" stroke-width="1.3" stroke-linecap="round" stroke-linejoin="round"/>
<path d="M1675.6 638.1C1676.3 642.7 1677.8 657 1679.8 665.5C1681.8 674.1 1684.4 681.7 1687.6 689.2C1690.7 696.7 1694.4 703.8 1698.8 710.4C1703.3 716.9 1708.8 723.4 1714.2 728.4C1719.5 733.4 1724.9 737.5 1731.1 740.6C1737.4 743.8 1744.6 745.7 1751.5 747.1C1758.5 748.5 1766.1 749.1 1773 749.1C1780 749.1 1786.9 748.1 1793.2 747.1C1799.5 746.1 1805 744.7 1810.9 743.1C1816.9 741.4 1822.8 739.7 1828.6 737.1C1834.5 734.6 1840.4 731.3 1846.3 727.9C1852.1 724.5 1858 720.9 1863.8 716.7C1869.7 712.6 1875.5 707.8 1881.3 703C1887.2 698.2 1893 692.9 1898.8 687.9C1904.6 682.9 1911 677.5 1916.2 672.9C1921.3 668.4 1927.7 662.6 1930 660.5" fill="none" stroke="#1c1008" stroke-width="1.3" stroke-linecap="round" stroke-linejoin="round"/>
<path d="M1762.6 586.7C1764.8 584.8 1770.9 578.2 1775.6 575.3C1780.3 572.4 1786 570.5 1790.9 569.3C1795.8 568.2 1800.7 568.1 1805 568.4C1809.4 568.7 1813.3 569.9 1817.1 571.3C1820.9 572.7 1824.6 574.4 1827.9 576.9C1831.1 579.4 1834 582.7 1836.5 586.2C1839 589.8 1841.3 594 1842.8 598.2C1844.2 602.4 1845.1 606.4 1845.4 611.4C1845.8 616.4 1845.6 622.9 1844.8 628.2C1843.9 633.6 1841.1 641 1840.3 643.6" fill="none" stroke="#1c1008" stroke-width="1.3" stroke-linecap="round" stroke-linejoin="round"/>
<path d="M1840.3 643.6C1838.8 645.7 1835 652.7 1831.5 656.1C1828 659.4 1823.2 661.2 1819.1 663.5C1815 665.8 1810.2 667.1 1806.7 670C1803.2 672.9 1800.2 677.1 1798 680.9C1795.9 684.8 1794.6 691.1 1793.9 693.1" fill="none" stroke="#1c1008" stroke-width="1.3" stroke-linecap="round" stroke-linejoin="round"/>
<path d="M1762.6 586.7C1761.1 589.4 1755.7 597.1 1753.4 602.7C1751 608.3 1749.4 614.3 1748.4 620.2C1747.5 626 1747.2 631.9 1747.6 637.8C1748 643.7 1749.1 649.9 1750.8 655.5C1752.4 661.1 1754.6 666.8 1757.4 671.4C1760.2 676.1 1763.8 680.2 1767.6 683.5C1771.4 686.8 1776.3 689.6 1780.4 691.2C1784.4 692.7 1790.1 692.8 1792.1 693.1" fill="none" stroke="#1c1008" stroke-width="1.3" stroke-linecap="round" stroke-linejoin="round"/>
<path d="M1792.1 693.1C1794.3 692.6 1800.9 691.6 1805.5 690.2C1810 688.7 1814.3 687 1819.6 684.1C1825 681.2 1831.7 677.3 1837.3 672.9C1842.9 668.5 1848.4 662.6 1853.1 657.7C1857.7 652.8 1861.5 648.2 1865.3 643.8C1869 639.3 1873.7 633.1 1875.3 630.9" fill="none" stroke="#1c1008" stroke-width="1.3" stroke-linecap="round" stroke-linejoin="round"/>
<path d="M1931.4 671.2C1938.3 662.7 1960.7 635.3 1973.3 620.1C1985.9 605 1995.8 593.8 2007 580.4C2018.3 566.9 2031.3 551.1 2040.6 539.5C2049.9 527.9 2055.4 520.5 2062.8 511C2070.3 501.5 2078.8 490.8 2085.1 482.5C2091.4 474.3 2095.6 467.4 2100.6 461.4C2105.6 455.4 2110.7 451.1 2115 446.7C2119.2 442.2 2122.4 438.4 2126.2 434.8C2130 431.2 2133.7 427.9 2137.5 425.1C2141.3 422.3 2145.4 419.2 2148.9 418C2152.3 416.7 2156.6 417.6 2158.1 417.5" fill="none" stroke="#1c1008" stroke-width="1.3" stroke-linecap="round" stroke-linejoin="round"/>
<path d="M2158.1 418C2160.8 416.5 2168.4 411.3 2174.1 409C2179.9 406.8 2186.4 405.5 2192.6 404.4C2198.8 403.2 2205 402.7 2211.2 402.2C2217.4 401.8 2222.8 401 2229.9 401.6C2236.9 402.3 2246.4 404.1 2253.5 406.1C2260.6 408.1 2266.2 410.1 2272.6 413.4C2279 416.7 2285.5 421.1 2292 425.9C2298.4 430.7 2305 436.3 2311.5 442.2C2318 448.1 2324.6 454.8 2331.1 461.1C2337.6 467.4 2344.2 474.4 2350.7 480C2357.2 485.7 2363.8 490.9 2370.2 495C2376.7 499.1 2383.2 502.4 2389.6 504.7C2396.1 507.1 2402.5 508.6 2408.9 509.2C2415.3 509.9 2422.4 509.4 2428 508.5C2433.5 507.7 2437.9 505.7 2442.2 504.3C2446.6 502.8 2452.1 500.4 2454.1 499.7" fill="none" stroke="#1c1008" stroke-width="1.3" stroke-linecap="round" stroke-linejoin="round"/>
<path d="M2461.6 400.5C2461.9 403 2461.8 411 2463.4 415.5C2465 420 2468 423.3 2471.4 427.5C2474.7 431.7 2480.4 436.1 2483.7 441C2486.9 445.8 2489.7 451.2 2490.8 456.9C2491.8 462.6 2491.2 469.6 2489.8 475.1C2488.4 480.7 2485.7 486.2 2482.5 490.1C2479.4 494 2475.5 497 2470.8 498.6C2466 500.2 2456.8 499.5 2454.1 499.7" fill="none" stroke="#1c1008" stroke-width="1.3" stroke-linecap="round" stroke-linejoin="round"/>
<path d="M2461.6 400.5C2459.1 400.8 2451.6 400 2446.8 401.9C2442 403.8 2436.6 407.5 2432.7 411.9C2428.8 416.4 2425.5 422.4 2423.6 428.7C2421.6 434.9 2420.8 442.5 2421.2 449.5C2421.6 456.5 2423.2 464.1 2425.8 470.5C2428.5 476.9 2432.3 483 2437 487.9C2441.7 492.7 2451.2 497.7 2454.1 499.7" fill="none" stroke="#1c1008" stroke-width="1.3" stroke-linecap="round" stroke-linejoin="round"/>
<path d="M2461.6 400.5C2464.3 401.1 2472.8 402 2477.9 404.2C2483.1 406.4 2488.1 409.9 2492.5 413.8C2497 417.6 2501.1 422.1 2504.8 427.2C2508.6 432.3 2512.2 438.6 2514.8 444.5C2517.5 450.5 2519.6 456.4 2520.6 463C2521.5 469.6 2521.5 477 2520.6 483.9C2519.7 490.9 2517.6 498.2 2515.2 504.7C2512.8 511.1 2509.7 517.1 2506.1 522.7C2502.4 528.2 2498.2 533.3 2493.3 538C2488.4 542.6 2482.8 547.2 2476.9 550.5C2471 553.9 2464.7 556.1 2457.9 557.8C2451.2 559.6 2443.7 560.9 2436.5 561.1C2429.3 561.3 2421.7 560.4 2414.9 559.1C2408.1 557.8 2402.1 555.9 2395.6 553.3C2389.2 550.7 2382.3 547.2 2376.3 543.5C2370.2 539.9 2364.5 535.1 2359.2 531.2C2353.9 527.4 2349 523 2344.6 520.3C2340.1 517.7 2335.9 516 2332.5 515.3C2329.1 514.5 2325.5 515.7 2324.1 515.8" fill="none" stroke="#1c1008" stroke-width="1.3" stroke-linecap="round" stroke-linejoin="round"/>
<path d="M2324.1 515.8C2324.2 519.1 2325.1 528.7 2324.6 535.4C2324.2 542.2 2323.4 549.3 2321.6 556.2C2319.8 563.1 2317.1 570 2313.7 576.9C2310.3 583.8 2305.9 591.3 2301.1 597.4C2296.3 603.6 2291.1 609.1 2284.8 613.9C2278.6 618.6 2271.2 623.1 2263.8 626.1C2256.4 629 2248.3 631.1 2240.4 631.6C2232.6 632.1 2224.4 631 2217 629.1C2209.5 627.2 2202.1 623.9 2195.8 620.1C2189.5 616.2 2183.6 611.3 2179.2 606.1C2174.7 600.8 2171.5 594.9 2169 588.5C2166.4 582 2164.7 574.3 2163.8 567.3C2162.8 560.2 2162.8 553.3 2163.3 546.3C2163.7 539.4 2164.8 531.6 2166.7 525.6C2168.5 519.7 2171.2 514.4 2174.4 510.4C2177.6 506.5 2182.3 502.2 2185.8 501.9C2189.3 501.7 2193.7 507.8 2195.3 509" fill="none" stroke="#1c1008" stroke-width="1.3" stroke-linecap="round" stroke-linejoin="round"/>
<path d="M2195.3 509C2196.5 509.7 2201.1 510.9 2202.8 513.4C2204.5 515.8 2205.7 520.2 2205.4 523.9C2205.1 527.7 2202.9 532.2 2201.1 536C2199.2 539.8 2196 542.7 2194.4 546.8C2192.8 551 2191.6 556.1 2191.5 561.1C2191.3 566.1 2191.8 571.7 2193.5 576.8C2195.2 581.9 2197.8 587.7 2201.6 591.7C2205.4 595.7 2211.7 599.3 2216.3 600.8C2220.8 602.4 2227 600.9 2229.1 601" fill="none" stroke="#1c1008" stroke-width="1.3" stroke-linecap="round" stroke-linejoin="round"/>
<path d="M2195.3 509C2197.6 507.8 2204 503.4 2209.1 501.9C2214.1 500.5 2219.9 499.5 2225.4 500.2C2230.9 500.9 2237 503.1 2241.9 506.2C2246.9 509.3 2251.7 513.6 2255.2 518.6C2258.7 523.5 2261.3 529.9 2262.7 535.9C2264.2 541.8 2264.5 548.2 2263.9 554.2C2263.3 560.3 2261.5 566.8 2258.9 572.3C2256.4 577.9 2252.7 583.1 2248.7 587.5C2244.7 591.9 2238.2 596.4 2234.9 598.6C2231.6 600.9 2230.1 600.6 2229.1 601" fill="none" stroke="#1c1008" stroke-width="1.3" stroke-linecap="round" stroke-linejoin="round"/>
<path d="M2120.1 465.3C2125 463 2139.8 455 2149.7 451.5C2159.7 447.9 2170 445.5 2179.7 444.1C2189.3 442.7 2199 442.2 2207.6 443.1C2216.1 444 2223.6 446.3 2231.1 449.5C2238.6 452.7 2246.2 457.4 2252.6 462.3C2259 467.1 2264.7 472.4 2269.5 478.7C2274.4 485 2278.8 492.5 2281.9 500C2285.1 507.6 2287.2 515.9 2288.5 523.8C2289.8 531.7 2290.4 539.6 2289.8 547.4C2289.2 555.2 2287.5 563.9 2284.9 570.7C2282.4 577.6 2279.1 583.6 2274.7 588.6C2270.3 593.7 2264.3 598.2 2258.5 601C2252.7 603.8 2242.9 604.7 2239.8 605.4" fill="none" stroke="#1c1008" stroke-width="1.3" stroke-linecap="round" stroke-linejoin="round"/>
<path d="M2194.5 478.1C2196.7 473.4 2201.6 453.4 2207.7 449.6C2213.9 445.8 2224.2 452.3 2231.3 455.3C2238.4 458.2 2244.6 462.9 2250.4 467.4C2256.2 471.9 2261.6 476.7 2266.1 482.4C2270.6 488.2 2274.4 494.9 2277.2 502C2280.1 509 2282.1 517.4 2283.3 524.9C2284.5 532.5 2285.1 539.8 2284.6 547.2C2284 554.6 2282.5 562.9 2280.1 569.2C2277.8 575.6 2274.4 580.8 2270.4 585.3C2266.3 589.8 2261.1 593.8 2256 596.2C2250.9 598.6 2244.1 598.9 2239.6 599.6C2235.2 600.4 2230.9 600.7 2229.1 601" fill="none" stroke="#1c1008" stroke-width="1.3" stroke-linecap="round" stroke-linejoin="round"/>
<path d="M2194.6 484.2C2195.6 484 2196.5 482.7 2200.4 483.2C2204.3 483.6 2211.9 484.9 2218 486.7C2224.1 488.6 2231 491.1 2236.9 494.2C2242.9 497.3 2248.9 501.1 2253.7 505.4C2258.5 509.8 2263.8 517.8 2265.9 520.3" fill="none" stroke="#1c1008" stroke-width="1.3" stroke-linecap="round" stroke-linejoin="round"/>
<path d="M1596.6 552.8C1594.5 549.1 1588 537.8 1584.3 530.8C1580.7 523.9 1577.1 517.5 1574.9 510.9C1572.7 504.3 1571.4 497.4 1571.1 491.2C1570.8 485 1571.4 479.1 1573 473.6C1574.6 468.1 1577.4 462.5 1580.7 458.2C1584 453.9 1588.6 450.3 1593 447.8C1597.4 445.2 1602.5 443.6 1607.2 442.9C1612 442.2 1617.1 442.6 1621.6 443.7C1626.1 444.9 1630.3 447.1 1634.3 450C1638.3 452.9 1642.3 456.8 1645.4 461.1C1648.5 465.5 1651.1 470.6 1652.9 476.1C1654.7 481.5 1655.8 488.2 1656.1 493.8C1656.3 499.4 1655.6 504.6 1654.7 509.5C1653.7 514.3 1652.2 517.9 1650.5 523.1C1648.9 528.2 1646.4 535.7 1644.7 540.5C1643 545.4 1641.2 550.2 1640.5 552.2" fill="none" stroke="#1c1008" stroke-width="1.3" stroke-linecap="round" stroke-linejoin="round"/>
<path d="M1597.1 537.1C1595.5 534.1 1589.9 524.8 1587.6 519.2C1585.3 513.5 1583.9 508.6 1583.3 503.3C1582.7 498.1 1583 492.5 1584.1 487.7C1585.3 482.8 1587.3 477.8 1590.1 474.1C1592.8 470.5 1596.8 467.5 1600.6 465.6C1604.5 463.8 1608.9 463 1613.1 463.1C1617.3 463.2 1621.8 464.3 1625.8 466.4C1629.7 468.5 1633.8 471.7 1636.8 475.6C1639.7 479.4 1642 484.6 1643.4 489.5C1644.8 494.4 1645.2 500 1645 505.2C1644.9 510.5 1643.5 516.3 1642.4 520.8C1641.2 525.4 1638.9 530.5 1638.2 532.5" fill="none" stroke="#1c1008" stroke-width="1.3" stroke-linecap="round" stroke-linejoin="round"/>
<path d="M1594.2 531.1C1593.4 528.5 1590.4 520.6 1589.3 515.3C1588.3 510 1587.7 504.5 1588 499.6C1588.4 494.7 1589.4 490 1591.3 485.9C1593.1 481.9 1596 478.1 1599.1 475.4C1602.1 472.7 1606.1 470.7 1609.7 469.8C1613.3 469 1617 469.1 1620.5 470.2C1623.9 471.3 1627.6 473.5 1630.5 476.4C1633.4 479.2 1636.2 483.2 1637.9 487.4C1639.7 491.5 1640.7 496.3 1641 501.2C1641.3 506.1 1640.2 512 1639.6 516.8C1639 521.7 1637.6 528.2 1637.3 530.5" fill="none" stroke="#1c1008" stroke-width="1.3" stroke-linecap="round" stroke-linejoin="round"/>
<path d="M1596.6 552.8C1599.2 555.8 1607.6 563.9 1612.3 570.9C1616.9 577.9 1621.4 587.2 1624.5 594.8C1627.7 602.4 1629.8 609 1631.4 616.6C1633 624.1 1633.7 636.3 1634.1 640.2" fill="none" stroke="#1c1008" stroke-width="1.3" stroke-linecap="round" stroke-linejoin="round"/>
<path d="M1640.5 552.2C1640.1 557 1638.7 571.7 1638 581.5C1637.3 591.3 1636.7 601.1 1636.3 610.8C1635.8 620.6 1635.4 635.3 1635.2 640.2" fill="none" stroke="#1c1008" stroke-width="1.3" stroke-linecap="round" stroke-linejoin="round"/>
<path d="M1640 742.3C1640.9 744.6 1644.1 751.6 1645.7 756.2C1647.3 760.9 1649.2 765.8 1649.6 770.1C1650 774.3 1649.2 778.2 1648.1 781.8C1647 785.4 1645.3 788.9 1643 791.4C1640.7 794 1637.1 796 1634.2 797.1C1631.2 798.1 1628.1 798.5 1625.2 797.8C1622.4 797 1619.3 794.8 1617 792.6C1614.7 790.4 1612.7 787.6 1611.4 784.6C1610.2 781.6 1609.3 778 1609.4 774.7C1609.5 771.5 1611.4 766.6 1611.8 765" fill="none" stroke="#1c1008" stroke-width="1.3" stroke-linecap="round" stroke-linejoin="round"/>
<path d="M1641.9 748.3C1642.6 750.3 1644.9 756.2 1645.8 760.2C1646.6 764.1 1647.2 768.4 1647 772C1646.8 775.5 1645.8 778.8 1644.6 781.7C1643.3 784.6 1641.4 787.6 1639.4 789.4C1637.3 791.1 1634.6 791.7 1632.3 792.1C1629.9 792.5 1627.3 792.6 1625.1 791.9C1622.8 791.1 1620.5 789.6 1618.7 787.8C1616.9 785.9 1615.3 783.2 1614.4 780.8C1613.5 778.3 1613.3 775.5 1613.5 772.9C1613.6 770.3 1615.1 766.4 1615.4 765.1" fill="none" stroke="#1c1008" stroke-width="1.3" stroke-linecap="round" stroke-linejoin="round"/>
<path d="M1054.2 725C1053 726 1048.7 728.7 1047.1 731.3C1045.6 733.9 1044.9 737.3 1045 740.4C1045.1 743.4 1045.9 746.7 1047.6 749.6C1049.3 752.5 1052.7 754.8 1055 757.7C1057.3 760.6 1059.6 763.7 1061.2 767C1062.8 770.4 1064 773.7 1064.5 777.6C1065 781.5 1065 786.3 1064.2 790.7C1063.4 795 1062 799.7 1059.7 803.6C1057.4 807.4 1054.2 811 1050.4 813.8C1046.7 816.5 1042 818.7 1037.4 819.9C1032.9 821.1 1027.5 821.3 1023.1 820.8C1018.7 820.2 1014.7 818.8 1011 816.5C1007.4 814.2 1004.1 811.7 1001.2 807C998.3 802.4 995.2 794.9 993.6 788.5C991.9 782.1 991.2 774.9 991.3 768.8C991.3 762.7 992.3 756.2 993.8 751.9C995.4 747.6 997.3 746.6 1000.8 743C1004.3 739.4 1009.5 733.5 1014.8 730.3C1020.1 727.1 1026.6 724.8 1032.6 723.7C1038.5 722.6 1047.5 723.6 1050.5 723.6Z" fill="none" stroke="#1c1008" stroke-width="1.3" stroke-linecap="round" stroke-linejoin="round"/>
</g>
<path d="M1428.3 666.7C1428.2 663.3 1426.8 653.1 1427.3 646.7C1427.9 640.3 1430 632.8 1431.7 628.3C1433.3 623.9 1434.3 621.9 1437.3 620C1440.4 618.1 1446.3 616.8 1450 616.7C1453.7 616.6 1454.3 618.1 1459.3 619.3C1464.3 620.6 1473.2 622.1 1480 624C1486.8 625.9 1494.4 628 1500 630.7C1505.6 633.3 1509.6 635.7 1513.3 640C1517.1 644.3 1520.9 651.1 1522.7 656.7C1524.4 662.2 1525 673.9 1524 673.3C1523 672.8 1520.1 659.2 1516.7 653.3C1513.2 647.5 1508.3 642.2 1503.3 638.3C1498.3 634.4 1492.8 631.7 1486.7 630C1480.6 628.3 1473.3 627.8 1466.7 628.3C1460 628.9 1452.2 630.3 1446.7 633.3C1441.1 636.4 1435.6 644.4 1433.3 646.7Z" fill="#f2d6ae" stroke="#1c1008" stroke-width="1.3"/>
<path d="M1459.3 619.3C1461.7 618.1 1468.5 613.3 1473.3 612C1478.2 610.7 1483.6 610.4 1488.3 611.3C1493.1 612.2 1498.2 614.3 1501.7 617.3C1505.2 620.3 1510.2 627.3 1509.3 629.3C1508.5 631.3 1501.6 630.2 1496.7 629.3C1491.8 628.4 1482.8 624.9 1480 624Z" fill="#fff" stroke="#1c1008" stroke-width="1.3"/>
<path d="M1720.7 567.7C1718.6 568.6 1712.1 570.7 1708.3 573.3C1704.6 575.9 1701.4 578.9 1698.3 583.3C1695.3 587.8 1691.9 592.8 1690 600C1688.1 607.2 1686.4 617.8 1686.7 626.7C1686.9 635.6 1689.2 645.6 1691.7 653.3C1694.2 661.1 1697.6 668.3 1701.7 673.3C1705.7 678.3 1714.9 685 1716 683.3C1717.1 681.7 1710.4 670.6 1708.3 663.3C1706.2 656.1 1704.2 647.8 1703.3 640C1702.5 632.2 1702.5 624.4 1703.3 616.7C1704.2 608.9 1706.1 600 1708.3 593.3C1710.6 586.7 1715.3 579.4 1716.7 576.7Z" fill="#fff" stroke="#1c1008" stroke-width="1.3"/>
<path d="M1720.7 567.7C1722.8 567.1 1728.7 565.2 1733.3 564C1737.9 562.8 1742.8 561.1 1748.3 560.7C1753.9 560.3 1759.2 560.7 1766.7 561.7C1774.2 562.7 1784.4 564.2 1793.3 566.7C1802.2 569.2 1811.9 572.3 1820 576.7C1828.1 581 1840.6 593.2 1841.7 592.7C1842.8 592.1 1833.1 577.7 1826.7 573.3C1820.3 569 1811.1 566.9 1803.3 566.7C1795.6 566.4 1787.2 568.3 1780 571.7C1772.8 575 1765.3 579.7 1760 586.7C1754.7 593.6 1750.6 604.4 1748.3 613.3C1746.1 622.2 1745.8 631.1 1746.7 640C1747.5 648.9 1750 659.4 1753.3 666.7C1756.7 673.9 1761.1 678.9 1766.7 683.3C1772.2 687.8 1786.7 692.1 1786.7 693.3C1786.7 694.6 1774.4 691.4 1766.7 690.7C1758.9 689.9 1748.4 689.9 1740 688.7C1731.6 687.4 1721.3 687.6 1716 683.3C1710.7 679.1 1710.4 670.6 1708.3 663.3C1706.2 656.1 1704.2 647.8 1703.3 640C1702.5 632.2 1702.5 624.4 1703.3 616.7C1704.2 608.9 1706.1 600 1708.3 593.3C1710.6 586.7 1715.3 579.4 1716.7 576.7Z" fill="#f2d6ae" stroke="#1c1008" stroke-width="1.3"/>
<text x="1701.5" y="137.8" font-family="'Liberation Sans', Arial, sans-serif" font-size="77.9" font-weight="bold" text-anchor="middle" fill="#0a80c8" >MADELINE ONLAY</text>
<text x="887" y="425" font-family="'Liberation Sans', Arial, sans-serif" font-size="45.5" font-weight="bold" text-anchor="middle" fill="#0a80c8" >MEDIUM</text>
<text x="886" y="481.8" font-family="'Liberation Sans', Arial, sans-serif" font-size="45.5" font-weight="bold" text-anchor="middle" fill="#0a80c8" >01903515-1</text>
<text x="553.5" y="1365.7" font-family="'Liberation Sans', Arial, sans-serif" font-size="45.5" font-weight="bold" text-anchor="middle" fill="#0a80c8" >LARGE</text>
<text x="551.3" y="1422" font-family="'Liberation Sans', Arial, sans-serif" font-size="45.5" font-weight="bold" text-anchor="middle" fill="#0a80c8" >01904715-1</text>
<text x="1513" y="442.3" font-family="'Liberation Sans', Arial, sans-serif" font-size="28" font-weight="normal" text-anchor="middle" fill="#1779b8" >20</text>
<text x="1621" y="1274.5" font-family="'Liberation Sans', Arial, sans-serif" font-size="28" font-weight="normal" text-anchor="middle" fill="#1779b8" >25</text>
<text x="652.5" y="795" font-family="'Liberation Sans', Arial, sans-serif" font-size="28" font-weight="normal" text-anchor="middle" fill="#1779b8" >3.5</text>
<text x="301" y="1830.5" font-family="'Liberation Sans', Arial, sans-serif" font-size="28" font-weight="normal" text-anchor="middle" fill="#1779b8" >4.75</text>
<text x="2599.5" y="293.8" font-family="'Liberation Sans', Arial, sans-serif" font-size="28" font-weight="normal" text-anchor="start" fill="#1779b8" >.75</text>
<text x="2975.6" y="1115" font-family="'Liberation Sans', Arial, sans-serif" font-size="28" font-weight="normal" text-anchor="start" fill="#1779b8" >.75</text>
<text x="3238" y="2484" font-family="'Liberation Sans', Arial, sans-serif" font-size="31" font-weight="normal" text-anchor="end" fill="#111" >1-800-328-5858 ~ www.brownwoodinc.com</text>
<text x="62" y="2409" font-family="'Liberation Serif', 'Times New Roman', serif" font-style="italic" font-size="112" fill="#21a5cb" textLength="352" lengthAdjust="spacingAndGlyphs">Designs</text>
<text x="438" y="2400" font-family="'Liberation Serif', 'Times New Roman', serif" font-size="50" fill="#21a5cb">of</text>
<path d="M437 2409 q12 -6 24 0 t22 -3" stroke="#21a5cb" stroke-width="3" fill="none"/>
<text x="503" y="2410" font-family="'Liberation Serif', 'Times New Roman', serif" font-size="76" fill="#21a5cb" textLength="385" lengthAdjust="spacing">distinction</text>
<text x="891" y="2393" font-family="'Liberation Serif', 'Times New Roman', serif" font-size="16" fill="#21a5cb">®</text>
<text x="506" y="2459" font-family="'Liberation Serif', 'Times New Roman', serif" font-size="37" fill="#7a4a1c" textLength="388" lengthAdjust="spacing">by Brown Wood, Inc.</text>
<text x="798" y="2493" font-family="'Liberation Serif', 'Times New Roman', serif" font-size="21.5" fill="#7a4a1c" textLength="96" lengthAdjust="spacing">est. 1998</text>
<line x1="907" y1="2445.5" x2="3238" y2="2445.5" stroke="#111" stroke-width="2"/>
</svg>
</body></html>
